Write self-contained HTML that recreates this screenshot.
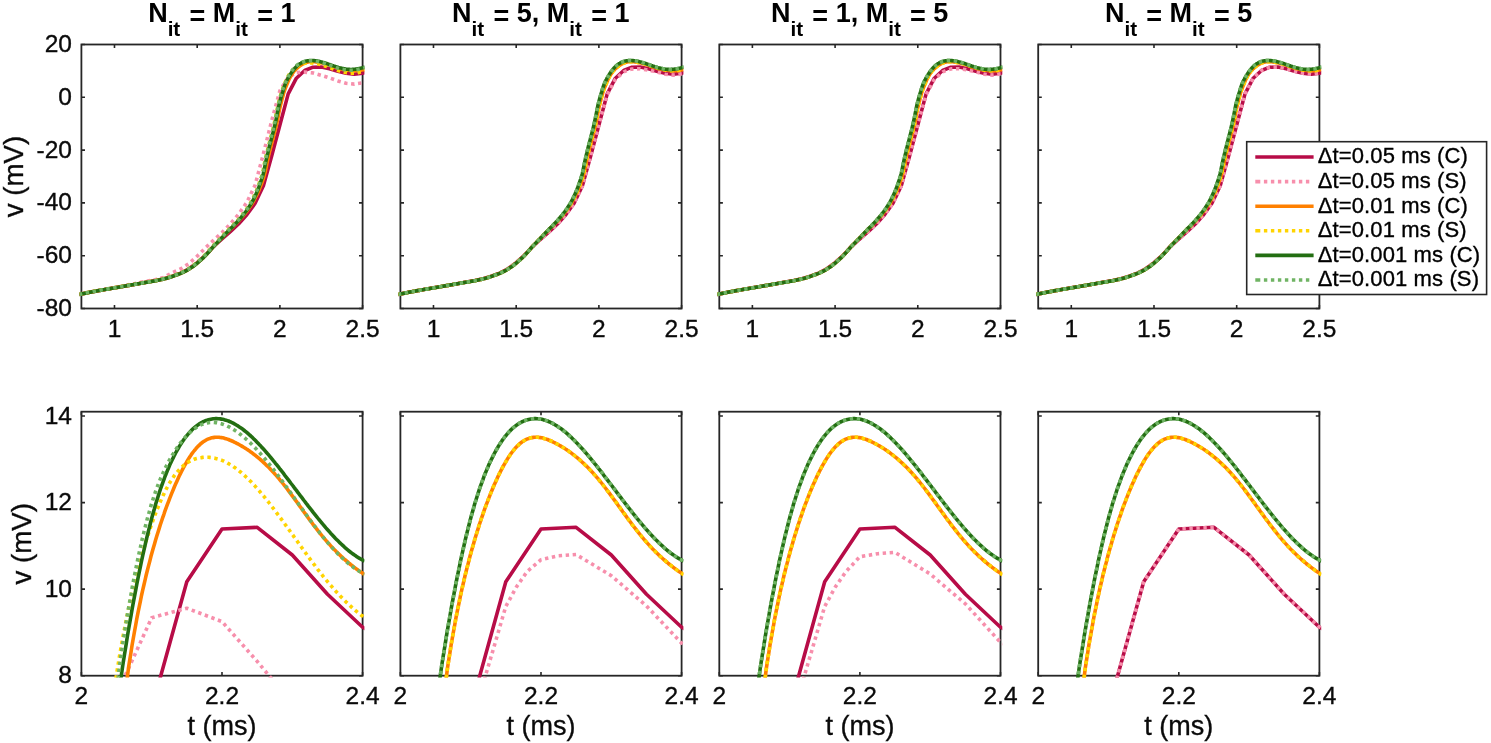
<!DOCTYPE html><html><head><meta charset="utf-8"><style>
html,body{margin:0;padding:0;background:#fff;width:1491px;height:743px;overflow:hidden}
svg{display:block;font-family:"Liberation Sans",sans-serif;will-change:transform}
.tk{font-size:24.5px;fill:#0a0a0a;stroke:#0a0a0a;stroke-width:0.35px}
.lb{font-size:27px;fill:#0a0a0a;stroke:#0a0a0a;stroke-width:0.35px}
.tt{font-size:27px;font-weight:bold;fill:#000}
.lg{font-size:22px;fill:#000;stroke:#000;stroke-width:0.35px;letter-spacing:0.12px}
</style></head><body>
<svg width="1491" height="743" viewBox="0 0 1491 743">
<defs>
<clipPath id="c00"><rect x="79.60" y="42.70" width="284.80" height="267.60"/></clipPath>
<clipPath id="c01"><rect x="398.60" y="42.70" width="284.80" height="267.60"/></clipPath>
<clipPath id="c02"><rect x="717.50" y="42.70" width="284.80" height="267.60"/></clipPath>
<clipPath id="c03"><rect x="1036.40" y="42.70" width="284.80" height="267.60"/></clipPath>
<clipPath id="c10"><rect x="79.60" y="409.90" width="284.80" height="267.60"/></clipPath>
<clipPath id="c11"><rect x="398.60" y="409.90" width="284.80" height="267.60"/></clipPath>
<clipPath id="c12"><rect x="717.50" y="409.90" width="284.80" height="267.60"/></clipPath>
<clipPath id="c13"><rect x="1036.40" y="409.90" width="284.80" height="267.60"/></clipPath>
</defs>
<rect x="81.40" y="44.50" width="281.20" height="264.00" fill="none" stroke="#262626" stroke-width="1.8"/>
<path d="M114.48 308.50V304.90M114.48 44.50V48.10M197.19 308.50V304.90M197.19 44.50V48.10M279.89 308.50V304.90M279.89 44.50V48.10M362.60 308.50V304.90M362.60 44.50V48.10M81.40 308.50H85.00M362.60 308.50H359.00M81.40 255.70H85.00M362.60 255.70H359.00M81.40 202.90H85.00M362.60 202.90H359.00M81.40 150.10H85.00M362.60 150.10H359.00M81.40 97.30H85.00M362.60 97.30H359.00M81.40 44.50H85.00M362.60 44.50H359.00" stroke="#262626" stroke-width="1.6" fill="none"/>
<g clip-path="url(#c00)" fill="none" stroke-width="3.60">
<path d="M78.1 294.7 81.4 294.0 89.7 292.3 97.9 290.7 106.2 289.3 114.5 287.8 122.8 286.4 131.0 285.0 139.3 283.5 147.6 282.1 155.8 280.6 164.1 278.8 172.4 276.2 180.6 273.1 188.9 268.8 197.2 262.6 205.5 255.2 213.7 246.3 222.0 238.9 230.3 231.6 238.5 224.0 246.8 214.8 255.1 203.3 263.4 185.8 271.6 156.3 279.9 125.0 288.2 93.9 296.4 78.2 304.7 70.5 313.0 67.2 321.2 67.1 329.5 68.8 337.8 71.2 346.1 73.2 354.3 74.3 362.6 73.1 365.9 72.7" stroke="#b70c47" stroke-linejoin="round" stroke-linecap="butt"/>
<path d="M78.1 294.4 81.4 293.7 89.7 292.0 97.9 290.5 106.2 289.0 114.5 287.6 122.8 286.0 131.0 284.3 139.3 282.7 147.6 281.0 155.8 279.4 164.1 277.3 172.4 272.6 180.6 268.9 188.9 263.6 197.2 256.2 205.5 247.8 213.7 240.1 222.0 232.5 230.3 224.0 238.5 214.3 246.8 202.4 255.1 185.2 263.4 153.8 271.6 121.1 279.9 90.7 288.2 77.3 296.4 72.6 304.7 72.1 313.0 72.9 321.2 75.3 329.5 77.9 337.8 80.9 346.1 83.3 354.3 84.1 362.6 82.8 365.9 82.3" stroke="#f78fac" stroke-dasharray="3.4 3.6" stroke-linejoin="round"/>
<path d="M78.9 294.5 79.7 294.3 80.5 294.2 81.3 294.0 82.1 293.8 82.8 293.7 83.6 293.5 84.4 293.4 85.2 293.2 86.0 293.0 86.8 292.9 87.5 292.7 88.3 292.6 89.1 292.4 89.9 292.3 90.7 292.1 91.5 292.0 92.2 291.8 93.0 291.7 93.8 291.5 94.6 291.4 95.4 291.2 96.2 291.1 97.0 290.9 97.7 290.8 98.5 290.6 99.3 290.5 100.1 290.4 100.9 290.2 101.7 290.1 102.4 289.9 103.2 289.8 104.0 289.7 104.8 289.5 105.6 289.4 106.4 289.3 107.1 289.1 107.9 289.0 108.7 288.9 109.5 288.7 110.3 288.6 111.1 288.5 111.8 288.3 112.6 288.2 113.4 288.1 114.2 287.9 115.0 287.8 115.8 287.7 116.6 287.5 117.3 287.4 118.1 287.2 118.9 287.1 119.7 287.0 120.5 286.8 121.3 286.7 122.0 286.6 122.8 286.4 123.6 286.3 124.4 286.2 125.2 286.0 126.0 285.9 126.7 285.8 127.5 285.6 128.3 285.5 129.1 285.4 129.9 285.2 130.7 285.1 131.4 284.9 132.2 284.8 133.0 284.7 133.8 284.5 134.6 284.4 135.4 284.3 136.2 284.1 136.9 284.0 137.7 283.9 138.5 283.7 139.3 283.6 140.1 283.4 140.9 283.3 141.6 283.2 142.4 283.0 143.2 282.9 144.0 282.8 144.8 282.6 145.6 282.5 146.3 282.3 147.1 282.2 147.9 282.1 148.7 281.9 149.5 281.8 150.3 281.7 151.0 281.6 151.8 281.4 152.6 281.3 153.4 281.1 154.2 281.0 155.0 280.9 155.8 280.7 156.5 280.6 157.3 280.4 158.1 280.3 158.9 280.1 159.7 279.9 160.5 279.8 161.2 279.6 162.0 279.4 162.8 279.2 163.6 279.0 164.4 278.8 165.2 278.6 165.9 278.4 166.7 278.2 167.5 277.9 168.3 277.7 169.1 277.5 169.9 277.2 170.6 277.0 171.4 276.7 172.2 276.4 173.0 276.2 173.8 275.9 174.6 275.6 175.4 275.3 176.1 275.0 176.9 274.8 177.7 274.5 178.5 274.2 179.3 273.9 180.1 273.6 180.8 273.3 181.6 272.9 182.4 272.6 183.2 272.2 184.0 271.9 184.8 271.5 185.5 271.1 186.3 270.7 187.1 270.2 187.9 269.8 188.7 269.3 189.5 268.8 190.2 268.3 191.0 267.8 191.8 267.3 192.6 266.7 193.4 266.2 194.2 265.6 195.0 265.0 195.7 264.3 196.5 263.7 197.3 263.1 198.1 262.4 198.9 261.7 199.7 261.0 200.4 260.3 201.2 259.6 202.0 258.9 202.8 258.2 203.6 257.4 204.4 256.6 205.1 255.9 205.9 255.0 206.7 254.2 207.5 253.3 208.3 252.5 209.1 251.6 209.8 250.7 210.6 249.8 211.4 248.9 212.2 248.0 213.0 247.1 213.8 246.3 214.6 245.4 215.3 244.6 216.1 243.8 216.9 242.9 217.7 242.1 218.5 241.3 219.3 240.5 220.0 239.7 220.8 238.9 221.6 238.1 222.4 237.3 223.2 236.5 224.0 235.6 224.7 234.8 225.5 234.0 226.3 233.2 227.1 232.4 227.9 231.6 228.7 230.8 229.4 230.0 230.2 229.2 231.0 228.5 231.8 227.7 232.6 227.0 233.4 226.2 234.2 225.4 234.9 224.6 235.7 223.8 236.5 223.0 237.3 222.2 238.1 221.4 238.9 220.6 239.6 219.7 240.4 218.8 241.2 217.9 242.0 217.0 242.8 216.1 243.6 215.2 244.3 214.3 245.1 213.3 245.9 212.3 246.7 211.3 247.5 210.3 248.3 209.2 249.0 208.1 249.8 207.0 250.6 205.9 251.4 204.6 252.2 203.4 253.0 202.1 253.8 200.7 254.5 199.2 255.3 197.8 256.1 196.2 256.9 194.6 257.7 193.0 258.5 191.3 259.2 189.5 260.0 187.7 260.8 185.7 261.6 183.7 262.4 181.5 263.2 179.2 263.9 176.7 264.7 173.9 265.5 170.7 266.3 166.8 267.1 162.7 267.9 159.0 268.6 155.6 269.4 152.4 270.2 149.3 271.0 146.2 271.8 143.1 272.6 140.0 273.4 137.0 274.1 134.0 274.9 131.0 275.7 127.9 276.5 124.7 277.3 121.1 278.1 117.1 278.8 113.1 279.6 109.2 280.4 105.7 281.2 102.5 282.0 99.3 282.8 96.4 283.5 93.7 284.3 91.2 285.1 88.9 285.9 86.8 286.7 84.8 287.5 83.0 288.2 81.2 289.0 79.5 289.8 78.0 290.6 76.5 291.4 75.0 292.2 73.8 293.0 72.7 293.7 71.7 294.5 70.7 295.3 69.9 296.1 69.1 296.9 68.3 297.7 67.6 298.4 67.0 299.2 66.4 300.0 65.8 300.8 65.3 301.6 64.8 302.4 64.3 303.1 63.9 303.9 63.5 304.7 63.1 305.5 62.8 306.3 62.5 307.1 62.3 307.8 62.1 308.6 61.9 309.4 61.8 310.2 61.7 311.0 61.7 311.8 61.6 312.6 61.6 313.3 61.7 314.1 61.7 314.9 61.8 315.7 61.9 316.5 62.0 317.3 62.1 318.0 62.2 318.8 62.4 319.6 62.5 320.4 62.7 321.2 62.8 322.0 63.0 322.7 63.2 323.5 63.4 324.3 63.6 325.1 63.8 325.9 64.0 326.7 64.3 327.4 64.5 328.2 64.8 329.0 65.0 329.8 65.3 330.6 65.6 331.4 65.9 332.2 66.2 332.9 66.4 333.7 66.7 334.5 67.0 335.3 67.2 336.1 67.5 336.9 67.8 337.6 68.0 338.4 68.2 339.2 68.4 340.0 68.6 340.8 68.8 341.6 69.0 342.3 69.2 343.1 69.4 343.9 69.5 344.7 69.7 345.5 69.8 346.3 70.0 347.0 70.1 347.8 70.2 348.6 70.3 349.4 70.4 350.2 70.5 351.0 70.6 351.8 70.6 352.5 70.7 353.3 70.7 354.1 70.7 354.9 70.7 355.7 70.7 356.5 70.7 357.2 70.6 358.0 70.6 358.8 70.5 359.6 70.4 360.4 70.3 361.2 70.1 361.9 70.0 362.7 69.8 363.5 69.7 364.3 69.5 365.1 69.3" stroke="#ff8000" stroke-linejoin="round" stroke-linecap="butt"/>
<path d="M78.9 294.3 79.7 294.1 80.5 294.0 81.3 293.8 82.1 293.6 82.8 293.5 83.6 293.3 84.4 293.2 85.2 293.0 86.0 292.8 86.8 292.7 87.5 292.5 88.3 292.4 89.1 292.2 89.9 292.1 90.7 291.9 91.5 291.8 92.2 291.6 93.0 291.5 93.8 291.3 94.6 291.2 95.4 291.0 96.2 290.9 97.0 290.7 97.7 290.6 98.5 290.5 99.3 290.3 100.1 290.2 100.9 290.0 101.7 289.9 102.4 289.8 103.2 289.6 104.0 289.5 104.8 289.4 105.6 289.2 106.4 289.1 107.1 289.0 107.9 288.8 108.7 288.7 109.5 288.6 110.3 288.4 111.1 288.3 111.8 288.2 112.6 288.0 113.4 287.9 114.2 287.8 115.0 287.6 115.8 287.5 116.6 287.3 117.3 287.2 118.1 287.1 118.9 286.9 119.7 286.8 120.5 286.7 121.3 286.5 122.0 286.4 122.8 286.3 123.6 286.1 124.4 286.0 125.2 285.9 126.0 285.7 126.7 285.6 127.5 285.5 128.3 285.3 129.1 285.2 129.9 285.0 130.7 284.9 131.4 284.8 132.2 284.6 133.0 284.5 133.8 284.4 134.6 284.2 135.4 284.1 136.2 284.0 136.9 283.8 137.7 283.7 138.5 283.5 139.3 283.4 140.1 283.3 140.9 283.1 141.6 283.0 142.4 282.9 143.2 282.7 144.0 282.6 144.8 282.4 145.6 282.3 146.3 282.2 147.1 282.0 147.9 281.9 148.7 281.8 149.5 281.6 150.3 281.5 151.0 281.4 151.8 281.2 152.6 281.1 153.4 281.0 154.2 280.8 155.0 280.7 155.8 280.5 156.5 280.4 157.3 280.2 158.1 280.1 158.9 279.9 159.7 279.7 160.5 279.6 161.2 279.4 162.0 279.2 162.8 279.0 163.6 278.8 164.4 278.5 165.2 278.3 165.9 278.1 166.7 277.9 167.5 277.6 168.3 277.4 169.1 277.1 169.9 276.9 170.6 276.6 171.4 276.4 172.2 276.1 173.0 275.8 173.8 275.5 174.6 275.2 175.4 275.0 176.1 274.7 176.9 274.4 177.7 274.1 178.5 273.8 179.3 273.5 180.1 273.2 180.8 272.9 181.6 272.5 182.4 272.1 183.2 271.8 184.0 271.4 184.8 271.0 185.5 270.5 186.3 270.1 187.1 269.7 187.9 269.2 188.7 268.7 189.5 268.2 190.2 267.7 191.0 267.2 191.8 266.6 192.6 266.0 193.4 265.4 194.2 264.8 195.0 264.2 195.7 263.5 196.5 262.9 197.3 262.2 198.1 261.5 198.9 260.8 199.7 260.1 200.4 259.4 201.2 258.7 202.0 258.0 202.8 257.2 203.6 256.4 204.4 255.6 205.1 254.8 205.9 254.0 206.7 253.1 207.5 252.2 208.3 251.3 209.1 250.5 209.8 249.6 210.6 248.7 211.4 247.8 212.2 246.9 213.0 246.1 213.8 245.2 214.6 244.4 215.3 243.6 216.1 242.7 216.9 241.9 217.7 241.1 218.5 240.3 219.3 239.5 220.0 238.7 220.8 237.9 221.6 237.1 222.4 236.2 223.2 235.4 224.0 234.6 224.7 233.7 225.5 232.9 226.3 232.1 227.1 231.3 227.9 230.4 228.7 229.6 229.4 228.9 230.2 228.1 231.0 227.3 231.8 226.5 232.6 225.7 233.4 224.9 234.2 224.1 234.9 223.3 235.7 222.5 236.5 221.6 237.3 220.8 238.1 219.9 238.9 219.0 239.6 218.1 240.4 217.1 241.2 216.2 242.0 215.2 242.8 214.3 243.6 213.3 244.3 212.3 245.1 211.2 245.9 210.1 246.7 209.0 247.5 207.9 248.3 206.7 249.0 205.5 249.8 204.2 250.6 202.8 251.4 201.4 252.2 199.9 253.0 198.4 253.8 196.8 254.5 195.1 255.3 193.4 256.1 191.6 256.9 189.7 257.7 187.7 258.5 185.6 259.2 183.4 260.0 181.1 260.8 178.8 261.6 176.2 262.4 173.4 263.2 170.1 263.9 166.1 264.7 162.0 265.5 158.4 266.3 155.1 267.1 151.9 267.9 148.8 268.6 145.7 269.4 142.6 270.2 139.5 271.0 136.5 271.8 133.5 272.6 130.5 273.4 127.4 274.1 124.1 274.9 120.4 275.7 116.5 276.5 112.5 277.3 108.6 278.1 105.1 278.8 101.9 279.6 98.9 280.4 95.9 281.2 93.2 282.0 90.8 282.8 88.6 283.5 86.4 284.3 84.4 285.1 82.5 285.9 80.7 286.7 79.0 287.5 77.4 288.2 75.9 289.0 74.7 289.8 73.6 290.6 72.6 291.4 71.6 292.2 70.8 293.0 69.9 293.7 69.2 294.5 68.5 295.3 67.8 296.1 67.2 296.9 66.6 297.7 66.1 298.4 65.6 299.2 65.1 300.0 64.7 300.8 64.4 301.6 64.0 302.4 63.8 303.1 63.6 303.9 63.4 304.7 63.2 305.5 63.1 306.3 63.0 307.1 62.9 307.8 62.9 308.6 62.9 309.4 62.9 310.2 62.9 311.0 62.9 311.8 62.9 312.6 63.0 313.3 63.1 314.1 63.2 314.9 63.3 315.7 63.4 316.5 63.6 317.3 63.7 318.0 63.9 318.8 64.1 319.6 64.3 320.4 64.5 321.2 64.7 322.0 65.0 322.7 65.2 323.5 65.5 324.3 65.7 325.1 66.0 325.9 66.3 326.7 66.5 327.4 66.8 328.2 67.1 329.0 67.4 329.8 67.7 330.6 67.9 331.4 68.2 332.2 68.5 332.9 68.8 333.7 69.1 334.5 69.3 335.3 69.6 336.1 69.9 336.9 70.1 337.6 70.4 338.4 70.6 339.2 70.9 340.0 71.1 340.8 71.3 341.6 71.5 342.3 71.7 343.1 71.9 343.9 72.1 344.7 72.3 345.5 72.4 346.3 72.6 347.0 72.7 347.8 72.9 348.6 73.0 349.4 73.1 350.2 73.2 351.0 73.2 351.8 73.3 352.5 73.3 353.3 73.3 354.1 73.3 354.9 73.2 355.7 73.1 356.5 73.0 357.2 72.9 358.0 72.7 358.8 72.5 359.6 72.3 360.4 72.1 361.2 71.9 361.9 71.7 362.7 71.5 363.5 71.3 364.3 71.2 365.1 71.0" stroke="#ffd400" stroke-dasharray="3.4 3.6" stroke-linejoin="round"/>
<path d="M78.9 294.5 79.7 294.3 80.5 294.2 81.3 294.0 82.1 293.8 82.8 293.7 83.6 293.5 84.4 293.4 85.2 293.2 86.0 293.0 86.8 292.9 87.5 292.7 88.3 292.6 89.1 292.4 89.9 292.3 90.7 292.1 91.5 292.0 92.2 291.8 93.0 291.7 93.8 291.5 94.6 291.4 95.4 291.2 96.2 291.1 97.0 290.9 97.7 290.8 98.5 290.6 99.3 290.5 100.1 290.4 100.9 290.2 101.7 290.1 102.4 289.9 103.2 289.8 104.0 289.7 104.8 289.5 105.6 289.4 106.4 289.3 107.1 289.1 107.9 289.0 108.7 288.9 109.5 288.7 110.3 288.6 111.1 288.5 111.8 288.3 112.6 288.2 113.4 288.1 114.2 287.9 115.0 287.8 115.8 287.7 116.6 287.5 117.3 287.4 118.1 287.2 118.9 287.1 119.7 287.0 120.5 286.8 121.3 286.7 122.0 286.6 122.8 286.4 123.6 286.3 124.4 286.2 125.2 286.0 126.0 285.9 126.7 285.8 127.5 285.6 128.3 285.5 129.1 285.4 129.9 285.2 130.7 285.1 131.4 284.9 132.2 284.8 133.0 284.7 133.8 284.5 134.6 284.4 135.4 284.3 136.2 284.1 136.9 284.0 137.7 283.9 138.5 283.7 139.3 283.6 140.1 283.4 140.9 283.3 141.6 283.2 142.4 283.0 143.2 282.9 144.0 282.8 144.8 282.6 145.6 282.5 146.3 282.3 147.1 282.2 147.9 282.1 148.7 281.9 149.5 281.8 150.3 281.7 151.0 281.6 151.8 281.4 152.6 281.3 153.4 281.1 154.2 281.0 155.0 280.9 155.8 280.7 156.5 280.6 157.3 280.4 158.1 280.3 158.9 280.1 159.7 279.9 160.5 279.8 161.2 279.6 162.0 279.4 162.8 279.2 163.6 279.0 164.4 278.8 165.2 278.6 165.9 278.4 166.7 278.2 167.5 277.9 168.3 277.7 169.1 277.5 169.9 277.2 170.6 277.0 171.4 276.7 172.2 276.4 173.0 276.2 173.8 275.9 174.6 275.6 175.4 275.3 176.1 275.0 176.9 274.8 177.7 274.5 178.5 274.2 179.3 273.9 180.1 273.6 180.8 273.3 181.6 272.9 182.4 272.6 183.2 272.2 184.0 271.9 184.8 271.5 185.5 271.1 186.3 270.7 187.1 270.2 187.9 269.8 188.7 269.3 189.5 268.8 190.2 268.3 191.0 267.8 191.8 267.3 192.6 266.7 193.4 266.2 194.2 265.6 195.0 265.0 195.7 264.3 196.5 263.7 197.3 263.1 198.1 262.4 198.9 261.7 199.7 261.0 200.4 260.3 201.2 259.6 202.0 258.9 202.8 258.2 203.6 257.4 204.4 256.6 205.1 255.9 205.9 255.0 206.7 254.2 207.5 253.3 208.3 252.5 209.1 251.6 209.8 250.7 210.6 249.8 211.4 248.9 212.2 248.0 213.0 247.1 213.8 246.3 214.6 245.4 215.3 244.6 216.1 243.8 216.9 243.0 217.7 242.1 218.5 241.3 219.3 240.5 220.0 239.7 220.8 238.9 221.6 238.1 222.4 237.3 223.2 236.5 224.0 235.6 224.7 234.8 225.5 234.0 226.3 233.1 227.1 232.3 227.9 231.5 228.7 230.7 229.4 229.9 230.2 229.1 231.0 228.3 231.8 227.5 232.6 226.7 233.4 225.9 234.2 225.1 234.9 224.3 235.7 223.5 236.5 222.7 237.3 221.8 238.1 221.0 238.9 220.1 239.6 219.2 240.4 218.3 241.2 217.4 242.0 216.4 242.8 215.5 243.6 214.5 244.3 213.5 245.1 212.5 245.9 211.5 246.7 210.4 247.5 209.3 248.3 208.2 249.0 207.0 249.8 205.8 250.6 204.5 251.4 203.2 252.2 201.8 253.0 200.3 253.8 198.8 254.5 197.2 255.3 195.6 256.1 193.9 256.9 192.1 257.7 190.2 258.5 188.3 259.2 186.2 260.0 184.0 260.8 181.7 261.6 179.4 262.4 176.9 263.2 174.2 263.9 171.1 264.7 167.2 265.5 163.1 266.3 159.3 267.1 155.9 267.9 152.7 268.6 149.6 269.4 146.5 270.2 143.4 271.0 140.4 271.8 137.3 272.6 134.3 273.4 131.3 274.1 128.3 274.9 125.0 275.7 121.4 276.5 117.5 277.3 113.5 278.1 109.6 278.8 106.0 279.6 102.8 280.4 99.7 281.2 96.8 282.0 94.1 282.8 91.5 283.5 89.0 284.3 86.6 285.1 84.4 285.9 82.4 286.7 80.7 287.5 79.3 288.2 77.9 289.0 76.7 289.8 75.2 290.6 74.0 291.4 72.8 292.2 71.6 293.0 70.6 293.7 69.6 294.5 68.6 295.3 67.7 296.1 66.9 296.9 66.2 297.7 65.5 298.4 64.8 299.2 64.3 300.0 63.7 300.8 63.3 301.6 62.8 302.4 62.5 303.1 62.1 303.9 61.8 304.7 61.5 305.5 61.3 306.3 61.1 307.1 60.9 307.8 60.8 308.6 60.7 309.4 60.6 310.2 60.5 311.0 60.5 311.8 60.5 312.6 60.5 313.3 60.6 314.1 60.6 314.9 60.7 315.7 60.8 316.5 60.9 317.3 61.0 318.0 61.2 318.8 61.3 319.6 61.5 320.4 61.7 321.2 61.9 322.0 62.1 322.7 62.4 323.5 62.6 324.3 62.8 325.1 63.1 325.9 63.3 326.7 63.6 327.4 63.8 328.2 64.1 329.0 64.4 329.8 64.6 330.6 64.9 331.4 65.2 332.2 65.5 332.9 65.7 333.7 66.0 334.5 66.2 335.3 66.5 336.1 66.7 336.9 67.0 337.6 67.2 338.4 67.5 339.2 67.7 340.0 67.9 340.8 68.1 341.6 68.3 342.3 68.5 343.1 68.6 343.9 68.8 344.7 68.9 345.5 69.0 346.3 69.2 347.0 69.2 347.8 69.3 348.6 69.4 349.4 69.4 350.2 69.5 351.0 69.5 351.8 69.5 352.5 69.4 353.3 69.4 354.1 69.3 354.9 69.2 355.7 69.1 356.5 69.0 357.2 68.9 358.0 68.7 358.8 68.6 359.6 68.4 360.4 68.2 361.2 68.1 361.9 67.9 362.7 67.7 363.5 67.5 364.3 67.3 365.1 67.1" stroke="#236e12" stroke-linejoin="round" stroke-linecap="butt"/>
<path d="M78.9 294.4 79.7 294.2 80.5 294.0 81.3 293.9 82.1 293.7 82.8 293.5 83.6 293.4 84.4 293.2 85.2 293.1 86.0 292.9 86.8 292.8 87.5 292.6 88.3 292.4 89.1 292.3 89.9 292.1 90.7 292.0 91.5 291.8 92.2 291.7 93.0 291.5 93.8 291.4 94.6 291.2 95.4 291.1 96.2 290.9 97.0 290.8 97.7 290.7 98.5 290.5 99.3 290.4 100.1 290.2 100.9 290.1 101.7 290.0 102.4 289.8 103.2 289.7 104.0 289.6 104.8 289.4 105.6 289.3 106.4 289.2 107.1 289.0 107.9 288.9 108.7 288.8 109.5 288.6 110.3 288.5 111.1 288.4 111.8 288.2 112.6 288.1 113.4 287.9 114.2 287.8 115.0 287.7 115.8 287.5 116.6 287.4 117.3 287.3 118.1 287.1 118.9 287.0 119.7 286.9 120.5 286.7 121.3 286.6 122.0 286.5 122.8 286.3 123.6 286.2 124.4 286.1 125.2 285.9 126.0 285.8 126.7 285.6 127.5 285.5 128.3 285.4 129.1 285.2 129.9 285.1 130.7 285.0 131.4 284.8 132.2 284.7 133.0 284.6 133.8 284.4 134.6 284.3 135.4 284.2 136.2 284.0 136.9 283.9 137.7 283.7 138.5 283.6 139.3 283.5 140.1 283.3 140.9 283.2 141.6 283.1 142.4 282.9 143.2 282.8 144.0 282.6 144.8 282.5 145.6 282.4 146.3 282.2 147.1 282.1 147.9 282.0 148.7 281.8 149.5 281.7 150.3 281.6 151.0 281.4 151.8 281.3 152.6 281.2 153.4 281.0 154.2 280.9 155.0 280.7 155.8 280.6 156.5 280.5 157.3 280.3 158.1 280.1 158.9 280.0 159.7 279.8 160.5 279.6 161.2 279.4 162.0 279.3 162.8 279.1 163.6 278.8 164.4 278.6 165.2 278.4 165.9 278.2 166.7 278.0 167.5 277.7 168.3 277.5 169.1 277.3 169.9 277.0 170.6 276.7 171.4 276.5 172.2 276.2 173.0 275.9 173.8 275.6 174.6 275.4 175.4 275.1 176.1 274.8 176.9 274.5 177.7 274.2 178.5 273.9 179.3 273.6 180.1 273.3 180.8 273.0 181.6 272.7 182.4 272.3 183.2 271.9 184.0 271.5 184.8 271.1 185.5 270.7 186.3 270.3 187.1 269.8 187.9 269.4 188.7 268.9 189.5 268.4 190.2 267.9 191.0 267.4 191.8 266.8 192.6 266.3 193.4 265.7 194.2 265.1 195.0 264.4 195.7 263.8 196.5 263.2 197.3 262.5 198.1 261.8 198.9 261.1 199.7 260.4 200.4 259.7 201.2 259.0 202.0 258.3 202.8 257.5 203.6 256.8 204.4 256.0 205.1 255.2 205.9 254.3 206.7 253.5 207.5 252.6 208.3 251.7 209.1 250.8 209.8 249.9 210.6 249.0 211.4 248.2 212.2 247.3 213.0 246.4 213.8 245.6 214.6 244.7 215.3 243.9 216.1 243.1 216.9 242.3 217.7 241.5 218.5 240.6 219.3 239.8 220.0 239.0 220.8 238.2 221.6 237.4 222.4 236.6 223.2 235.8 224.0 234.9 224.7 234.1 225.5 233.3 226.3 232.4 227.1 231.6 227.9 230.8 228.7 230.0 229.4 229.2 230.2 228.4 231.0 227.7 231.8 226.9 232.6 226.1 233.4 225.3 234.2 224.5 234.9 223.6 235.7 222.8 236.5 222.0 237.3 221.1 238.1 220.3 238.9 219.4 239.6 218.5 240.4 217.5 241.2 216.6 242.0 215.6 242.8 214.7 243.6 213.7 244.3 212.7 245.1 211.7 245.9 210.6 246.7 209.5 247.5 208.4 248.3 207.2 249.0 206.0 249.8 204.7 250.6 203.4 251.4 202.0 252.2 200.6 253.0 199.1 253.8 197.5 254.5 195.9 255.3 194.2 256.1 192.4 256.9 190.5 257.7 188.6 258.5 186.5 259.2 184.4 260.0 182.1 260.8 179.8 261.6 177.3 262.4 174.6 263.2 171.6 263.9 167.9 264.7 163.7 265.5 159.9 266.3 156.4 267.1 153.2 267.9 150.1 268.6 147.0 269.4 143.9 270.2 140.8 271.0 137.8 271.8 134.8 272.6 131.8 273.4 128.7 274.1 125.5 274.9 122.0 275.7 118.2 276.5 114.2 277.3 110.2 278.1 106.6 278.8 103.3 279.6 100.1 280.4 97.1 281.2 94.3 282.0 91.8 282.8 89.5 283.5 87.4 284.3 85.4 285.1 83.5 285.9 81.7 286.7 80.0 287.5 78.4 288.2 76.8 289.0 75.3 289.8 73.9 290.6 72.7 291.4 71.5 292.2 70.4 293.0 69.3 293.7 68.4 294.5 67.5 295.3 66.7 296.1 66.0 296.9 65.3 297.7 64.7 298.4 64.2 299.2 63.7 300.0 63.3 300.8 62.9 301.6 62.6 302.4 62.3 303.1 62.0 303.9 61.7 304.7 61.5 305.5 61.3 306.3 61.2 307.1 61.0 307.8 60.9 308.6 60.8 309.4 60.8 310.2 60.7 311.0 60.7 311.8 60.8 312.6 60.8 313.3 60.9 314.1 60.9 314.9 61.0 315.7 61.2 316.5 61.3 317.3 61.4 318.0 61.6 318.8 61.8 319.6 62.0 320.4 62.2 321.2 62.4 322.0 62.6 322.7 62.8 323.5 63.1 324.3 63.3 325.1 63.6 325.9 63.9 326.7 64.1 327.4 64.4 328.2 64.7 329.0 65.0 329.8 65.3 330.6 65.6 331.4 65.8 332.2 66.1 332.9 66.4 333.7 66.7 334.5 67.0 335.3 67.2 336.1 67.5 336.9 67.8 337.6 68.0 338.4 68.2 339.2 68.5 340.0 68.7 340.8 68.9 341.6 69.1 342.3 69.3 343.1 69.4 343.9 69.6 344.7 69.7 345.5 69.8 346.3 69.9 347.0 70.0 347.8 70.1 348.6 70.2 349.4 70.2 350.2 70.3 351.0 70.3 351.8 70.3 352.5 70.2 353.3 70.2 354.1 70.1 354.9 70.0 355.7 69.9 356.5 69.8 357.2 69.6 358.0 69.5 358.8 69.3 359.6 69.1 360.4 68.9 361.2 68.7 361.9 68.6 362.7 68.4 363.5 68.2 364.3 68.0 365.1 67.9" stroke="#70b464" stroke-dasharray="3.4 3.6" stroke-linejoin="round"/>
</g>
<text class="tk" x="114.48" y="336.90" text-anchor="middle">1</text>
<text class="tk" x="197.19" y="336.90" text-anchor="middle">1.5</text>
<text class="tk" x="279.89" y="336.90" text-anchor="middle">2</text>
<text class="tk" x="362.60" y="336.90" text-anchor="middle">2.5</text>
<text class="tk" x="72.00" y="316.00" text-anchor="end">-80</text>
<text class="tk" x="72.00" y="263.20" text-anchor="end">-60</text>
<text class="tk" x="72.00" y="210.40" text-anchor="end">-40</text>
<text class="tk" x="72.00" y="157.60" text-anchor="end">-20</text>
<text class="tk" x="72.00" y="104.80" text-anchor="end">0</text>
<text class="tk" x="72.00" y="52.00" text-anchor="end">20</text>
<text class="lb" style="font-size:27.7px" transform="translate(23.00 176.50) rotate(-90)" text-anchor="middle">v (mV)</text>
<text class="tt" x="221.80" y="22.3" text-anchor="middle">N<tspan font-size="20.7px" dy="13.2">it</tspan><tspan dy="-13.2" dx="1.7"> <tspan dy="3.0">=</tspan><tspan dy="-3.0"> </tspan></tspan>M<tspan font-size="20.7px" dy="13.2">it</tspan><tspan dy="-13.2" dx="1.7"> <tspan dy="3.0">=</tspan><tspan dy="-3.0"> </tspan>1</tspan></text>
<rect x="400.40" y="44.50" width="281.20" height="264.00" fill="none" stroke="#262626" stroke-width="1.8"/>
<path d="M433.48 308.50V304.90M433.48 44.50V48.10M516.19 308.50V304.90M516.19 44.50V48.10M598.89 308.50V304.90M598.89 44.50V48.10M681.60 308.50V304.90M681.60 44.50V48.10M400.40 308.50H404.00M681.60 308.50H678.00M400.40 255.70H404.00M681.60 255.70H678.00M400.40 202.90H404.00M681.60 202.90H678.00M400.40 150.10H404.00M681.60 150.10H678.00M400.40 97.30H404.00M681.60 97.30H678.00M400.40 44.50H404.00M681.60 44.50H678.00" stroke="#262626" stroke-width="1.6" fill="none"/>
<g clip-path="url(#c01)" fill="none" stroke-width="3.60">
<path d="M397.1 294.7 400.4 294.0 408.7 292.3 416.9 290.7 425.2 289.3 433.5 287.8 441.8 286.4 450.0 285.0 458.3 283.5 466.6 282.1 474.8 280.6 483.1 278.8 491.4 276.2 499.6 273.1 507.9 268.8 516.2 262.6 524.5 255.2 532.7 246.3 541.0 238.9 549.3 231.6 557.5 224.0 565.8 214.8 574.1 203.3 582.4 185.8 590.6 156.3 598.9 125.0 607.2 93.9 615.4 78.2 623.7 70.5 632.0 67.2 640.2 67.1 648.5 68.8 656.8 71.2 665.1 73.2 673.3 74.3 681.6 73.1 684.9 72.7" stroke="#b70c47" stroke-linejoin="round" stroke-linecap="butt"/>
<path d="M397.1 294.7 400.4 294.0 408.7 292.3 416.9 290.7 425.2 289.3 433.5 287.8 441.8 286.4 450.0 285.0 458.3 283.5 466.6 282.1 474.8 280.6 483.1 278.8 491.4 276.2 499.6 273.1 507.9 268.8 516.2 262.6 524.5 255.2 532.7 246.3 541.0 238.9 549.3 231.6 557.5 224.0 565.8 214.8 574.1 203.3 582.4 185.8 590.6 156.3 598.9 125.0 607.2 94.7 615.4 79.3 623.7 72.0 626.2 70.8 628.7 69.8 632.0 69.1 636.1 68.9 640.2 68.8 648.5 70.1 656.8 71.9 665.1 74.2 673.3 75.1 681.6 73.9 684.9 73.5" stroke="#f78fac" stroke-dasharray="3.4 3.6" stroke-linejoin="round"/>
<path d="M397.9 294.5 398.7 294.3 399.5 294.2 400.3 294.0 401.1 293.8 401.8 293.7 402.6 293.5 403.4 293.4 404.2 293.2 405.0 293.0 405.8 292.9 406.5 292.7 407.3 292.6 408.1 292.4 408.9 292.3 409.7 292.1 410.5 292.0 411.2 291.8 412.0 291.7 412.8 291.5 413.6 291.4 414.4 291.2 415.2 291.1 416.0 290.9 416.7 290.8 417.5 290.6 418.3 290.5 419.1 290.4 419.9 290.2 420.7 290.1 421.4 289.9 422.2 289.8 423.0 289.7 423.8 289.5 424.6 289.4 425.4 289.3 426.1 289.1 426.9 289.0 427.7 288.9 428.5 288.7 429.3 288.6 430.1 288.5 430.8 288.3 431.6 288.2 432.4 288.1 433.2 287.9 434.0 287.8 434.8 287.7 435.6 287.5 436.3 287.4 437.1 287.2 437.9 287.1 438.7 287.0 439.5 286.8 440.3 286.7 441.0 286.6 441.8 286.4 442.6 286.3 443.4 286.2 444.2 286.0 445.0 285.9 445.7 285.8 446.5 285.6 447.3 285.5 448.1 285.4 448.9 285.2 449.7 285.1 450.4 284.9 451.2 284.8 452.0 284.7 452.8 284.5 453.6 284.4 454.4 284.3 455.2 284.1 455.9 284.0 456.7 283.9 457.5 283.7 458.3 283.6 459.1 283.4 459.9 283.3 460.6 283.2 461.4 283.0 462.2 282.9 463.0 282.8 463.8 282.6 464.6 282.5 465.3 282.3 466.1 282.2 466.9 282.1 467.7 281.9 468.5 281.8 469.3 281.7 470.0 281.6 470.8 281.4 471.6 281.3 472.4 281.1 473.2 281.0 474.0 280.9 474.8 280.7 475.5 280.6 476.3 280.4 477.1 280.3 477.9 280.1 478.7 279.9 479.5 279.8 480.2 279.6 481.0 279.4 481.8 279.2 482.6 279.0 483.4 278.8 484.2 278.6 484.9 278.4 485.7 278.2 486.5 277.9 487.3 277.7 488.1 277.5 488.9 277.2 489.6 277.0 490.4 276.7 491.2 276.4 492.0 276.2 492.8 275.9 493.6 275.6 494.4 275.3 495.1 275.0 495.9 274.8 496.7 274.5 497.5 274.2 498.3 273.9 499.1 273.6 499.8 273.3 500.6 272.9 501.4 272.6 502.2 272.2 503.0 271.9 503.8 271.5 504.5 271.1 505.3 270.7 506.1 270.2 506.9 269.8 507.7 269.3 508.5 268.8 509.2 268.3 510.0 267.8 510.8 267.3 511.6 266.7 512.4 266.2 513.2 265.6 514.0 265.0 514.7 264.3 515.5 263.7 516.3 263.1 517.1 262.4 517.9 261.7 518.7 261.0 519.4 260.3 520.2 259.6 521.0 258.9 521.8 258.2 522.6 257.4 523.4 256.6 524.1 255.9 524.9 255.0 525.7 254.2 526.5 253.3 527.3 252.5 528.1 251.6 528.8 250.7 529.6 249.8 530.4 248.9 531.2 248.0 532.0 247.1 532.8 246.3 533.6 245.4 534.3 244.6 535.1 243.8 535.9 242.9 536.7 242.1 537.5 241.3 538.3 240.5 539.0 239.7 539.8 238.9 540.6 238.1 541.4 237.3 542.2 236.5 543.0 235.6 543.7 234.8 544.5 234.0 545.3 233.2 546.1 232.4 546.9 231.6 547.7 230.8 548.4 230.0 549.2 229.2 550.0 228.5 550.8 227.7 551.6 227.0 552.4 226.2 553.2 225.4 553.9 224.6 554.7 223.8 555.5 223.0 556.3 222.2 557.1 221.4 557.9 220.6 558.6 219.7 559.4 218.8 560.2 217.9 561.0 217.0 561.8 216.1 562.6 215.2 563.3 214.3 564.1 213.3 564.9 212.3 565.7 211.3 566.5 210.3 567.3 209.2 568.0 208.1 568.8 207.0 569.6 205.9 570.4 204.6 571.2 203.4 572.0 202.1 572.8 200.7 573.5 199.2 574.3 197.8 575.1 196.2 575.9 194.6 576.7 193.0 577.5 191.3 578.2 189.5 579.0 187.7 579.8 185.7 580.6 183.7 581.4 181.5 582.2 179.2 582.9 176.7 583.7 173.9 584.5 170.7 585.3 166.8 586.1 162.7 586.9 159.0 587.6 155.6 588.4 152.4 589.2 149.3 590.0 146.2 590.8 143.1 591.6 140.0 592.4 137.0 593.1 134.0 593.9 131.0 594.7 127.9 595.5 124.7 596.3 121.1 597.1 117.1 597.8 113.1 598.6 109.2 599.4 105.7 600.2 102.5 601.0 99.3 601.8 96.4 602.5 93.7 603.3 91.2 604.1 88.9 604.9 86.8 605.7 84.8 606.5 83.0 607.2 81.2 608.0 79.5 608.8 78.0 609.6 76.5 610.4 75.0 611.2 73.8 612.0 72.7 612.7 71.7 613.5 70.7 614.3 69.9 615.1 69.1 615.9 68.3 616.7 67.6 617.4 67.0 618.2 66.4 619.0 65.8 619.8 65.3 620.6 64.8 621.4 64.3 622.1 63.9 622.9 63.5 623.7 63.1 624.5 62.8 625.3 62.5 626.1 62.3 626.8 62.1 627.6 61.9 628.4 61.8 629.2 61.7 630.0 61.7 630.8 61.6 631.6 61.6 632.3 61.7 633.1 61.7 633.9 61.8 634.7 61.9 635.5 62.0 636.3 62.1 637.0 62.2 637.8 62.4 638.6 62.5 639.4 62.7 640.2 62.8 641.0 63.0 641.7 63.2 642.5 63.4 643.3 63.6 644.1 63.8 644.9 64.0 645.7 64.3 646.4 64.5 647.2 64.8 648.0 65.0 648.8 65.3 649.6 65.6 650.4 65.9 651.2 66.2 651.9 66.4 652.7 66.7 653.5 67.0 654.3 67.2 655.1 67.5 655.9 67.8 656.6 68.0 657.4 68.2 658.2 68.4 659.0 68.6 659.8 68.8 660.6 69.0 661.3 69.2 662.1 69.4 662.9 69.5 663.7 69.7 664.5 69.8 665.3 70.0 666.0 70.1 666.8 70.2 667.6 70.3 668.4 70.4 669.2 70.5 670.0 70.6 670.8 70.6 671.5 70.7 672.3 70.7 673.1 70.7 673.9 70.7 674.7 70.7 675.5 70.7 676.2 70.6 677.0 70.6 677.8 70.5 678.6 70.4 679.4 70.3 680.2 70.1 680.9 70.0 681.7 69.8 682.5 69.7 683.3 69.5 684.1 69.3" stroke="#ff8000" stroke-linejoin="round" stroke-linecap="butt"/>
<path d="M397.9 294.5 398.7 294.3 399.5 294.2 400.3 294.0 401.1 293.8 401.8 293.7 402.6 293.5 403.4 293.4 404.2 293.2 405.0 293.0 405.8 292.9 406.5 292.7 407.3 292.6 408.1 292.4 408.9 292.3 409.7 292.1 410.5 292.0 411.2 291.8 412.0 291.7 412.8 291.5 413.6 291.4 414.4 291.2 415.2 291.1 416.0 290.9 416.7 290.8 417.5 290.6 418.3 290.5 419.1 290.4 419.9 290.2 420.7 290.1 421.4 289.9 422.2 289.8 423.0 289.7 423.8 289.5 424.6 289.4 425.4 289.3 426.1 289.1 426.9 289.0 427.7 288.9 428.5 288.7 429.3 288.6 430.1 288.5 430.8 288.3 431.6 288.2 432.4 288.1 433.2 287.9 434.0 287.8 434.8 287.7 435.6 287.5 436.3 287.4 437.1 287.2 437.9 287.1 438.7 287.0 439.5 286.8 440.3 286.7 441.0 286.6 441.8 286.4 442.6 286.3 443.4 286.2 444.2 286.0 445.0 285.9 445.7 285.8 446.5 285.6 447.3 285.5 448.1 285.4 448.9 285.2 449.7 285.1 450.4 284.9 451.2 284.8 452.0 284.7 452.8 284.5 453.6 284.4 454.4 284.3 455.2 284.1 455.9 284.0 456.7 283.9 457.5 283.7 458.3 283.6 459.1 283.4 459.9 283.3 460.6 283.2 461.4 283.0 462.2 282.9 463.0 282.8 463.8 282.6 464.6 282.5 465.3 282.3 466.1 282.2 466.9 282.1 467.7 281.9 468.5 281.8 469.3 281.7 470.0 281.6 470.8 281.4 471.6 281.3 472.4 281.1 473.2 281.0 474.0 280.9 474.8 280.7 475.5 280.6 476.3 280.4 477.1 280.3 477.9 280.1 478.7 279.9 479.5 279.8 480.2 279.6 481.0 279.4 481.8 279.2 482.6 279.0 483.4 278.8 484.2 278.6 484.9 278.4 485.7 278.2 486.5 277.9 487.3 277.7 488.1 277.5 488.9 277.2 489.6 277.0 490.4 276.7 491.2 276.4 492.0 276.2 492.8 275.9 493.6 275.6 494.4 275.3 495.1 275.0 495.9 274.8 496.7 274.5 497.5 274.2 498.3 273.9 499.1 273.6 499.8 273.3 500.6 272.9 501.4 272.6 502.2 272.2 503.0 271.9 503.8 271.5 504.5 271.1 505.3 270.7 506.1 270.2 506.9 269.8 507.7 269.3 508.5 268.8 509.2 268.3 510.0 267.8 510.8 267.3 511.6 266.7 512.4 266.2 513.2 265.6 514.0 265.0 514.7 264.3 515.5 263.7 516.3 263.1 517.1 262.4 517.9 261.7 518.7 261.0 519.4 260.3 520.2 259.6 521.0 258.9 521.8 258.2 522.6 257.4 523.4 256.6 524.1 255.9 524.9 255.0 525.7 254.2 526.5 253.3 527.3 252.5 528.1 251.6 528.8 250.7 529.6 249.8 530.4 248.9 531.2 248.0 532.0 247.1 532.8 246.3 533.6 245.4 534.3 244.6 535.1 243.8 535.9 242.9 536.7 242.1 537.5 241.3 538.3 240.5 539.0 239.7 539.8 238.9 540.6 238.1 541.4 237.3 542.2 236.5 543.0 235.6 543.7 234.8 544.5 234.0 545.3 233.2 546.1 232.4 546.9 231.6 547.7 230.8 548.4 230.0 549.2 229.2 550.0 228.5 550.8 227.7 551.6 227.0 552.4 226.2 553.2 225.4 553.9 224.6 554.7 223.8 555.5 223.0 556.3 222.2 557.1 221.4 557.9 220.6 558.6 219.7 559.4 218.8 560.2 217.9 561.0 217.0 561.8 216.1 562.6 215.2 563.3 214.3 564.1 213.3 564.9 212.3 565.7 211.3 566.5 210.3 567.3 209.2 568.0 208.1 568.8 207.0 569.6 205.9 570.4 204.6 571.2 203.4 572.0 202.1 572.8 200.7 573.5 199.2 574.3 197.8 575.1 196.2 575.9 194.6 576.7 193.0 577.5 191.3 578.2 189.5 579.0 187.7 579.8 185.7 580.6 183.7 581.4 181.5 582.2 179.2 582.9 176.7 583.7 173.9 584.5 170.7 585.3 166.8 586.1 162.7 586.9 159.0 587.6 155.6 588.4 152.4 589.2 149.3 590.0 146.2 590.8 143.1 591.6 140.0 592.4 137.0 593.1 134.0 593.9 131.0 594.7 127.9 595.5 124.7 596.3 121.1 597.1 117.1 597.8 113.1 598.6 109.2 599.4 105.7 600.2 102.5 601.0 99.3 601.8 96.4 602.5 93.7 603.3 91.2 604.1 88.9 604.9 86.8 605.7 84.8 606.5 83.0 607.2 81.2 608.0 79.5 608.8 78.0 609.6 76.5 610.4 75.0 611.2 73.8 612.0 72.7 612.7 71.7 613.5 70.7 614.3 69.9 615.1 69.1 615.9 68.3 616.7 67.6 617.4 67.0 618.2 66.4 619.0 65.8 619.8 65.3 620.6 64.8 621.4 64.3 622.1 63.9 622.9 63.5 623.7 63.1 624.5 62.8 625.3 62.5 626.1 62.3 626.8 62.1 627.6 61.9 628.4 61.8 629.2 61.7 630.0 61.7 630.8 61.6 631.6 61.6 632.3 61.7 633.1 61.7 633.9 61.8 634.7 61.9 635.5 62.0 636.3 62.1 637.0 62.2 637.8 62.4 638.6 62.5 639.4 62.7 640.2 62.8 641.0 63.0 641.7 63.2 642.5 63.4 643.3 63.6 644.1 63.8 644.9 64.0 645.7 64.3 646.4 64.5 647.2 64.8 648.0 65.0 648.8 65.3 649.6 65.6 650.4 65.9 651.2 66.2 651.9 66.4 652.7 66.7 653.5 67.0 654.3 67.2 655.1 67.5 655.9 67.8 656.6 68.0 657.4 68.2 658.2 68.4 659.0 68.6 659.8 68.8 660.6 69.0 661.3 69.2 662.1 69.4 662.9 69.5 663.7 69.7 664.5 69.8 665.3 70.0 666.0 70.1 666.8 70.2 667.6 70.3 668.4 70.4 669.2 70.5 670.0 70.6 670.8 70.6 671.5 70.7 672.3 70.7 673.1 70.7 673.9 70.7 674.7 70.7 675.5 70.7 676.2 70.6 677.0 70.6 677.8 70.5 678.6 70.4 679.4 70.3 680.2 70.1 680.9 70.0 681.7 69.8 682.5 69.7 683.3 69.5 684.1 69.3" stroke="#ffd400" stroke-dasharray="3.4 3.6" stroke-linejoin="round"/>
<path d="M397.9 294.5 398.7 294.3 399.5 294.2 400.3 294.0 401.1 293.8 401.8 293.7 402.6 293.5 403.4 293.4 404.2 293.2 405.0 293.0 405.8 292.9 406.5 292.7 407.3 292.6 408.1 292.4 408.9 292.3 409.7 292.1 410.5 292.0 411.2 291.8 412.0 291.7 412.8 291.5 413.6 291.4 414.4 291.2 415.2 291.1 416.0 290.9 416.7 290.8 417.5 290.6 418.3 290.5 419.1 290.4 419.9 290.2 420.7 290.1 421.4 289.9 422.2 289.8 423.0 289.7 423.8 289.5 424.6 289.4 425.4 289.3 426.1 289.1 426.9 289.0 427.7 288.9 428.5 288.7 429.3 288.6 430.1 288.5 430.8 288.3 431.6 288.2 432.4 288.1 433.2 287.9 434.0 287.8 434.8 287.7 435.6 287.5 436.3 287.4 437.1 287.2 437.9 287.1 438.7 287.0 439.5 286.8 440.3 286.7 441.0 286.6 441.8 286.4 442.6 286.3 443.4 286.2 444.2 286.0 445.0 285.9 445.7 285.8 446.5 285.6 447.3 285.5 448.1 285.4 448.9 285.2 449.7 285.1 450.4 284.9 451.2 284.8 452.0 284.7 452.8 284.5 453.6 284.4 454.4 284.3 455.2 284.1 455.9 284.0 456.7 283.9 457.5 283.7 458.3 283.6 459.1 283.4 459.9 283.3 460.6 283.2 461.4 283.0 462.2 282.9 463.0 282.8 463.8 282.6 464.6 282.5 465.3 282.3 466.1 282.2 466.9 282.1 467.7 281.9 468.5 281.8 469.3 281.7 470.0 281.6 470.8 281.4 471.6 281.3 472.4 281.1 473.2 281.0 474.0 280.9 474.8 280.7 475.5 280.6 476.3 280.4 477.1 280.3 477.9 280.1 478.7 279.9 479.5 279.8 480.2 279.6 481.0 279.4 481.8 279.2 482.6 279.0 483.4 278.8 484.2 278.6 484.9 278.4 485.7 278.2 486.5 277.9 487.3 277.7 488.1 277.5 488.9 277.2 489.6 277.0 490.4 276.7 491.2 276.4 492.0 276.2 492.8 275.9 493.6 275.6 494.4 275.3 495.1 275.0 495.9 274.8 496.7 274.5 497.5 274.2 498.3 273.9 499.1 273.6 499.8 273.3 500.6 272.9 501.4 272.6 502.2 272.2 503.0 271.9 503.8 271.5 504.5 271.1 505.3 270.7 506.1 270.2 506.9 269.8 507.7 269.3 508.5 268.8 509.2 268.3 510.0 267.8 510.8 267.3 511.6 266.7 512.4 266.2 513.2 265.6 514.0 265.0 514.7 264.3 515.5 263.7 516.3 263.1 517.1 262.4 517.9 261.7 518.7 261.0 519.4 260.3 520.2 259.6 521.0 258.9 521.8 258.2 522.6 257.4 523.4 256.6 524.1 255.9 524.9 255.0 525.7 254.2 526.5 253.3 527.3 252.5 528.1 251.6 528.8 250.7 529.6 249.8 530.4 248.9 531.2 248.0 532.0 247.1 532.8 246.3 533.6 245.4 534.3 244.6 535.1 243.8 535.9 243.0 536.7 242.1 537.5 241.3 538.3 240.5 539.0 239.7 539.8 238.9 540.6 238.1 541.4 237.3 542.2 236.5 543.0 235.6 543.7 234.8 544.5 234.0 545.3 233.1 546.1 232.3 546.9 231.5 547.7 230.7 548.4 229.9 549.2 229.1 550.0 228.3 550.8 227.5 551.6 226.7 552.4 225.9 553.2 225.1 553.9 224.3 554.7 223.5 555.5 222.7 556.3 221.8 557.1 221.0 557.9 220.1 558.6 219.2 559.4 218.3 560.2 217.4 561.0 216.4 561.8 215.5 562.6 214.5 563.3 213.5 564.1 212.5 564.9 211.5 565.7 210.4 566.5 209.3 567.3 208.2 568.0 207.0 568.8 205.8 569.6 204.5 570.4 203.2 571.2 201.8 572.0 200.3 572.8 198.8 573.5 197.2 574.3 195.6 575.1 193.9 575.9 192.1 576.7 190.2 577.5 188.3 578.2 186.2 579.0 184.0 579.8 181.7 580.6 179.4 581.4 176.9 582.2 174.2 582.9 171.1 583.7 167.2 584.5 163.1 585.3 159.3 586.1 155.9 586.9 152.7 587.6 149.6 588.4 146.5 589.2 143.4 590.0 140.4 590.8 137.3 591.6 134.3 592.4 131.3 593.1 128.3 593.9 125.0 594.7 121.4 595.5 117.5 596.3 113.5 597.1 109.6 597.8 106.0 598.6 102.8 599.4 99.7 600.2 96.8 601.0 94.1 601.8 91.5 602.5 89.0 603.3 86.6 604.1 84.4 604.9 82.4 605.7 80.7 606.5 79.3 607.2 77.9 608.0 76.7 608.8 75.2 609.6 74.0 610.4 72.8 611.2 71.6 612.0 70.6 612.7 69.6 613.5 68.6 614.3 67.7 615.1 66.9 615.9 66.2 616.7 65.5 617.4 64.8 618.2 64.3 619.0 63.7 619.8 63.3 620.6 62.8 621.4 62.5 622.1 62.1 622.9 61.8 623.7 61.5 624.5 61.3 625.3 61.1 626.1 60.9 626.8 60.8 627.6 60.7 628.4 60.6 629.2 60.5 630.0 60.5 630.8 60.5 631.6 60.5 632.3 60.6 633.1 60.6 633.9 60.7 634.7 60.8 635.5 60.9 636.3 61.0 637.0 61.2 637.8 61.3 638.6 61.5 639.4 61.7 640.2 61.9 641.0 62.1 641.7 62.4 642.5 62.6 643.3 62.8 644.1 63.1 644.9 63.3 645.7 63.6 646.4 63.8 647.2 64.1 648.0 64.4 648.8 64.6 649.6 64.9 650.4 65.2 651.2 65.5 651.9 65.7 652.7 66.0 653.5 66.2 654.3 66.5 655.1 66.7 655.9 67.0 656.6 67.2 657.4 67.5 658.2 67.7 659.0 67.9 659.8 68.1 660.6 68.3 661.3 68.5 662.1 68.6 662.9 68.8 663.7 68.9 664.5 69.0 665.3 69.2 666.0 69.2 666.8 69.3 667.6 69.4 668.4 69.4 669.2 69.5 670.0 69.5 670.8 69.5 671.5 69.4 672.3 69.4 673.1 69.3 673.9 69.2 674.7 69.1 675.5 69.0 676.2 68.9 677.0 68.7 677.8 68.6 678.6 68.4 679.4 68.2 680.2 68.1 680.9 67.9 681.7 67.7 682.5 67.5 683.3 67.3 684.1 67.1" stroke="#236e12" stroke-linejoin="round" stroke-linecap="butt"/>
<path d="M397.9 294.5 398.7 294.3 399.5 294.2 400.3 294.0 401.1 293.8 401.8 293.7 402.6 293.5 403.4 293.4 404.2 293.2 405.0 293.0 405.8 292.9 406.5 292.7 407.3 292.6 408.1 292.4 408.9 292.3 409.7 292.1 410.5 292.0 411.2 291.8 412.0 291.7 412.8 291.5 413.6 291.4 414.4 291.2 415.2 291.1 416.0 290.9 416.7 290.8 417.5 290.6 418.3 290.5 419.1 290.4 419.9 290.2 420.7 290.1 421.4 289.9 422.2 289.8 423.0 289.7 423.8 289.5 424.6 289.4 425.4 289.3 426.1 289.1 426.9 289.0 427.7 288.9 428.5 288.7 429.3 288.6 430.1 288.5 430.8 288.3 431.6 288.2 432.4 288.1 433.2 287.9 434.0 287.8 434.8 287.7 435.6 287.5 436.3 287.4 437.1 287.2 437.9 287.1 438.7 287.0 439.5 286.8 440.3 286.7 441.0 286.6 441.8 286.4 442.6 286.3 443.4 286.2 444.2 286.0 445.0 285.9 445.7 285.8 446.5 285.6 447.3 285.5 448.1 285.4 448.9 285.2 449.7 285.1 450.4 284.9 451.2 284.8 452.0 284.7 452.8 284.5 453.6 284.4 454.4 284.3 455.2 284.1 455.9 284.0 456.7 283.9 457.5 283.7 458.3 283.6 459.1 283.4 459.9 283.3 460.6 283.2 461.4 283.0 462.2 282.9 463.0 282.8 463.8 282.6 464.6 282.5 465.3 282.3 466.1 282.2 466.9 282.1 467.7 281.9 468.5 281.8 469.3 281.7 470.0 281.6 470.8 281.4 471.6 281.3 472.4 281.1 473.2 281.0 474.0 280.9 474.8 280.7 475.5 280.6 476.3 280.4 477.1 280.3 477.9 280.1 478.7 279.9 479.5 279.8 480.2 279.6 481.0 279.4 481.8 279.2 482.6 279.0 483.4 278.8 484.2 278.6 484.9 278.4 485.7 278.2 486.5 277.9 487.3 277.7 488.1 277.5 488.9 277.2 489.6 277.0 490.4 276.7 491.2 276.4 492.0 276.2 492.8 275.9 493.6 275.6 494.4 275.3 495.1 275.0 495.9 274.8 496.7 274.5 497.5 274.2 498.3 273.9 499.1 273.6 499.8 273.3 500.6 272.9 501.4 272.6 502.2 272.2 503.0 271.9 503.8 271.5 504.5 271.1 505.3 270.7 506.1 270.2 506.9 269.8 507.7 269.3 508.5 268.8 509.2 268.3 510.0 267.8 510.8 267.3 511.6 266.7 512.4 266.2 513.2 265.6 514.0 265.0 514.7 264.3 515.5 263.7 516.3 263.1 517.1 262.4 517.9 261.7 518.7 261.0 519.4 260.3 520.2 259.6 521.0 258.9 521.8 258.2 522.6 257.4 523.4 256.6 524.1 255.9 524.9 255.0 525.7 254.2 526.5 253.3 527.3 252.5 528.1 251.6 528.8 250.7 529.6 249.8 530.4 248.9 531.2 248.0 532.0 247.1 532.8 246.3 533.6 245.4 534.3 244.6 535.1 243.8 535.9 243.0 536.7 242.1 537.5 241.3 538.3 240.5 539.0 239.7 539.8 238.9 540.6 238.1 541.4 237.3 542.2 236.5 543.0 235.6 543.7 234.8 544.5 234.0 545.3 233.1 546.1 232.3 546.9 231.5 547.7 230.7 548.4 229.9 549.2 229.1 550.0 228.3 550.8 227.5 551.6 226.7 552.4 225.9 553.2 225.1 553.9 224.3 554.7 223.5 555.5 222.7 556.3 221.8 557.1 221.0 557.9 220.1 558.6 219.2 559.4 218.3 560.2 217.4 561.0 216.4 561.8 215.5 562.6 214.5 563.3 213.5 564.1 212.5 564.9 211.5 565.7 210.4 566.5 209.3 567.3 208.2 568.0 207.0 568.8 205.8 569.6 204.5 570.4 203.2 571.2 201.8 572.0 200.3 572.8 198.8 573.5 197.2 574.3 195.6 575.1 193.9 575.9 192.1 576.7 190.2 577.5 188.3 578.2 186.2 579.0 184.0 579.8 181.7 580.6 179.4 581.4 176.9 582.2 174.2 582.9 171.1 583.7 167.2 584.5 163.1 585.3 159.3 586.1 155.9 586.9 152.7 587.6 149.6 588.4 146.5 589.2 143.4 590.0 140.4 590.8 137.3 591.6 134.3 592.4 131.3 593.1 128.3 593.9 125.0 594.7 121.4 595.5 117.5 596.3 113.5 597.1 109.6 597.8 106.0 598.6 102.8 599.4 99.7 600.2 96.8 601.0 94.1 601.8 91.5 602.5 89.0 603.3 86.6 604.1 84.4 604.9 82.4 605.7 80.7 606.5 79.3 607.2 77.9 608.0 76.7 608.8 75.2 609.6 74.0 610.4 72.8 611.2 71.6 612.0 70.6 612.7 69.6 613.5 68.6 614.3 67.7 615.1 66.9 615.9 66.2 616.7 65.5 617.4 64.8 618.2 64.3 619.0 63.7 619.8 63.3 620.6 62.8 621.4 62.5 622.1 62.1 622.9 61.8 623.7 61.5 624.5 61.3 625.3 61.1 626.1 60.9 626.8 60.8 627.6 60.7 628.4 60.6 629.2 60.5 630.0 60.5 630.8 60.5 631.6 60.5 632.3 60.6 633.1 60.6 633.9 60.7 634.7 60.8 635.5 60.9 636.3 61.0 637.0 61.2 637.8 61.3 638.6 61.5 639.4 61.7 640.2 61.9 641.0 62.1 641.7 62.4 642.5 62.6 643.3 62.8 644.1 63.1 644.9 63.3 645.7 63.6 646.4 63.8 647.2 64.1 648.0 64.4 648.8 64.6 649.6 64.9 650.4 65.2 651.2 65.5 651.9 65.7 652.7 66.0 653.5 66.2 654.3 66.5 655.1 66.7 655.9 67.0 656.6 67.2 657.4 67.5 658.2 67.7 659.0 67.9 659.8 68.1 660.6 68.3 661.3 68.5 662.1 68.6 662.9 68.8 663.7 68.9 664.5 69.0 665.3 69.2 666.0 69.2 666.8 69.3 667.6 69.4 668.4 69.4 669.2 69.5 670.0 69.5 670.8 69.5 671.5 69.4 672.3 69.4 673.1 69.3 673.9 69.2 674.7 69.1 675.5 69.0 676.2 68.9 677.0 68.7 677.8 68.6 678.6 68.4 679.4 68.2 680.2 68.1 680.9 67.9 681.7 67.7 682.5 67.5 683.3 67.3 684.1 67.1" stroke="#70b464" stroke-dasharray="3.4 3.6" stroke-linejoin="round"/>
</g>
<text class="tk" x="433.48" y="336.90" text-anchor="middle">1</text>
<text class="tk" x="516.19" y="336.90" text-anchor="middle">1.5</text>
<text class="tk" x="598.89" y="336.90" text-anchor="middle">2</text>
<text class="tk" x="681.60" y="336.90" text-anchor="middle">2.5</text>
<text class="tt" x="540.80" y="22.3" text-anchor="middle">N<tspan font-size="20.7px" dy="13.2">it</tspan><tspan dy="-13.2" dx="1.7"> <tspan dy="3.0">=</tspan><tspan dy="-3.0"> </tspan>5, </tspan>M<tspan font-size="20.7px" dy="13.2">it</tspan><tspan dy="-13.2" dx="1.7"> <tspan dy="3.0">=</tspan><tspan dy="-3.0"> </tspan>1</tspan></text>
<rect x="719.30" y="44.50" width="281.20" height="264.00" fill="none" stroke="#262626" stroke-width="1.8"/>
<path d="M752.38 308.50V304.90M752.38 44.50V48.10M835.09 308.50V304.90M835.09 44.50V48.10M917.79 308.50V304.90M917.79 44.50V48.10M1000.50 308.50V304.90M1000.50 44.50V48.10M719.30 308.50H722.90M1000.50 308.50H996.90M719.30 255.70H722.90M1000.50 255.70H996.90M719.30 202.90H722.90M1000.50 202.90H996.90M719.30 150.10H722.90M1000.50 150.10H996.90M719.30 97.30H722.90M1000.50 97.30H996.90M719.30 44.50H722.90M1000.50 44.50H996.90" stroke="#262626" stroke-width="1.6" fill="none"/>
<g clip-path="url(#c02)" fill="none" stroke-width="3.60">
<path d="M716.0 294.7 719.3 294.0 727.6 292.3 735.8 290.7 744.1 289.3 752.4 287.8 760.7 286.4 768.9 285.0 777.2 283.5 785.5 282.1 793.7 280.6 802.0 278.8 810.3 276.2 818.5 273.1 826.8 268.8 835.1 262.6 843.4 255.2 851.6 246.3 859.9 238.9 868.2 231.6 876.4 224.0 884.7 214.8 893.0 203.3 901.3 185.8 909.5 156.3 917.8 125.0 926.1 93.9 934.3 78.2 942.6 70.5 950.9 67.2 959.1 67.1 967.4 68.8 975.7 71.2 984.0 73.2 992.2 74.3 1000.5 73.1 1003.8 72.7" stroke="#b70c47" stroke-linejoin="round" stroke-linecap="butt"/>
<path d="M716.0 294.7 719.3 294.0 727.6 292.3 735.8 290.7 744.1 289.3 752.4 287.8 760.7 286.4 768.9 285.0 777.2 283.5 785.5 282.1 793.7 280.6 802.0 278.8 810.3 276.2 818.5 273.1 826.8 268.8 835.1 262.6 843.4 255.2 851.6 246.3 859.9 238.9 868.2 231.6 876.4 224.0 884.7 214.8 893.0 203.3 901.3 185.8 909.5 156.3 917.8 125.0 926.1 94.7 934.3 79.3 942.6 72.0 945.1 70.8 947.6 69.8 950.9 68.9 955.0 68.7 959.1 68.7 967.4 70.0 975.7 71.8 984.0 74.1 992.2 75.1 1000.5 73.9 1003.8 73.5" stroke="#f78fac" stroke-dasharray="3.4 3.6" stroke-linejoin="round"/>
<path d="M716.8 294.5 717.6 294.3 718.4 294.2 719.2 294.0 720.0 293.8 720.7 293.7 721.5 293.5 722.3 293.4 723.1 293.2 723.9 293.0 724.7 292.9 725.4 292.7 726.2 292.6 727.0 292.4 727.8 292.3 728.6 292.1 729.4 292.0 730.1 291.8 730.9 291.7 731.7 291.5 732.5 291.4 733.3 291.2 734.1 291.1 734.9 290.9 735.6 290.8 736.4 290.6 737.2 290.5 738.0 290.4 738.8 290.2 739.6 290.1 740.3 289.9 741.1 289.8 741.9 289.7 742.7 289.5 743.5 289.4 744.3 289.3 745.0 289.1 745.8 289.0 746.6 288.9 747.4 288.7 748.2 288.6 749.0 288.5 749.7 288.3 750.5 288.2 751.3 288.1 752.1 287.9 752.9 287.8 753.7 287.7 754.5 287.5 755.2 287.4 756.0 287.2 756.8 287.1 757.6 287.0 758.4 286.8 759.2 286.7 759.9 286.6 760.7 286.4 761.5 286.3 762.3 286.2 763.1 286.0 763.9 285.9 764.6 285.8 765.4 285.6 766.2 285.5 767.0 285.4 767.8 285.2 768.6 285.1 769.3 284.9 770.1 284.8 770.9 284.7 771.7 284.5 772.5 284.4 773.3 284.3 774.1 284.1 774.8 284.0 775.6 283.9 776.4 283.7 777.2 283.6 778.0 283.4 778.8 283.3 779.5 283.2 780.3 283.0 781.1 282.9 781.9 282.8 782.7 282.6 783.5 282.5 784.2 282.3 785.0 282.2 785.8 282.1 786.6 281.9 787.4 281.8 788.2 281.7 788.9 281.6 789.7 281.4 790.5 281.3 791.3 281.1 792.1 281.0 792.9 280.9 793.7 280.7 794.4 280.6 795.2 280.4 796.0 280.3 796.8 280.1 797.6 279.9 798.4 279.8 799.1 279.6 799.9 279.4 800.7 279.2 801.5 279.0 802.3 278.8 803.1 278.6 803.8 278.4 804.6 278.2 805.4 277.9 806.2 277.7 807.0 277.5 807.8 277.2 808.5 277.0 809.3 276.7 810.1 276.4 810.9 276.2 811.7 275.9 812.5 275.6 813.3 275.3 814.0 275.0 814.8 274.8 815.6 274.5 816.4 274.2 817.2 273.9 818.0 273.6 818.7 273.3 819.5 272.9 820.3 272.6 821.1 272.2 821.9 271.9 822.7 271.5 823.4 271.1 824.2 270.7 825.0 270.2 825.8 269.8 826.6 269.3 827.4 268.8 828.1 268.3 828.9 267.8 829.7 267.3 830.5 266.7 831.3 266.2 832.1 265.6 832.9 265.0 833.6 264.3 834.4 263.7 835.2 263.1 836.0 262.4 836.8 261.7 837.6 261.0 838.3 260.3 839.1 259.6 839.9 258.9 840.7 258.2 841.5 257.4 842.3 256.6 843.0 255.9 843.8 255.0 844.6 254.2 845.4 253.3 846.2 252.5 847.0 251.6 847.7 250.7 848.5 249.8 849.3 248.9 850.1 248.0 850.9 247.1 851.7 246.3 852.5 245.4 853.2 244.6 854.0 243.8 854.8 242.9 855.6 242.1 856.4 241.3 857.2 240.5 857.9 239.7 858.7 238.9 859.5 238.1 860.3 237.3 861.1 236.5 861.9 235.6 862.6 234.8 863.4 234.0 864.2 233.2 865.0 232.4 865.8 231.6 866.6 230.8 867.3 230.0 868.1 229.2 868.9 228.5 869.7 227.7 870.5 227.0 871.3 226.2 872.1 225.4 872.8 224.6 873.6 223.8 874.4 223.0 875.2 222.2 876.0 221.4 876.8 220.6 877.5 219.7 878.3 218.8 879.1 217.9 879.9 217.0 880.7 216.1 881.5 215.2 882.2 214.3 883.0 213.3 883.8 212.3 884.6 211.3 885.4 210.3 886.2 209.2 886.9 208.1 887.7 207.0 888.5 205.9 889.3 204.6 890.1 203.4 890.9 202.1 891.7 200.7 892.4 199.2 893.2 197.8 894.0 196.2 894.8 194.6 895.6 193.0 896.4 191.3 897.1 189.5 897.9 187.7 898.7 185.7 899.5 183.7 900.3 181.5 901.1 179.2 901.8 176.7 902.6 173.9 903.4 170.7 904.2 166.8 905.0 162.7 905.8 159.0 906.5 155.6 907.3 152.4 908.1 149.3 908.9 146.2 909.7 143.1 910.5 140.0 911.3 137.0 912.0 134.0 912.8 131.0 913.6 127.9 914.4 124.7 915.2 121.1 916.0 117.1 916.7 113.1 917.5 109.2 918.3 105.7 919.1 102.5 919.9 99.3 920.7 96.4 921.4 93.7 922.2 91.2 923.0 88.9 923.8 86.8 924.6 84.8 925.4 83.0 926.1 81.2 926.9 79.5 927.7 78.0 928.5 76.5 929.3 75.0 930.1 73.8 930.9 72.7 931.6 71.7 932.4 70.7 933.2 69.9 934.0 69.1 934.8 68.3 935.6 67.6 936.3 67.0 937.1 66.4 937.9 65.8 938.7 65.3 939.5 64.8 940.3 64.3 941.0 63.9 941.8 63.5 942.6 63.1 943.4 62.8 944.2 62.5 945.0 62.3 945.7 62.1 946.5 61.9 947.3 61.8 948.1 61.7 948.9 61.7 949.7 61.6 950.5 61.6 951.2 61.7 952.0 61.7 952.8 61.8 953.6 61.9 954.4 62.0 955.2 62.1 955.9 62.2 956.7 62.4 957.5 62.5 958.3 62.7 959.1 62.8 959.9 63.0 960.6 63.2 961.4 63.4 962.2 63.6 963.0 63.8 963.8 64.0 964.6 64.3 965.3 64.5 966.1 64.8 966.9 65.0 967.7 65.3 968.5 65.6 969.3 65.9 970.1 66.2 970.8 66.4 971.6 66.7 972.4 67.0 973.2 67.2 974.0 67.5 974.8 67.8 975.5 68.0 976.3 68.2 977.1 68.4 977.9 68.6 978.7 68.8 979.5 69.0 980.2 69.2 981.0 69.4 981.8 69.5 982.6 69.7 983.4 69.8 984.2 70.0 984.9 70.1 985.7 70.2 986.5 70.3 987.3 70.4 988.1 70.5 988.9 70.6 989.7 70.6 990.4 70.7 991.2 70.7 992.0 70.7 992.8 70.7 993.6 70.7 994.4 70.7 995.1 70.6 995.9 70.6 996.7 70.5 997.5 70.4 998.3 70.3 999.1 70.1 999.8 70.0 1000.6 69.8 1001.4 69.7 1002.2 69.5 1003.0 69.3" stroke="#ff8000" stroke-linejoin="round" stroke-linecap="butt"/>
<path d="M716.8 294.5 717.6 294.3 718.4 294.2 719.2 294.0 720.0 293.8 720.7 293.7 721.5 293.5 722.3 293.4 723.1 293.2 723.9 293.0 724.7 292.9 725.4 292.7 726.2 292.6 727.0 292.4 727.8 292.3 728.6 292.1 729.4 292.0 730.1 291.8 730.9 291.7 731.7 291.5 732.5 291.4 733.3 291.2 734.1 291.1 734.9 290.9 735.6 290.8 736.4 290.6 737.2 290.5 738.0 290.4 738.8 290.2 739.6 290.1 740.3 289.9 741.1 289.8 741.9 289.7 742.7 289.5 743.5 289.4 744.3 289.3 745.0 289.1 745.8 289.0 746.6 288.9 747.4 288.7 748.2 288.6 749.0 288.5 749.7 288.3 750.5 288.2 751.3 288.1 752.1 287.9 752.9 287.8 753.7 287.7 754.5 287.5 755.2 287.4 756.0 287.2 756.8 287.1 757.6 287.0 758.4 286.8 759.2 286.7 759.9 286.6 760.7 286.4 761.5 286.3 762.3 286.2 763.1 286.0 763.9 285.9 764.6 285.8 765.4 285.6 766.2 285.5 767.0 285.4 767.8 285.2 768.6 285.1 769.3 284.9 770.1 284.8 770.9 284.7 771.7 284.5 772.5 284.4 773.3 284.3 774.1 284.1 774.8 284.0 775.6 283.9 776.4 283.7 777.2 283.6 778.0 283.4 778.8 283.3 779.5 283.2 780.3 283.0 781.1 282.9 781.9 282.8 782.7 282.6 783.5 282.5 784.2 282.3 785.0 282.2 785.8 282.1 786.6 281.9 787.4 281.8 788.2 281.7 788.9 281.6 789.7 281.4 790.5 281.3 791.3 281.1 792.1 281.0 792.9 280.9 793.7 280.7 794.4 280.6 795.2 280.4 796.0 280.3 796.8 280.1 797.6 279.9 798.4 279.8 799.1 279.6 799.9 279.4 800.7 279.2 801.5 279.0 802.3 278.8 803.1 278.6 803.8 278.4 804.6 278.2 805.4 277.9 806.2 277.7 807.0 277.5 807.8 277.2 808.5 277.0 809.3 276.7 810.1 276.4 810.9 276.2 811.7 275.9 812.5 275.6 813.3 275.3 814.0 275.0 814.8 274.8 815.6 274.5 816.4 274.2 817.2 273.9 818.0 273.6 818.7 273.3 819.5 272.9 820.3 272.6 821.1 272.2 821.9 271.9 822.7 271.5 823.4 271.1 824.2 270.7 825.0 270.2 825.8 269.8 826.6 269.3 827.4 268.8 828.1 268.3 828.9 267.8 829.7 267.3 830.5 266.7 831.3 266.2 832.1 265.6 832.9 265.0 833.6 264.3 834.4 263.7 835.2 263.1 836.0 262.4 836.8 261.7 837.6 261.0 838.3 260.3 839.1 259.6 839.9 258.9 840.7 258.2 841.5 257.4 842.3 256.6 843.0 255.9 843.8 255.0 844.6 254.2 845.4 253.3 846.2 252.5 847.0 251.6 847.7 250.7 848.5 249.8 849.3 248.9 850.1 248.0 850.9 247.1 851.7 246.3 852.5 245.4 853.2 244.6 854.0 243.8 854.8 242.9 855.6 242.1 856.4 241.3 857.2 240.5 857.9 239.7 858.7 238.9 859.5 238.1 860.3 237.3 861.1 236.5 861.9 235.6 862.6 234.8 863.4 234.0 864.2 233.2 865.0 232.4 865.8 231.6 866.6 230.8 867.3 230.0 868.1 229.2 868.9 228.5 869.7 227.7 870.5 227.0 871.3 226.2 872.1 225.4 872.8 224.6 873.6 223.8 874.4 223.0 875.2 222.2 876.0 221.4 876.8 220.6 877.5 219.7 878.3 218.8 879.1 217.9 879.9 217.0 880.7 216.1 881.5 215.2 882.2 214.3 883.0 213.3 883.8 212.3 884.6 211.3 885.4 210.3 886.2 209.2 886.9 208.1 887.7 207.0 888.5 205.9 889.3 204.6 890.1 203.4 890.9 202.1 891.7 200.7 892.4 199.2 893.2 197.8 894.0 196.2 894.8 194.6 895.6 193.0 896.4 191.3 897.1 189.5 897.9 187.7 898.7 185.7 899.5 183.7 900.3 181.5 901.1 179.2 901.8 176.7 902.6 173.9 903.4 170.7 904.2 166.8 905.0 162.7 905.8 159.0 906.5 155.6 907.3 152.4 908.1 149.3 908.9 146.2 909.7 143.1 910.5 140.0 911.3 137.0 912.0 134.0 912.8 131.0 913.6 127.9 914.4 124.7 915.2 121.1 916.0 117.1 916.7 113.1 917.5 109.2 918.3 105.7 919.1 102.5 919.9 99.3 920.7 96.4 921.4 93.7 922.2 91.2 923.0 88.9 923.8 86.8 924.6 84.8 925.4 83.0 926.1 81.2 926.9 79.5 927.7 78.0 928.5 76.5 929.3 75.0 930.1 73.8 930.9 72.7 931.6 71.7 932.4 70.7 933.2 69.9 934.0 69.1 934.8 68.3 935.6 67.6 936.3 67.0 937.1 66.4 937.9 65.8 938.7 65.3 939.5 64.8 940.3 64.3 941.0 63.9 941.8 63.5 942.6 63.1 943.4 62.8 944.2 62.5 945.0 62.3 945.7 62.1 946.5 61.9 947.3 61.8 948.1 61.7 948.9 61.7 949.7 61.6 950.5 61.6 951.2 61.7 952.0 61.7 952.8 61.8 953.6 61.9 954.4 62.0 955.2 62.1 955.9 62.2 956.7 62.4 957.5 62.5 958.3 62.7 959.1 62.8 959.9 63.0 960.6 63.2 961.4 63.4 962.2 63.6 963.0 63.8 963.8 64.0 964.6 64.3 965.3 64.5 966.1 64.8 966.9 65.0 967.7 65.3 968.5 65.6 969.3 65.9 970.1 66.2 970.8 66.4 971.6 66.7 972.4 67.0 973.2 67.2 974.0 67.5 974.8 67.8 975.5 68.0 976.3 68.2 977.1 68.4 977.9 68.6 978.7 68.8 979.5 69.0 980.2 69.2 981.0 69.4 981.8 69.5 982.6 69.7 983.4 69.8 984.2 70.0 984.9 70.1 985.7 70.2 986.5 70.3 987.3 70.4 988.1 70.5 988.9 70.6 989.7 70.6 990.4 70.7 991.2 70.7 992.0 70.7 992.8 70.7 993.6 70.7 994.4 70.7 995.1 70.6 995.9 70.6 996.7 70.5 997.5 70.4 998.3 70.3 999.1 70.1 999.8 70.0 1000.6 69.8 1001.4 69.7 1002.2 69.5 1003.0 69.3" stroke="#ffd400" stroke-dasharray="3.4 3.6" stroke-linejoin="round"/>
<path d="M716.8 294.5 717.6 294.3 718.4 294.2 719.2 294.0 720.0 293.8 720.7 293.7 721.5 293.5 722.3 293.4 723.1 293.2 723.9 293.0 724.7 292.9 725.4 292.7 726.2 292.6 727.0 292.4 727.8 292.3 728.6 292.1 729.4 292.0 730.1 291.8 730.9 291.7 731.7 291.5 732.5 291.4 733.3 291.2 734.1 291.1 734.9 290.9 735.6 290.8 736.4 290.6 737.2 290.5 738.0 290.4 738.8 290.2 739.6 290.1 740.3 289.9 741.1 289.8 741.9 289.7 742.7 289.5 743.5 289.4 744.3 289.3 745.0 289.1 745.8 289.0 746.6 288.9 747.4 288.7 748.2 288.6 749.0 288.5 749.7 288.3 750.5 288.2 751.3 288.1 752.1 287.9 752.9 287.8 753.7 287.7 754.5 287.5 755.2 287.4 756.0 287.2 756.8 287.1 757.6 287.0 758.4 286.8 759.2 286.7 759.9 286.6 760.7 286.4 761.5 286.3 762.3 286.2 763.1 286.0 763.9 285.9 764.6 285.8 765.4 285.6 766.2 285.5 767.0 285.4 767.8 285.2 768.6 285.1 769.3 284.9 770.1 284.8 770.9 284.7 771.7 284.5 772.5 284.4 773.3 284.3 774.1 284.1 774.8 284.0 775.6 283.9 776.4 283.7 777.2 283.6 778.0 283.4 778.8 283.3 779.5 283.2 780.3 283.0 781.1 282.9 781.9 282.8 782.7 282.6 783.5 282.5 784.2 282.3 785.0 282.2 785.8 282.1 786.6 281.9 787.4 281.8 788.2 281.7 788.9 281.6 789.7 281.4 790.5 281.3 791.3 281.1 792.1 281.0 792.9 280.9 793.7 280.7 794.4 280.6 795.2 280.4 796.0 280.3 796.8 280.1 797.6 279.9 798.4 279.8 799.1 279.6 799.9 279.4 800.7 279.2 801.5 279.0 802.3 278.8 803.1 278.6 803.8 278.4 804.6 278.2 805.4 277.9 806.2 277.7 807.0 277.5 807.8 277.2 808.5 277.0 809.3 276.7 810.1 276.4 810.9 276.2 811.7 275.9 812.5 275.6 813.3 275.3 814.0 275.0 814.8 274.8 815.6 274.5 816.4 274.2 817.2 273.9 818.0 273.6 818.7 273.3 819.5 272.9 820.3 272.6 821.1 272.2 821.9 271.9 822.7 271.5 823.4 271.1 824.2 270.7 825.0 270.2 825.8 269.8 826.6 269.3 827.4 268.8 828.1 268.3 828.9 267.8 829.7 267.3 830.5 266.7 831.3 266.2 832.1 265.6 832.9 265.0 833.6 264.3 834.4 263.7 835.2 263.1 836.0 262.4 836.8 261.7 837.6 261.0 838.3 260.3 839.1 259.6 839.9 258.9 840.7 258.2 841.5 257.4 842.3 256.6 843.0 255.9 843.8 255.0 844.6 254.2 845.4 253.3 846.2 252.5 847.0 251.6 847.7 250.7 848.5 249.8 849.3 248.9 850.1 248.0 850.9 247.1 851.7 246.3 852.5 245.4 853.2 244.6 854.0 243.8 854.8 243.0 855.6 242.1 856.4 241.3 857.2 240.5 857.9 239.7 858.7 238.9 859.5 238.1 860.3 237.3 861.1 236.5 861.9 235.6 862.6 234.8 863.4 234.0 864.2 233.1 865.0 232.3 865.8 231.5 866.6 230.7 867.3 229.9 868.1 229.1 868.9 228.3 869.7 227.5 870.5 226.7 871.3 225.9 872.1 225.1 872.8 224.3 873.6 223.5 874.4 222.7 875.2 221.8 876.0 221.0 876.8 220.1 877.5 219.2 878.3 218.3 879.1 217.4 879.9 216.4 880.7 215.5 881.5 214.5 882.2 213.5 883.0 212.5 883.8 211.5 884.6 210.4 885.4 209.3 886.2 208.2 886.9 207.0 887.7 205.8 888.5 204.5 889.3 203.2 890.1 201.8 890.9 200.3 891.7 198.8 892.4 197.2 893.2 195.6 894.0 193.9 894.8 192.1 895.6 190.2 896.4 188.3 897.1 186.2 897.9 184.0 898.7 181.7 899.5 179.4 900.3 176.9 901.1 174.2 901.8 171.1 902.6 167.2 903.4 163.1 904.2 159.3 905.0 155.9 905.8 152.7 906.5 149.6 907.3 146.5 908.1 143.4 908.9 140.4 909.7 137.3 910.5 134.3 911.3 131.3 912.0 128.3 912.8 125.0 913.6 121.4 914.4 117.5 915.2 113.5 916.0 109.6 916.7 106.0 917.5 102.8 918.3 99.7 919.1 96.8 919.9 94.1 920.7 91.5 921.4 89.0 922.2 86.6 923.0 84.4 923.8 82.4 924.6 80.7 925.4 79.3 926.1 77.9 926.9 76.7 927.7 75.2 928.5 74.0 929.3 72.8 930.1 71.6 930.9 70.6 931.6 69.6 932.4 68.6 933.2 67.7 934.0 66.9 934.8 66.2 935.6 65.5 936.3 64.8 937.1 64.3 937.9 63.7 938.7 63.3 939.5 62.8 940.3 62.5 941.0 62.1 941.8 61.8 942.6 61.5 943.4 61.3 944.2 61.1 945.0 60.9 945.7 60.8 946.5 60.7 947.3 60.6 948.1 60.5 948.9 60.5 949.7 60.5 950.5 60.5 951.2 60.6 952.0 60.6 952.8 60.7 953.6 60.8 954.4 60.9 955.2 61.0 955.9 61.2 956.7 61.3 957.5 61.5 958.3 61.7 959.1 61.9 959.9 62.1 960.6 62.4 961.4 62.6 962.2 62.8 963.0 63.1 963.8 63.3 964.6 63.6 965.3 63.8 966.1 64.1 966.9 64.4 967.7 64.6 968.5 64.9 969.3 65.2 970.1 65.5 970.8 65.7 971.6 66.0 972.4 66.2 973.2 66.5 974.0 66.7 974.8 67.0 975.5 67.2 976.3 67.5 977.1 67.7 977.9 67.9 978.7 68.1 979.5 68.3 980.2 68.5 981.0 68.6 981.8 68.8 982.6 68.9 983.4 69.0 984.2 69.2 984.9 69.2 985.7 69.3 986.5 69.4 987.3 69.4 988.1 69.5 988.9 69.5 989.7 69.5 990.4 69.4 991.2 69.4 992.0 69.3 992.8 69.2 993.6 69.1 994.4 69.0 995.1 68.9 995.9 68.7 996.7 68.6 997.5 68.4 998.3 68.2 999.1 68.1 999.8 67.9 1000.6 67.7 1001.4 67.5 1002.2 67.3 1003.0 67.1" stroke="#236e12" stroke-linejoin="round" stroke-linecap="butt"/>
<path d="M716.8 294.5 717.6 294.3 718.4 294.2 719.2 294.0 720.0 293.8 720.7 293.7 721.5 293.5 722.3 293.4 723.1 293.2 723.9 293.0 724.7 292.9 725.4 292.7 726.2 292.6 727.0 292.4 727.8 292.3 728.6 292.1 729.4 292.0 730.1 291.8 730.9 291.7 731.7 291.5 732.5 291.4 733.3 291.2 734.1 291.1 734.9 290.9 735.6 290.8 736.4 290.6 737.2 290.5 738.0 290.4 738.8 290.2 739.6 290.1 740.3 289.9 741.1 289.8 741.9 289.7 742.7 289.5 743.5 289.4 744.3 289.3 745.0 289.1 745.8 289.0 746.6 288.9 747.4 288.7 748.2 288.6 749.0 288.5 749.7 288.3 750.5 288.2 751.3 288.1 752.1 287.9 752.9 287.8 753.7 287.7 754.5 287.5 755.2 287.4 756.0 287.2 756.8 287.1 757.6 287.0 758.4 286.8 759.2 286.7 759.9 286.6 760.7 286.4 761.5 286.3 762.3 286.2 763.1 286.0 763.9 285.9 764.6 285.8 765.4 285.6 766.2 285.5 767.0 285.4 767.8 285.2 768.6 285.1 769.3 284.9 770.1 284.8 770.9 284.7 771.7 284.5 772.5 284.4 773.3 284.3 774.1 284.1 774.8 284.0 775.6 283.9 776.4 283.7 777.2 283.6 778.0 283.4 778.8 283.3 779.5 283.2 780.3 283.0 781.1 282.9 781.9 282.8 782.7 282.6 783.5 282.5 784.2 282.3 785.0 282.2 785.8 282.1 786.6 281.9 787.4 281.8 788.2 281.7 788.9 281.6 789.7 281.4 790.5 281.3 791.3 281.1 792.1 281.0 792.9 280.9 793.7 280.7 794.4 280.6 795.2 280.4 796.0 280.3 796.8 280.1 797.6 279.9 798.4 279.8 799.1 279.6 799.9 279.4 800.7 279.2 801.5 279.0 802.3 278.8 803.1 278.6 803.8 278.4 804.6 278.2 805.4 277.9 806.2 277.7 807.0 277.5 807.8 277.2 808.5 277.0 809.3 276.7 810.1 276.4 810.9 276.2 811.7 275.9 812.5 275.6 813.3 275.3 814.0 275.0 814.8 274.8 815.6 274.5 816.4 274.2 817.2 273.9 818.0 273.6 818.7 273.3 819.5 272.9 820.3 272.6 821.1 272.2 821.9 271.9 822.7 271.5 823.4 271.1 824.2 270.7 825.0 270.2 825.8 269.8 826.6 269.3 827.4 268.8 828.1 268.3 828.9 267.8 829.7 267.3 830.5 266.7 831.3 266.2 832.1 265.6 832.9 265.0 833.6 264.3 834.4 263.7 835.2 263.1 836.0 262.4 836.8 261.7 837.6 261.0 838.3 260.3 839.1 259.6 839.9 258.9 840.7 258.2 841.5 257.4 842.3 256.6 843.0 255.9 843.8 255.0 844.6 254.2 845.4 253.3 846.2 252.5 847.0 251.6 847.7 250.7 848.5 249.8 849.3 248.9 850.1 248.0 850.9 247.1 851.7 246.3 852.5 245.4 853.2 244.6 854.0 243.8 854.8 243.0 855.6 242.1 856.4 241.3 857.2 240.5 857.9 239.7 858.7 238.9 859.5 238.1 860.3 237.3 861.1 236.5 861.9 235.6 862.6 234.8 863.4 234.0 864.2 233.1 865.0 232.3 865.8 231.5 866.6 230.7 867.3 229.9 868.1 229.1 868.9 228.3 869.7 227.5 870.5 226.7 871.3 225.9 872.1 225.1 872.8 224.3 873.6 223.5 874.4 222.7 875.2 221.8 876.0 221.0 876.8 220.1 877.5 219.2 878.3 218.3 879.1 217.4 879.9 216.4 880.7 215.5 881.5 214.5 882.2 213.5 883.0 212.5 883.8 211.5 884.6 210.4 885.4 209.3 886.2 208.2 886.9 207.0 887.7 205.8 888.5 204.5 889.3 203.2 890.1 201.8 890.9 200.3 891.7 198.8 892.4 197.2 893.2 195.6 894.0 193.9 894.8 192.1 895.6 190.2 896.4 188.3 897.1 186.2 897.9 184.0 898.7 181.7 899.5 179.4 900.3 176.9 901.1 174.2 901.8 171.1 902.6 167.2 903.4 163.1 904.2 159.3 905.0 155.9 905.8 152.7 906.5 149.6 907.3 146.5 908.1 143.4 908.9 140.4 909.7 137.3 910.5 134.3 911.3 131.3 912.0 128.3 912.8 125.0 913.6 121.4 914.4 117.5 915.2 113.5 916.0 109.6 916.7 106.0 917.5 102.8 918.3 99.7 919.1 96.8 919.9 94.1 920.7 91.5 921.4 89.0 922.2 86.6 923.0 84.4 923.8 82.4 924.6 80.7 925.4 79.3 926.1 77.9 926.9 76.7 927.7 75.2 928.5 74.0 929.3 72.8 930.1 71.6 930.9 70.6 931.6 69.6 932.4 68.6 933.2 67.7 934.0 66.9 934.8 66.2 935.6 65.5 936.3 64.8 937.1 64.3 937.9 63.7 938.7 63.3 939.5 62.8 940.3 62.5 941.0 62.1 941.8 61.8 942.6 61.5 943.4 61.3 944.2 61.1 945.0 60.9 945.7 60.8 946.5 60.7 947.3 60.6 948.1 60.5 948.9 60.5 949.7 60.5 950.5 60.5 951.2 60.6 952.0 60.6 952.8 60.7 953.6 60.8 954.4 60.9 955.2 61.0 955.9 61.2 956.7 61.3 957.5 61.5 958.3 61.7 959.1 61.9 959.9 62.1 960.6 62.4 961.4 62.6 962.2 62.8 963.0 63.1 963.8 63.3 964.6 63.6 965.3 63.8 966.1 64.1 966.9 64.4 967.7 64.6 968.5 64.9 969.3 65.2 970.1 65.5 970.8 65.7 971.6 66.0 972.4 66.2 973.2 66.5 974.0 66.7 974.8 67.0 975.5 67.2 976.3 67.5 977.1 67.7 977.9 67.9 978.7 68.1 979.5 68.3 980.2 68.5 981.0 68.6 981.8 68.8 982.6 68.9 983.4 69.0 984.2 69.2 984.9 69.2 985.7 69.3 986.5 69.4 987.3 69.4 988.1 69.5 988.9 69.5 989.7 69.5 990.4 69.4 991.2 69.4 992.0 69.3 992.8 69.2 993.6 69.1 994.4 69.0 995.1 68.9 995.9 68.7 996.7 68.6 997.5 68.4 998.3 68.2 999.1 68.1 999.8 67.9 1000.6 67.7 1001.4 67.5 1002.2 67.3 1003.0 67.1" stroke="#70b464" stroke-dasharray="3.4 3.6" stroke-linejoin="round"/>
</g>
<text class="tk" x="752.38" y="336.90" text-anchor="middle">1</text>
<text class="tk" x="835.09" y="336.90" text-anchor="middle">1.5</text>
<text class="tk" x="917.79" y="336.90" text-anchor="middle">2</text>
<text class="tk" x="1000.50" y="336.90" text-anchor="middle">2.5</text>
<text class="tt" x="859.70" y="22.3" text-anchor="middle">N<tspan font-size="20.7px" dy="13.2">it</tspan><tspan dy="-13.2" dx="1.7"> <tspan dy="3.0">=</tspan><tspan dy="-3.0"> </tspan>1, </tspan>M<tspan font-size="20.7px" dy="13.2">it</tspan><tspan dy="-13.2" dx="1.7"> <tspan dy="3.0">=</tspan><tspan dy="-3.0"> </tspan>5</tspan></text>
<rect x="1038.20" y="44.50" width="281.20" height="264.00" fill="none" stroke="#262626" stroke-width="1.8"/>
<path d="M1071.28 308.50V304.90M1071.28 44.50V48.10M1153.99 308.50V304.90M1153.99 44.50V48.10M1236.69 308.50V304.90M1236.69 44.50V48.10M1319.40 308.50V304.90M1319.40 44.50V48.10M1038.20 308.50H1041.80M1319.40 308.50H1315.80M1038.20 255.70H1041.80M1319.40 255.70H1315.80M1038.20 202.90H1041.80M1319.40 202.90H1315.80M1038.20 150.10H1041.80M1319.40 150.10H1315.80M1038.20 97.30H1041.80M1319.40 97.30H1315.80M1038.20 44.50H1041.80M1319.40 44.50H1315.80" stroke="#262626" stroke-width="1.6" fill="none"/>
<g clip-path="url(#c03)" fill="none" stroke-width="3.60">
<path d="M1034.9 294.7 1038.2 294.0 1046.5 292.3 1054.7 290.7 1063.0 289.3 1071.3 287.8 1079.6 286.4 1087.8 285.0 1096.1 283.5 1104.4 282.1 1112.6 280.6 1120.9 278.8 1129.2 276.2 1137.4 273.1 1145.7 268.8 1154.0 262.6 1162.3 255.2 1170.5 246.3 1178.8 238.9 1187.1 231.6 1195.3 224.0 1203.6 214.8 1211.9 203.3 1220.2 185.8 1228.4 156.3 1236.7 125.0 1245.0 93.9 1253.2 78.2 1261.5 70.5 1269.8 67.2 1278.0 67.1 1286.3 68.8 1294.6 71.2 1302.9 73.2 1311.1 74.3 1319.4 73.1 1322.7 72.7" stroke="#b70c47" stroke-linejoin="round" stroke-linecap="butt"/>
<path d="M1034.9 294.7 1038.2 294.0 1046.5 292.3 1054.7 290.7 1063.0 289.3 1071.3 287.8 1079.6 286.4 1087.8 285.0 1096.1 283.5 1104.4 282.1 1112.6 280.6 1120.9 278.8 1129.2 276.2 1137.4 273.1 1145.7 268.8 1154.0 262.6 1162.3 255.2 1170.5 246.3 1178.8 238.9 1187.1 231.6 1195.3 224.0 1203.6 214.8 1211.9 203.3 1220.2 185.8 1228.4 156.3 1236.7 125.0 1245.0 93.9 1253.2 78.2 1261.5 70.5 1269.8 67.2 1278.0 67.1 1286.3 68.8 1294.6 71.2 1302.9 73.2 1311.1 74.3 1319.4 73.1 1322.7 72.7" stroke="#f78fac" stroke-dasharray="3.4 3.6" stroke-linejoin="round"/>
<path d="M1035.7 294.5 1036.5 294.3 1037.3 294.2 1038.1 294.0 1038.9 293.8 1039.6 293.7 1040.4 293.5 1041.2 293.4 1042.0 293.2 1042.8 293.0 1043.6 292.9 1044.3 292.7 1045.1 292.6 1045.9 292.4 1046.7 292.3 1047.5 292.1 1048.3 292.0 1049.0 291.8 1049.8 291.7 1050.6 291.5 1051.4 291.4 1052.2 291.2 1053.0 291.1 1053.8 290.9 1054.5 290.8 1055.3 290.6 1056.1 290.5 1056.9 290.4 1057.7 290.2 1058.5 290.1 1059.2 289.9 1060.0 289.8 1060.8 289.7 1061.6 289.5 1062.4 289.4 1063.2 289.3 1063.9 289.1 1064.7 289.0 1065.5 288.9 1066.3 288.7 1067.1 288.6 1067.9 288.5 1068.6 288.3 1069.4 288.2 1070.2 288.1 1071.0 287.9 1071.8 287.8 1072.6 287.7 1073.4 287.5 1074.1 287.4 1074.9 287.2 1075.7 287.1 1076.5 287.0 1077.3 286.8 1078.1 286.7 1078.8 286.6 1079.6 286.4 1080.4 286.3 1081.2 286.2 1082.0 286.0 1082.8 285.9 1083.5 285.8 1084.3 285.6 1085.1 285.5 1085.9 285.4 1086.7 285.2 1087.5 285.1 1088.2 284.9 1089.0 284.8 1089.8 284.7 1090.6 284.5 1091.4 284.4 1092.2 284.3 1093.0 284.1 1093.7 284.0 1094.5 283.9 1095.3 283.7 1096.1 283.6 1096.9 283.4 1097.7 283.3 1098.4 283.2 1099.2 283.0 1100.0 282.9 1100.8 282.8 1101.6 282.6 1102.4 282.5 1103.1 282.3 1103.9 282.2 1104.7 282.1 1105.5 281.9 1106.3 281.8 1107.1 281.7 1107.8 281.6 1108.6 281.4 1109.4 281.3 1110.2 281.1 1111.0 281.0 1111.8 280.9 1112.6 280.7 1113.3 280.6 1114.1 280.4 1114.9 280.3 1115.7 280.1 1116.5 279.9 1117.3 279.8 1118.0 279.6 1118.8 279.4 1119.6 279.2 1120.4 279.0 1121.2 278.8 1122.0 278.6 1122.7 278.4 1123.5 278.2 1124.3 277.9 1125.1 277.7 1125.9 277.5 1126.7 277.2 1127.4 277.0 1128.2 276.7 1129.0 276.4 1129.8 276.2 1130.6 275.9 1131.4 275.6 1132.2 275.3 1132.9 275.0 1133.7 274.8 1134.5 274.5 1135.3 274.2 1136.1 273.9 1136.9 273.6 1137.6 273.3 1138.4 272.9 1139.2 272.6 1140.0 272.2 1140.8 271.9 1141.6 271.5 1142.3 271.1 1143.1 270.7 1143.9 270.2 1144.7 269.8 1145.5 269.3 1146.3 268.8 1147.0 268.3 1147.8 267.8 1148.6 267.3 1149.4 266.7 1150.2 266.2 1151.0 265.6 1151.8 265.0 1152.5 264.3 1153.3 263.7 1154.1 263.1 1154.9 262.4 1155.7 261.7 1156.5 261.0 1157.2 260.3 1158.0 259.6 1158.8 258.9 1159.6 258.2 1160.4 257.4 1161.2 256.6 1161.9 255.9 1162.7 255.0 1163.5 254.2 1164.3 253.3 1165.1 252.5 1165.9 251.6 1166.6 250.7 1167.4 249.8 1168.2 248.9 1169.0 248.0 1169.8 247.1 1170.6 246.3 1171.4 245.4 1172.1 244.6 1172.9 243.8 1173.7 242.9 1174.5 242.1 1175.3 241.3 1176.1 240.5 1176.8 239.7 1177.6 238.9 1178.4 238.1 1179.2 237.3 1180.0 236.5 1180.8 235.6 1181.5 234.8 1182.3 234.0 1183.1 233.2 1183.9 232.4 1184.7 231.6 1185.5 230.8 1186.2 230.0 1187.0 229.2 1187.8 228.5 1188.6 227.7 1189.4 227.0 1190.2 226.2 1191.0 225.4 1191.7 224.6 1192.5 223.8 1193.3 223.0 1194.1 222.2 1194.9 221.4 1195.7 220.6 1196.4 219.7 1197.2 218.8 1198.0 217.9 1198.8 217.0 1199.6 216.1 1200.4 215.2 1201.1 214.3 1201.9 213.3 1202.7 212.3 1203.5 211.3 1204.3 210.3 1205.1 209.2 1205.8 208.1 1206.6 207.0 1207.4 205.9 1208.2 204.6 1209.0 203.4 1209.8 202.1 1210.6 200.7 1211.3 199.2 1212.1 197.8 1212.9 196.2 1213.7 194.6 1214.5 193.0 1215.3 191.3 1216.0 189.5 1216.8 187.7 1217.6 185.7 1218.4 183.7 1219.2 181.5 1220.0 179.2 1220.7 176.7 1221.5 173.9 1222.3 170.7 1223.1 166.8 1223.9 162.7 1224.7 159.0 1225.4 155.6 1226.2 152.4 1227.0 149.3 1227.8 146.2 1228.6 143.1 1229.4 140.0 1230.2 137.0 1230.9 134.0 1231.7 131.0 1232.5 127.9 1233.3 124.7 1234.1 121.1 1234.9 117.1 1235.6 113.1 1236.4 109.2 1237.2 105.7 1238.0 102.5 1238.8 99.3 1239.6 96.4 1240.3 93.7 1241.1 91.2 1241.9 88.9 1242.7 86.8 1243.5 84.8 1244.3 83.0 1245.0 81.2 1245.8 79.5 1246.6 78.0 1247.4 76.5 1248.2 75.0 1249.0 73.8 1249.8 72.7 1250.5 71.7 1251.3 70.7 1252.1 69.9 1252.9 69.1 1253.7 68.3 1254.5 67.6 1255.2 67.0 1256.0 66.4 1256.8 65.8 1257.6 65.3 1258.4 64.8 1259.2 64.3 1259.9 63.9 1260.7 63.5 1261.5 63.1 1262.3 62.8 1263.1 62.5 1263.9 62.3 1264.6 62.1 1265.4 61.9 1266.2 61.8 1267.0 61.7 1267.8 61.7 1268.6 61.6 1269.4 61.6 1270.1 61.7 1270.9 61.7 1271.7 61.8 1272.5 61.9 1273.3 62.0 1274.1 62.1 1274.8 62.2 1275.6 62.4 1276.4 62.5 1277.2 62.7 1278.0 62.8 1278.8 63.0 1279.5 63.2 1280.3 63.4 1281.1 63.6 1281.9 63.8 1282.7 64.0 1283.5 64.3 1284.2 64.5 1285.0 64.8 1285.8 65.0 1286.6 65.3 1287.4 65.6 1288.2 65.9 1289.0 66.2 1289.7 66.4 1290.5 66.7 1291.3 67.0 1292.1 67.2 1292.9 67.5 1293.7 67.8 1294.4 68.0 1295.2 68.2 1296.0 68.4 1296.8 68.6 1297.6 68.8 1298.4 69.0 1299.1 69.2 1299.9 69.4 1300.7 69.5 1301.5 69.7 1302.3 69.8 1303.1 70.0 1303.8 70.1 1304.6 70.2 1305.4 70.3 1306.2 70.4 1307.0 70.5 1307.8 70.6 1308.6 70.6 1309.3 70.7 1310.1 70.7 1310.9 70.7 1311.7 70.7 1312.5 70.7 1313.3 70.7 1314.0 70.6 1314.8 70.6 1315.6 70.5 1316.4 70.4 1317.2 70.3 1318.0 70.1 1318.7 70.0 1319.5 69.8 1320.3 69.7 1321.1 69.5 1321.9 69.3" stroke="#ff8000" stroke-linejoin="round" stroke-linecap="butt"/>
<path d="M1035.7 294.5 1036.5 294.3 1037.3 294.2 1038.1 294.0 1038.9 293.8 1039.6 293.7 1040.4 293.5 1041.2 293.4 1042.0 293.2 1042.8 293.0 1043.6 292.9 1044.3 292.7 1045.1 292.6 1045.9 292.4 1046.7 292.3 1047.5 292.1 1048.3 292.0 1049.0 291.8 1049.8 291.7 1050.6 291.5 1051.4 291.4 1052.2 291.2 1053.0 291.1 1053.8 290.9 1054.5 290.8 1055.3 290.6 1056.1 290.5 1056.9 290.4 1057.7 290.2 1058.5 290.1 1059.2 289.9 1060.0 289.8 1060.8 289.7 1061.6 289.5 1062.4 289.4 1063.2 289.3 1063.9 289.1 1064.7 289.0 1065.5 288.9 1066.3 288.7 1067.1 288.6 1067.9 288.5 1068.6 288.3 1069.4 288.2 1070.2 288.1 1071.0 287.9 1071.8 287.8 1072.6 287.7 1073.4 287.5 1074.1 287.4 1074.9 287.2 1075.7 287.1 1076.5 287.0 1077.3 286.8 1078.1 286.7 1078.8 286.6 1079.6 286.4 1080.4 286.3 1081.2 286.2 1082.0 286.0 1082.8 285.9 1083.5 285.8 1084.3 285.6 1085.1 285.5 1085.9 285.4 1086.7 285.2 1087.5 285.1 1088.2 284.9 1089.0 284.8 1089.8 284.7 1090.6 284.5 1091.4 284.4 1092.2 284.3 1093.0 284.1 1093.7 284.0 1094.5 283.9 1095.3 283.7 1096.1 283.6 1096.9 283.4 1097.7 283.3 1098.4 283.2 1099.2 283.0 1100.0 282.9 1100.8 282.8 1101.6 282.6 1102.4 282.5 1103.1 282.3 1103.9 282.2 1104.7 282.1 1105.5 281.9 1106.3 281.8 1107.1 281.7 1107.8 281.6 1108.6 281.4 1109.4 281.3 1110.2 281.1 1111.0 281.0 1111.8 280.9 1112.6 280.7 1113.3 280.6 1114.1 280.4 1114.9 280.3 1115.7 280.1 1116.5 279.9 1117.3 279.8 1118.0 279.6 1118.8 279.4 1119.6 279.2 1120.4 279.0 1121.2 278.8 1122.0 278.6 1122.7 278.4 1123.5 278.2 1124.3 277.9 1125.1 277.7 1125.9 277.5 1126.7 277.2 1127.4 277.0 1128.2 276.7 1129.0 276.4 1129.8 276.2 1130.6 275.9 1131.4 275.6 1132.2 275.3 1132.9 275.0 1133.7 274.8 1134.5 274.5 1135.3 274.2 1136.1 273.9 1136.9 273.6 1137.6 273.3 1138.4 272.9 1139.2 272.6 1140.0 272.2 1140.8 271.9 1141.6 271.5 1142.3 271.1 1143.1 270.7 1143.9 270.2 1144.7 269.8 1145.5 269.3 1146.3 268.8 1147.0 268.3 1147.8 267.8 1148.6 267.3 1149.4 266.7 1150.2 266.2 1151.0 265.6 1151.8 265.0 1152.5 264.3 1153.3 263.7 1154.1 263.1 1154.9 262.4 1155.7 261.7 1156.5 261.0 1157.2 260.3 1158.0 259.6 1158.8 258.9 1159.6 258.2 1160.4 257.4 1161.2 256.6 1161.9 255.9 1162.7 255.0 1163.5 254.2 1164.3 253.3 1165.1 252.5 1165.9 251.6 1166.6 250.7 1167.4 249.8 1168.2 248.9 1169.0 248.0 1169.8 247.1 1170.6 246.3 1171.4 245.4 1172.1 244.6 1172.9 243.8 1173.7 242.9 1174.5 242.1 1175.3 241.3 1176.1 240.5 1176.8 239.7 1177.6 238.9 1178.4 238.1 1179.2 237.3 1180.0 236.5 1180.8 235.6 1181.5 234.8 1182.3 234.0 1183.1 233.2 1183.9 232.4 1184.7 231.6 1185.5 230.8 1186.2 230.0 1187.0 229.2 1187.8 228.5 1188.6 227.7 1189.4 227.0 1190.2 226.2 1191.0 225.4 1191.7 224.6 1192.5 223.8 1193.3 223.0 1194.1 222.2 1194.9 221.4 1195.7 220.6 1196.4 219.7 1197.2 218.8 1198.0 217.9 1198.8 217.0 1199.6 216.1 1200.4 215.2 1201.1 214.3 1201.9 213.3 1202.7 212.3 1203.5 211.3 1204.3 210.3 1205.1 209.2 1205.8 208.1 1206.6 207.0 1207.4 205.9 1208.2 204.6 1209.0 203.4 1209.8 202.1 1210.6 200.7 1211.3 199.2 1212.1 197.8 1212.9 196.2 1213.7 194.6 1214.5 193.0 1215.3 191.3 1216.0 189.5 1216.8 187.7 1217.6 185.7 1218.4 183.7 1219.2 181.5 1220.0 179.2 1220.7 176.7 1221.5 173.9 1222.3 170.7 1223.1 166.8 1223.9 162.7 1224.7 159.0 1225.4 155.6 1226.2 152.4 1227.0 149.3 1227.8 146.2 1228.6 143.1 1229.4 140.0 1230.2 137.0 1230.9 134.0 1231.7 131.0 1232.5 127.9 1233.3 124.7 1234.1 121.1 1234.9 117.1 1235.6 113.1 1236.4 109.2 1237.2 105.7 1238.0 102.5 1238.8 99.3 1239.6 96.4 1240.3 93.7 1241.1 91.2 1241.9 88.9 1242.7 86.8 1243.5 84.8 1244.3 83.0 1245.0 81.2 1245.8 79.5 1246.6 78.0 1247.4 76.5 1248.2 75.0 1249.0 73.8 1249.8 72.7 1250.5 71.7 1251.3 70.7 1252.1 69.9 1252.9 69.1 1253.7 68.3 1254.5 67.6 1255.2 67.0 1256.0 66.4 1256.8 65.8 1257.6 65.3 1258.4 64.8 1259.2 64.3 1259.9 63.9 1260.7 63.5 1261.5 63.1 1262.3 62.8 1263.1 62.5 1263.9 62.3 1264.6 62.1 1265.4 61.9 1266.2 61.8 1267.0 61.7 1267.8 61.7 1268.6 61.6 1269.4 61.6 1270.1 61.7 1270.9 61.7 1271.7 61.8 1272.5 61.9 1273.3 62.0 1274.1 62.1 1274.8 62.2 1275.6 62.4 1276.4 62.5 1277.2 62.7 1278.0 62.8 1278.8 63.0 1279.5 63.2 1280.3 63.4 1281.1 63.6 1281.9 63.8 1282.7 64.0 1283.5 64.3 1284.2 64.5 1285.0 64.8 1285.8 65.0 1286.6 65.3 1287.4 65.6 1288.2 65.9 1289.0 66.2 1289.7 66.4 1290.5 66.7 1291.3 67.0 1292.1 67.2 1292.9 67.5 1293.7 67.8 1294.4 68.0 1295.2 68.2 1296.0 68.4 1296.8 68.6 1297.6 68.8 1298.4 69.0 1299.1 69.2 1299.9 69.4 1300.7 69.5 1301.5 69.7 1302.3 69.8 1303.1 70.0 1303.8 70.1 1304.6 70.2 1305.4 70.3 1306.2 70.4 1307.0 70.5 1307.8 70.6 1308.6 70.6 1309.3 70.7 1310.1 70.7 1310.9 70.7 1311.7 70.7 1312.5 70.7 1313.3 70.7 1314.0 70.6 1314.8 70.6 1315.6 70.5 1316.4 70.4 1317.2 70.3 1318.0 70.1 1318.7 70.0 1319.5 69.8 1320.3 69.7 1321.1 69.5 1321.9 69.3" stroke="#ffd400" stroke-dasharray="3.4 3.6" stroke-linejoin="round"/>
<path d="M1035.7 294.5 1036.5 294.3 1037.3 294.2 1038.1 294.0 1038.9 293.8 1039.6 293.7 1040.4 293.5 1041.2 293.4 1042.0 293.2 1042.8 293.0 1043.6 292.9 1044.3 292.7 1045.1 292.6 1045.9 292.4 1046.7 292.3 1047.5 292.1 1048.3 292.0 1049.0 291.8 1049.8 291.7 1050.6 291.5 1051.4 291.4 1052.2 291.2 1053.0 291.1 1053.8 290.9 1054.5 290.8 1055.3 290.6 1056.1 290.5 1056.9 290.4 1057.7 290.2 1058.5 290.1 1059.2 289.9 1060.0 289.8 1060.8 289.7 1061.6 289.5 1062.4 289.4 1063.2 289.3 1063.9 289.1 1064.7 289.0 1065.5 288.9 1066.3 288.7 1067.1 288.6 1067.9 288.5 1068.6 288.3 1069.4 288.2 1070.2 288.1 1071.0 287.9 1071.8 287.8 1072.6 287.7 1073.4 287.5 1074.1 287.4 1074.9 287.2 1075.7 287.1 1076.5 287.0 1077.3 286.8 1078.1 286.7 1078.8 286.6 1079.6 286.4 1080.4 286.3 1081.2 286.2 1082.0 286.0 1082.8 285.9 1083.5 285.8 1084.3 285.6 1085.1 285.5 1085.9 285.4 1086.7 285.2 1087.5 285.1 1088.2 284.9 1089.0 284.8 1089.8 284.7 1090.6 284.5 1091.4 284.4 1092.2 284.3 1093.0 284.1 1093.7 284.0 1094.5 283.9 1095.3 283.7 1096.1 283.6 1096.9 283.4 1097.7 283.3 1098.4 283.2 1099.2 283.0 1100.0 282.9 1100.8 282.8 1101.6 282.6 1102.4 282.5 1103.1 282.3 1103.9 282.2 1104.7 282.1 1105.5 281.9 1106.3 281.8 1107.1 281.7 1107.8 281.6 1108.6 281.4 1109.4 281.3 1110.2 281.1 1111.0 281.0 1111.8 280.9 1112.6 280.7 1113.3 280.6 1114.1 280.4 1114.9 280.3 1115.7 280.1 1116.5 279.9 1117.3 279.8 1118.0 279.6 1118.8 279.4 1119.6 279.2 1120.4 279.0 1121.2 278.8 1122.0 278.6 1122.7 278.4 1123.5 278.2 1124.3 277.9 1125.1 277.7 1125.9 277.5 1126.7 277.2 1127.4 277.0 1128.2 276.7 1129.0 276.4 1129.8 276.2 1130.6 275.9 1131.4 275.6 1132.2 275.3 1132.9 275.0 1133.7 274.8 1134.5 274.5 1135.3 274.2 1136.1 273.9 1136.9 273.6 1137.6 273.3 1138.4 272.9 1139.2 272.6 1140.0 272.2 1140.8 271.9 1141.6 271.5 1142.3 271.1 1143.1 270.7 1143.9 270.2 1144.7 269.8 1145.5 269.3 1146.3 268.8 1147.0 268.3 1147.8 267.8 1148.6 267.3 1149.4 266.7 1150.2 266.2 1151.0 265.6 1151.8 265.0 1152.5 264.3 1153.3 263.7 1154.1 263.1 1154.9 262.4 1155.7 261.7 1156.5 261.0 1157.2 260.3 1158.0 259.6 1158.8 258.9 1159.6 258.2 1160.4 257.4 1161.2 256.6 1161.9 255.9 1162.7 255.0 1163.5 254.2 1164.3 253.3 1165.1 252.5 1165.9 251.6 1166.6 250.7 1167.4 249.8 1168.2 248.9 1169.0 248.0 1169.8 247.1 1170.6 246.3 1171.4 245.4 1172.1 244.6 1172.9 243.8 1173.7 243.0 1174.5 242.1 1175.3 241.3 1176.1 240.5 1176.8 239.7 1177.6 238.9 1178.4 238.1 1179.2 237.3 1180.0 236.5 1180.8 235.6 1181.5 234.8 1182.3 234.0 1183.1 233.1 1183.9 232.3 1184.7 231.5 1185.5 230.7 1186.2 229.9 1187.0 229.1 1187.8 228.3 1188.6 227.5 1189.4 226.7 1190.2 225.9 1191.0 225.1 1191.7 224.3 1192.5 223.5 1193.3 222.7 1194.1 221.8 1194.9 221.0 1195.7 220.1 1196.4 219.2 1197.2 218.3 1198.0 217.4 1198.8 216.4 1199.6 215.5 1200.4 214.5 1201.1 213.5 1201.9 212.5 1202.7 211.5 1203.5 210.4 1204.3 209.3 1205.1 208.2 1205.8 207.0 1206.6 205.8 1207.4 204.5 1208.2 203.2 1209.0 201.8 1209.8 200.3 1210.6 198.8 1211.3 197.2 1212.1 195.6 1212.9 193.9 1213.7 192.1 1214.5 190.2 1215.3 188.3 1216.0 186.2 1216.8 184.0 1217.6 181.7 1218.4 179.4 1219.2 176.9 1220.0 174.2 1220.7 171.1 1221.5 167.2 1222.3 163.1 1223.1 159.3 1223.9 155.9 1224.7 152.7 1225.4 149.6 1226.2 146.5 1227.0 143.4 1227.8 140.4 1228.6 137.3 1229.4 134.3 1230.2 131.3 1230.9 128.3 1231.7 125.0 1232.5 121.4 1233.3 117.5 1234.1 113.5 1234.9 109.6 1235.6 106.0 1236.4 102.8 1237.2 99.7 1238.0 96.8 1238.8 94.1 1239.6 91.5 1240.3 89.0 1241.1 86.6 1241.9 84.4 1242.7 82.4 1243.5 80.7 1244.3 79.3 1245.0 77.9 1245.8 76.7 1246.6 75.2 1247.4 74.0 1248.2 72.8 1249.0 71.6 1249.8 70.6 1250.5 69.6 1251.3 68.6 1252.1 67.7 1252.9 66.9 1253.7 66.2 1254.5 65.5 1255.2 64.8 1256.0 64.3 1256.8 63.7 1257.6 63.3 1258.4 62.8 1259.2 62.5 1259.9 62.1 1260.7 61.8 1261.5 61.5 1262.3 61.3 1263.1 61.1 1263.9 60.9 1264.6 60.8 1265.4 60.7 1266.2 60.6 1267.0 60.5 1267.8 60.5 1268.6 60.5 1269.4 60.5 1270.1 60.6 1270.9 60.6 1271.7 60.7 1272.5 60.8 1273.3 60.9 1274.1 61.0 1274.8 61.2 1275.6 61.3 1276.4 61.5 1277.2 61.7 1278.0 61.9 1278.8 62.1 1279.5 62.4 1280.3 62.6 1281.1 62.8 1281.9 63.1 1282.7 63.3 1283.5 63.6 1284.2 63.8 1285.0 64.1 1285.8 64.4 1286.6 64.6 1287.4 64.9 1288.2 65.2 1289.0 65.5 1289.7 65.7 1290.5 66.0 1291.3 66.2 1292.1 66.5 1292.9 66.7 1293.7 67.0 1294.4 67.2 1295.2 67.5 1296.0 67.7 1296.8 67.9 1297.6 68.1 1298.4 68.3 1299.1 68.5 1299.9 68.6 1300.7 68.8 1301.5 68.9 1302.3 69.0 1303.1 69.2 1303.8 69.2 1304.6 69.3 1305.4 69.4 1306.2 69.4 1307.0 69.5 1307.8 69.5 1308.6 69.5 1309.3 69.4 1310.1 69.4 1310.9 69.3 1311.7 69.2 1312.5 69.1 1313.3 69.0 1314.0 68.9 1314.8 68.7 1315.6 68.6 1316.4 68.4 1317.2 68.2 1318.0 68.1 1318.7 67.9 1319.5 67.7 1320.3 67.5 1321.1 67.3 1321.9 67.1" stroke="#236e12" stroke-linejoin="round" stroke-linecap="butt"/>
<path d="M1035.7 294.5 1036.5 294.3 1037.3 294.2 1038.1 294.0 1038.9 293.8 1039.6 293.7 1040.4 293.5 1041.2 293.4 1042.0 293.2 1042.8 293.0 1043.6 292.9 1044.3 292.7 1045.1 292.6 1045.9 292.4 1046.7 292.3 1047.5 292.1 1048.3 292.0 1049.0 291.8 1049.8 291.7 1050.6 291.5 1051.4 291.4 1052.2 291.2 1053.0 291.1 1053.8 290.9 1054.5 290.8 1055.3 290.6 1056.1 290.5 1056.9 290.4 1057.7 290.2 1058.5 290.1 1059.2 289.9 1060.0 289.8 1060.8 289.7 1061.6 289.5 1062.4 289.4 1063.2 289.3 1063.9 289.1 1064.7 289.0 1065.5 288.9 1066.3 288.7 1067.1 288.6 1067.9 288.5 1068.6 288.3 1069.4 288.2 1070.2 288.1 1071.0 287.9 1071.8 287.8 1072.6 287.7 1073.4 287.5 1074.1 287.4 1074.9 287.2 1075.7 287.1 1076.5 287.0 1077.3 286.8 1078.1 286.7 1078.8 286.6 1079.6 286.4 1080.4 286.3 1081.2 286.2 1082.0 286.0 1082.8 285.9 1083.5 285.8 1084.3 285.6 1085.1 285.5 1085.9 285.4 1086.7 285.2 1087.5 285.1 1088.2 284.9 1089.0 284.8 1089.8 284.7 1090.6 284.5 1091.4 284.4 1092.2 284.3 1093.0 284.1 1093.7 284.0 1094.5 283.9 1095.3 283.7 1096.1 283.6 1096.9 283.4 1097.7 283.3 1098.4 283.2 1099.2 283.0 1100.0 282.9 1100.8 282.8 1101.6 282.6 1102.4 282.5 1103.1 282.3 1103.9 282.2 1104.7 282.1 1105.5 281.9 1106.3 281.8 1107.1 281.7 1107.8 281.6 1108.6 281.4 1109.4 281.3 1110.2 281.1 1111.0 281.0 1111.8 280.9 1112.6 280.7 1113.3 280.6 1114.1 280.4 1114.9 280.3 1115.7 280.1 1116.5 279.9 1117.3 279.8 1118.0 279.6 1118.8 279.4 1119.6 279.2 1120.4 279.0 1121.2 278.8 1122.0 278.6 1122.7 278.4 1123.5 278.2 1124.3 277.9 1125.1 277.7 1125.9 277.5 1126.7 277.2 1127.4 277.0 1128.2 276.7 1129.0 276.4 1129.8 276.2 1130.6 275.9 1131.4 275.6 1132.2 275.3 1132.9 275.0 1133.7 274.8 1134.5 274.5 1135.3 274.2 1136.1 273.9 1136.9 273.6 1137.6 273.3 1138.4 272.9 1139.2 272.6 1140.0 272.2 1140.8 271.9 1141.6 271.5 1142.3 271.1 1143.1 270.7 1143.9 270.2 1144.7 269.8 1145.5 269.3 1146.3 268.8 1147.0 268.3 1147.8 267.8 1148.6 267.3 1149.4 266.7 1150.2 266.2 1151.0 265.6 1151.8 265.0 1152.5 264.3 1153.3 263.7 1154.1 263.1 1154.9 262.4 1155.7 261.7 1156.5 261.0 1157.2 260.3 1158.0 259.6 1158.8 258.9 1159.6 258.2 1160.4 257.4 1161.2 256.6 1161.9 255.9 1162.7 255.0 1163.5 254.2 1164.3 253.3 1165.1 252.5 1165.9 251.6 1166.6 250.7 1167.4 249.8 1168.2 248.9 1169.0 248.0 1169.8 247.1 1170.6 246.3 1171.4 245.4 1172.1 244.6 1172.9 243.8 1173.7 243.0 1174.5 242.1 1175.3 241.3 1176.1 240.5 1176.8 239.7 1177.6 238.9 1178.4 238.1 1179.2 237.3 1180.0 236.5 1180.8 235.6 1181.5 234.8 1182.3 234.0 1183.1 233.1 1183.9 232.3 1184.7 231.5 1185.5 230.7 1186.2 229.9 1187.0 229.1 1187.8 228.3 1188.6 227.5 1189.4 226.7 1190.2 225.9 1191.0 225.1 1191.7 224.3 1192.5 223.5 1193.3 222.7 1194.1 221.8 1194.9 221.0 1195.7 220.1 1196.4 219.2 1197.2 218.3 1198.0 217.4 1198.8 216.4 1199.6 215.5 1200.4 214.5 1201.1 213.5 1201.9 212.5 1202.7 211.5 1203.5 210.4 1204.3 209.3 1205.1 208.2 1205.8 207.0 1206.6 205.8 1207.4 204.5 1208.2 203.2 1209.0 201.8 1209.8 200.3 1210.6 198.8 1211.3 197.2 1212.1 195.6 1212.9 193.9 1213.7 192.1 1214.5 190.2 1215.3 188.3 1216.0 186.2 1216.8 184.0 1217.6 181.7 1218.4 179.4 1219.2 176.9 1220.0 174.2 1220.7 171.1 1221.5 167.2 1222.3 163.1 1223.1 159.3 1223.9 155.9 1224.7 152.7 1225.4 149.6 1226.2 146.5 1227.0 143.4 1227.8 140.4 1228.6 137.3 1229.4 134.3 1230.2 131.3 1230.9 128.3 1231.7 125.0 1232.5 121.4 1233.3 117.5 1234.1 113.5 1234.9 109.6 1235.6 106.0 1236.4 102.8 1237.2 99.7 1238.0 96.8 1238.8 94.1 1239.6 91.5 1240.3 89.0 1241.1 86.6 1241.9 84.4 1242.7 82.4 1243.5 80.7 1244.3 79.3 1245.0 77.9 1245.8 76.7 1246.6 75.2 1247.4 74.0 1248.2 72.8 1249.0 71.6 1249.8 70.6 1250.5 69.6 1251.3 68.6 1252.1 67.7 1252.9 66.9 1253.7 66.2 1254.5 65.5 1255.2 64.8 1256.0 64.3 1256.8 63.7 1257.6 63.3 1258.4 62.8 1259.2 62.5 1259.9 62.1 1260.7 61.8 1261.5 61.5 1262.3 61.3 1263.1 61.1 1263.9 60.9 1264.6 60.8 1265.4 60.7 1266.2 60.6 1267.0 60.5 1267.8 60.5 1268.6 60.5 1269.4 60.5 1270.1 60.6 1270.9 60.6 1271.7 60.7 1272.5 60.8 1273.3 60.9 1274.1 61.0 1274.8 61.2 1275.6 61.3 1276.4 61.5 1277.2 61.7 1278.0 61.9 1278.8 62.1 1279.5 62.4 1280.3 62.6 1281.1 62.8 1281.9 63.1 1282.7 63.3 1283.5 63.6 1284.2 63.8 1285.0 64.1 1285.8 64.4 1286.6 64.6 1287.4 64.9 1288.2 65.2 1289.0 65.5 1289.7 65.7 1290.5 66.0 1291.3 66.2 1292.1 66.5 1292.9 66.7 1293.7 67.0 1294.4 67.2 1295.2 67.5 1296.0 67.7 1296.8 67.9 1297.6 68.1 1298.4 68.3 1299.1 68.5 1299.9 68.6 1300.7 68.8 1301.5 68.9 1302.3 69.0 1303.1 69.2 1303.8 69.2 1304.6 69.3 1305.4 69.4 1306.2 69.4 1307.0 69.5 1307.8 69.5 1308.6 69.5 1309.3 69.4 1310.1 69.4 1310.9 69.3 1311.7 69.2 1312.5 69.1 1313.3 69.0 1314.0 68.9 1314.8 68.7 1315.6 68.6 1316.4 68.4 1317.2 68.2 1318.0 68.1 1318.7 67.9 1319.5 67.7 1320.3 67.5 1321.1 67.3 1321.9 67.1" stroke="#70b464" stroke-dasharray="3.4 3.6" stroke-linejoin="round"/>
</g>
<text class="tk" x="1071.28" y="336.90" text-anchor="middle">1</text>
<text class="tk" x="1153.99" y="336.90" text-anchor="middle">1.5</text>
<text class="tk" x="1236.69" y="336.90" text-anchor="middle">2</text>
<text class="tk" x="1319.40" y="336.90" text-anchor="middle">2.5</text>
<text class="tt" x="1178.60" y="22.3" text-anchor="middle">N<tspan font-size="20.7px" dy="13.2">it</tspan><tspan dy="-13.2" dx="1.7"> <tspan dy="3.0">=</tspan><tspan dy="-3.0"> </tspan></tspan>M<tspan font-size="20.7px" dy="13.2">it</tspan><tspan dy="-13.2" dx="1.7"> <tspan dy="3.0">=</tspan><tspan dy="-3.0"> </tspan>5</tspan></text>
<rect x="81.40" y="411.70" width="281.20" height="264.00" fill="none" stroke="#262626" stroke-width="1.8"/>
<path d="M81.40 675.70V672.10M81.40 411.70V415.30M222.00 675.70V672.10M222.00 411.70V415.30M362.60 675.70V672.10M362.60 411.70V415.30M81.40 675.70H85.00M362.60 675.70H359.00M81.40 589.14H85.00M362.60 589.14H359.00M81.40 502.59H85.00M362.60 502.59H359.00M81.40 416.03H85.00M362.60 416.03H359.00" stroke="#262626" stroke-width="1.6" fill="none"/>
<g clip-path="url(#c10)" fill="none" stroke-width="3.60">
<path d="M46.2 1989.2 81.4 1475.3 116.5 965.4 151.7 708.6 186.8 581.8 222.0 529.0 257.2 527.3 292.3 555.0 327.5 594.3 362.6 627.2 397.8 645.4" stroke="#b70c47" stroke-linejoin="round" stroke-linecap="butt"/>
<path d="M46.2 1411.4 81.4 913.7 116.5 694.7 151.7 617.7 186.8 608.2 222.0 621.6 257.2 661.4 292.3 703.8 327.5 753.6 362.6 792.6 397.8 805.5" stroke="#f78fac" stroke-dasharray="3.4 3.6" stroke-linejoin="round"/>
<path d="M79.3 1235.8 80.5 1213.9 81.6 1192.6 82.8 1172.2 84.0 1152.8 85.2 1134.1 86.3 1115.5 87.5 1097.1 88.7 1079.0 89.9 1061.2 91.0 1043.7 92.2 1026.5 93.4 1009.8 94.6 993.4 95.7 977.6 96.9 962.2 98.1 947.4 99.3 933.1 100.4 919.4 101.6 906.3 102.8 893.5 104.0 880.9 105.1 868.6 106.3 856.6 107.5 844.7 108.7 833.1 109.8 821.7 111.0 810.6 112.2 799.7 113.4 789.0 114.5 778.5 115.7 768.2 116.9 758.1 118.1 748.3 119.2 738.6 120.4 729.2 121.6 720.0 122.7 710.9 123.9 702.1 125.1 693.4 126.3 685.0 127.4 676.7 128.6 667.2 129.8 659.6 131.0 652.3 132.1 645.1 133.3 638.2 134.5 631.5 135.7 625.0 136.8 618.7 138.0 612.6 139.2 606.8 140.4 601.1 141.5 595.5 142.7 590.2 143.9 585.0 145.1 579.9 146.2 575.0 147.4 570.2 148.6 565.6 149.8 561.1 150.9 556.6 152.1 552.3 153.3 548.1 154.5 544.0 155.6 540.0 156.8 536.0 158.0 532.2 159.2 528.4 160.3 524.8 161.5 521.2 162.7 517.7 163.9 514.3 165.0 510.9 166.2 507.6 167.4 504.4 168.6 501.3 169.7 498.3 170.9 495.3 172.1 492.4 173.3 489.5 174.4 486.8 175.6 484.1 176.8 481.4 178.0 478.8 179.1 476.3 180.3 473.9 181.5 471.5 182.7 469.2 183.8 467.0 185.0 464.9 186.2 462.8 187.4 460.8 188.5 458.9 189.7 457.0 190.9 455.3 192.0 453.6 193.2 452.0 194.4 450.5 195.6 449.1 196.7 447.7 197.9 446.4 199.1 445.3 200.3 444.2 201.4 443.2 202.6 442.3 203.8 441.4 205.0 440.7 206.1 440.0 207.3 439.4 208.5 438.9 209.7 438.5 210.8 438.1 212.0 437.8 213.2 437.6 214.4 437.4 215.5 437.3 216.7 437.3 217.9 437.3 219.1 437.3 220.2 437.5 221.4 437.6 222.6 437.8 223.8 438.1 224.9 438.4 226.1 438.7 227.3 439.1 228.5 439.5 229.6 440.0 230.8 440.5 232.0 441.0 233.2 441.5 234.3 442.1 235.5 442.7 236.7 443.3 237.9 443.9 239.0 444.5 240.2 445.2 241.4 445.9 242.6 446.6 243.7 447.3 244.9 448.0 246.1 448.8 247.3 449.5 248.4 450.3 249.6 451.1 250.8 452.0 252.0 452.8 253.1 453.7 254.3 454.6 255.5 455.5 256.6 456.5 257.8 457.4 259.0 458.4 260.2 459.4 261.3 460.4 262.5 461.5 263.7 462.6 264.9 463.7 266.0 464.8 267.2 465.9 268.4 467.1 269.6 468.3 270.7 469.5 271.9 470.7 273.1 472.0 274.3 473.3 275.4 474.6 276.6 475.9 277.8 477.3 279.0 478.7 280.1 480.1 281.3 481.5 282.5 483.0 283.7 484.5 284.8 486.0 286.0 487.5 287.2 489.0 288.4 490.6 289.5 492.1 290.7 493.7 291.9 495.3 293.1 496.9 294.2 498.5 295.4 500.1 296.6 501.7 297.8 503.3 298.9 505.0 300.1 506.6 301.3 508.2 302.5 509.9 303.6 511.5 304.8 513.1 306.0 514.7 307.2 516.4 308.3 518.0 309.5 519.6 310.7 521.2 311.9 522.7 313.0 524.3 314.2 525.9 315.4 527.4 316.6 528.9 317.7 530.4 318.9 531.9 320.1 533.4 321.3 534.8 322.4 536.3 323.6 537.7 324.8 539.1 325.9 540.4 327.1 541.8 328.3 543.1 329.5 544.4 330.6 545.7 331.8 546.9 333.0 548.2 334.2 549.4 335.3 550.6 336.5 551.8 337.7 552.9 338.9 554.1 340.0 555.2 341.2 556.3 342.4 557.4 343.6 558.5 344.7 559.5 345.9 560.5 347.1 561.5 348.3 562.5 349.4 563.5 350.6 564.5 351.8 565.4 353.0 566.3 354.1 567.2 355.3 568.1 356.5 569.0 357.7 569.8 358.8 570.7 360.0 571.5 361.2 572.3 362.4 573.1 363.5 573.9 364.7 574.6" stroke="#ff8000" stroke-linejoin="round" stroke-linecap="butt"/>
<path d="M79.3 1061.8 80.5 1044.3 81.6 1027.2 82.8 1010.5 84.0 994.2 85.2 978.3 86.3 962.9 87.5 948.0 88.7 933.6 89.9 919.8 91.0 906.5 92.2 893.5 93.4 880.7 94.6 868.1 95.7 855.7 96.9 843.6 98.1 831.7 99.3 820.0 100.4 808.6 101.6 797.3 102.8 786.3 104.0 775.5 105.1 765.0 106.3 754.7 107.5 744.6 108.7 734.7 109.8 725.0 111.0 715.6 112.2 706.4 113.4 697.5 114.5 688.7 115.7 680.2 116.9 672.1 118.1 664.9 119.2 657.9 120.4 651.1 121.6 644.5 122.7 638.1 123.9 631.9 125.1 625.8 126.3 620.0 127.4 614.3 128.6 608.7 129.8 603.3 131.0 598.1 132.1 593.0 133.3 588.0 134.5 583.1 135.7 578.4 136.8 573.7 138.0 569.2 139.2 564.8 140.4 560.5 141.5 556.3 142.7 552.2 143.9 548.2 145.1 544.3 146.2 540.5 147.4 536.8 148.6 533.2 149.8 529.6 150.9 526.2 152.1 522.8 153.3 519.5 154.5 516.4 155.6 513.3 156.8 510.2 158.0 507.3 159.2 504.4 160.3 501.7 161.5 499.0 162.7 496.4 163.9 493.9 165.0 491.5 166.2 489.2 167.4 487.0 168.6 484.9 169.7 482.8 170.9 480.9 172.1 479.0 173.3 477.3 174.4 475.6 175.6 474.0 176.8 472.5 178.0 471.1 179.1 469.8 180.3 468.6 181.5 467.4 182.7 466.3 183.8 465.3 185.0 464.4 186.2 463.5 187.4 462.7 188.5 462.0 189.7 461.3 190.9 460.7 192.0 460.2 193.2 459.7 194.4 459.2 195.6 458.8 196.7 458.5 197.9 458.2 199.1 457.9 200.3 457.7 201.4 457.6 202.6 457.4 203.8 457.3 205.0 457.3 206.1 457.3 207.3 457.3 208.5 457.3 209.7 457.4 210.8 457.5 212.0 457.7 213.2 457.9 214.4 458.1 215.5 458.4 216.7 458.7 217.9 459.0 219.1 459.4 220.2 459.8 221.4 460.2 222.6 460.7 223.8 461.2 224.9 461.8 226.1 462.3 227.3 462.9 228.5 463.6 229.6 464.3 230.8 465.0 232.0 465.7 233.2 466.5 234.3 467.3 235.5 468.1 236.7 469.0 237.9 469.9 239.0 470.8 240.2 471.8 241.4 472.7 242.6 473.8 243.7 474.8 244.9 475.9 246.1 477.0 247.3 478.1 248.4 479.2 249.6 480.4 250.8 481.6 252.0 482.8 253.1 484.1 254.3 485.3 255.5 486.6 256.6 487.9 257.8 489.3 259.0 490.6 260.2 492.0 261.3 493.4 262.5 494.8 263.7 496.2 264.9 497.6 266.0 499.1 267.2 500.6 268.4 502.0 269.6 503.5 270.7 505.0 271.9 506.6 273.1 508.1 274.3 509.6 275.4 511.2 276.6 512.8 277.8 514.4 279.0 515.9 280.1 517.5 281.3 519.1 282.5 520.7 283.7 522.4 284.8 524.0 286.0 525.6 287.2 527.2 288.4 528.9 289.5 530.5 290.7 532.2 291.9 533.8 293.1 535.4 294.2 537.1 295.4 538.7 296.6 540.4 297.8 542.0 298.9 543.7 300.1 545.3 301.3 547.0 302.5 548.6 303.6 550.2 304.8 551.9 306.0 553.5 307.2 555.1 308.3 556.7 309.5 558.3 310.7 559.9 311.9 561.5 313.0 563.1 314.2 564.6 315.4 566.2 316.6 567.7 317.7 569.3 318.9 570.8 320.1 572.3 321.3 573.8 322.4 575.3 323.6 576.8 324.8 578.2 325.9 579.7 327.1 581.1 328.3 582.5 329.5 583.9 330.6 585.3 331.8 586.6 333.0 588.0 334.2 589.3 335.3 590.6 336.5 592.0 337.7 593.2 338.9 594.5 340.0 595.8 341.2 597.0 342.4 598.2 343.6 599.4 344.7 600.6 345.9 601.8 347.1 602.9 348.3 604.0 349.4 605.1 350.6 606.2 351.8 607.3 353.0 608.4 354.1 609.4 355.3 610.4 356.5 611.4 357.7 612.4 358.8 613.3 360.0 614.2 361.2 615.2 362.4 616.0 363.5 616.9 364.7 617.8" stroke="#ffd400" stroke-dasharray="3.4 3.6" stroke-linejoin="round"/>
<path d="M79.3 1127.0 80.5 1108.8 81.6 1090.9 82.8 1073.3 84.0 1056.0 85.2 1039.1 86.3 1022.4 87.5 1006.1 88.7 990.1 89.9 974.3 91.0 958.9 92.2 943.8 93.4 929.0 94.6 914.4 95.7 900.1 96.9 885.8 98.1 871.7 99.3 857.8 100.4 844.2 101.6 830.9 102.8 818.1 104.0 805.7 105.1 793.8 106.3 782.6 107.5 772.0 108.7 762.1 109.8 752.8 111.0 744.0 112.2 735.6 113.4 727.6 114.5 719.9 115.7 712.3 116.9 704.9 118.1 697.5 119.2 690.1 120.4 682.7 121.6 673.6 122.7 665.8 123.9 658.1 125.1 650.7 126.3 643.4 127.4 636.2 128.6 629.2 129.8 622.4 131.0 615.7 132.1 609.1 133.3 602.6 134.5 596.3 135.7 590.1 136.8 584.1 138.0 578.1 139.2 572.3 140.4 566.6 141.5 561.1 142.7 555.6 143.9 550.3 145.1 545.1 146.2 540.1 147.4 535.2 148.6 530.4 149.8 525.7 150.9 521.2 152.1 516.8 153.3 512.5 154.5 508.4 155.6 504.3 156.8 500.5 158.0 496.7 159.2 493.0 160.3 489.5 161.5 486.1 162.7 482.8 163.9 479.6 165.0 476.5 166.2 473.5 167.4 470.6 168.6 467.8 169.7 465.1 170.9 462.5 172.1 460.0 173.3 457.6 174.4 455.3 175.6 453.0 176.8 450.8 178.0 448.8 179.1 446.8 180.3 444.9 181.5 443.0 182.7 441.3 183.8 439.6 185.0 438.0 186.2 436.4 187.4 435.0 188.5 433.6 189.7 432.3 190.9 431.0 192.0 429.8 193.2 428.7 194.4 427.7 195.6 426.7 196.7 425.8 197.9 424.9 199.1 424.1 200.3 423.3 201.4 422.7 202.6 422.0 203.8 421.5 205.0 420.9 206.1 420.5 207.3 420.1 208.5 419.7 209.7 419.4 210.8 419.2 212.0 419.0 213.2 418.8 214.4 418.7 215.5 418.6 216.7 418.6 217.9 418.7 219.1 418.8 220.2 418.9 221.4 419.1 222.6 419.3 223.8 419.6 224.9 419.9 226.1 420.2 227.3 420.6 228.5 421.0 229.6 421.5 230.8 422.0 232.0 422.6 233.2 423.2 234.3 423.8 235.5 424.5 236.7 425.2 237.9 425.9 239.0 426.7 240.2 427.5 241.4 428.3 242.6 429.1 243.7 430.0 244.9 431.0 246.1 431.9 247.3 432.9 248.4 433.9 249.6 435.0 250.8 436.0 252.0 437.1 253.1 438.2 254.3 439.4 255.5 440.5 256.6 441.7 257.8 442.9 259.0 444.2 260.2 445.4 261.3 446.7 262.5 448.0 263.7 449.3 264.9 450.6 266.0 452.0 267.2 453.3 268.4 454.7 269.6 456.1 270.7 457.5 271.9 458.9 273.1 460.4 274.3 461.8 275.4 463.3 276.6 464.7 277.8 466.2 279.0 467.7 280.1 469.2 281.3 470.7 282.5 472.2 283.7 473.7 284.8 475.3 286.0 476.8 287.2 478.3 288.4 479.9 289.5 481.4 290.7 483.0 291.9 484.5 293.1 486.0 294.2 487.6 295.4 489.2 296.6 490.7 297.8 492.3 298.9 493.8 300.1 495.4 301.3 496.9 302.5 498.4 303.6 500.0 304.8 501.5 306.0 503.1 307.2 504.6 308.3 506.1 309.5 507.6 310.7 509.1 311.9 510.6 313.0 512.1 314.2 513.6 315.4 515.1 316.6 516.6 317.7 518.0 318.9 519.5 320.1 520.9 321.3 522.3 322.4 523.7 323.6 525.1 324.8 526.5 325.9 527.9 327.1 529.2 328.3 530.5 329.5 531.9 330.6 533.2 331.8 534.4 333.0 535.7 334.2 537.0 335.3 538.2 336.5 539.4 337.7 540.6 338.9 541.8 340.0 542.9 341.2 544.0 342.4 545.1 343.6 546.2 344.7 547.3 345.9 548.3 347.1 549.3 348.3 550.3 349.4 551.3 350.6 552.2 351.8 553.1 353.0 554.0 354.1 554.8 355.3 555.6 356.5 556.4 357.7 557.2 358.8 557.9 360.0 558.6 361.2 559.3 362.4 559.9 363.5 560.5 364.7 561.1" stroke="#236e12" stroke-linejoin="round" stroke-linecap="butt"/>
<path d="M79.3 1083.0 80.5 1065.1 81.6 1047.5 82.8 1030.3 84.0 1013.4 85.2 997.0 86.3 981.0 87.5 965.6 88.7 950.6 89.9 936.2 91.0 922.4 92.2 909.1 93.4 896.3 94.6 883.7 95.7 871.4 96.9 859.4 98.1 847.6 99.3 836.1 100.4 824.8 101.6 813.8 102.8 802.9 104.0 792.3 105.1 781.9 106.3 771.6 107.5 761.6 108.7 751.7 109.8 742.0 111.0 732.5 112.2 723.1 113.4 713.8 114.5 704.7 115.7 695.7 116.9 686.9 118.1 678.1 119.2 668.1 120.4 659.9 121.6 651.9 122.7 644.1 123.9 636.5 125.1 629.1 126.3 621.8 127.4 614.7 128.6 607.8 129.8 601.0 131.0 594.5 132.1 588.0 133.3 581.7 134.5 575.6 135.7 569.7 136.8 563.9 138.0 558.2 139.2 552.7 140.4 547.3 141.5 542.1 142.7 537.1 143.9 532.2 145.1 527.4 146.2 522.8 147.4 518.4 148.6 514.1 149.8 509.9 150.9 505.9 152.1 502.1 153.3 498.4 154.5 494.9 155.6 491.4 156.8 488.2 158.0 485.0 159.2 482.0 160.3 479.1 161.5 476.3 162.7 473.7 163.9 471.1 165.0 468.6 166.2 466.2 167.4 463.9 168.6 461.7 169.7 459.6 170.9 457.5 172.1 455.5 173.3 453.6 174.4 451.7 175.6 449.9 176.8 448.1 178.0 446.4 179.1 444.8 180.3 443.2 181.5 441.7 182.7 440.2 183.8 438.8 185.0 437.5 186.2 436.2 187.4 434.9 188.5 433.8 189.7 432.6 190.9 431.6 192.0 430.6 193.2 429.6 194.4 428.7 195.6 427.9 196.7 427.2 197.9 426.4 199.1 425.8 200.3 425.2 201.4 424.7 202.6 424.2 203.8 423.8 205.0 423.4 206.1 423.1 207.3 422.9 208.5 422.7 209.7 422.5 210.8 422.4 212.0 422.4 213.2 422.4 214.4 422.5 215.5 422.6 216.7 422.7 217.9 422.9 219.1 423.2 220.2 423.5 221.4 423.8 222.6 424.2 223.8 424.6 224.9 425.0 226.1 425.5 227.3 426.1 228.5 426.6 229.6 427.2 230.8 427.9 232.0 428.6 233.2 429.3 234.3 430.0 235.5 430.8 236.7 431.6 237.9 432.4 239.0 433.3 240.2 434.2 241.4 435.1 242.6 436.1 243.7 437.0 244.9 438.0 246.1 439.1 247.3 440.1 248.4 441.2 249.6 442.3 250.8 443.4 252.0 444.6 253.1 445.8 254.3 447.0 255.5 448.2 256.6 449.4 257.8 450.7 259.0 452.0 260.2 453.3 261.3 454.6 262.5 456.0 263.7 457.4 264.9 458.7 266.0 460.1 267.2 461.6 268.4 463.0 269.6 464.5 270.7 465.9 271.9 467.4 273.1 468.9 274.3 470.4 275.4 472.0 276.6 473.5 277.8 475.1 279.0 476.6 280.1 478.2 281.3 479.8 282.5 481.4 283.7 483.0 284.8 484.6 286.0 486.3 287.2 487.9 288.4 489.5 289.5 491.2 290.7 492.8 291.9 494.5 293.1 496.2 294.2 497.8 295.4 499.5 296.6 501.1 297.8 502.8 298.9 504.5 300.1 506.1 301.3 507.8 302.5 509.4 303.6 511.1 304.8 512.7 306.0 514.4 307.2 516.0 308.3 517.6 309.5 519.2 310.7 520.8 311.9 522.4 313.0 524.0 314.2 525.6 315.4 527.2 316.6 528.7 317.7 530.2 318.9 531.7 320.1 533.3 321.3 534.7 322.4 536.2 323.6 537.7 324.8 539.1 325.9 540.5 327.1 541.9 328.3 543.3 329.5 544.6 330.6 546.0 331.8 547.3 333.0 548.6 334.2 549.9 335.3 551.1 336.5 552.3 337.7 553.6 338.9 554.7 340.0 555.9 341.2 557.0 342.4 558.2 343.6 559.2 344.7 560.3 345.9 561.4 347.1 562.4 348.3 563.4 349.4 564.3 350.6 565.2 351.8 566.2 353.0 567.0 354.1 567.9 355.3 568.7 356.5 569.5 357.7 570.3 358.8 571.0 360.0 571.7 361.2 572.4 362.4 573.0 363.5 573.6 364.7 574.2" stroke="#70b464" stroke-dasharray="3.4 3.6" stroke-linejoin="round"/>
</g>
<text class="tk" x="81.40" y="704.10" text-anchor="middle">2</text>
<text class="tk" x="222.00" y="704.10" text-anchor="middle">2.2</text>
<text class="tk" x="362.60" y="704.10" text-anchor="middle">2.4</text>
<text class="tk" x="72.00" y="683.20" text-anchor="end">8</text>
<text class="tk" x="72.00" y="596.64" text-anchor="end">10</text>
<text class="tk" x="72.00" y="510.09" text-anchor="end">12</text>
<text class="tk" x="72.00" y="423.53" text-anchor="end">14</text>
<text class="lb" style="font-size:27.7px" transform="translate(31.00 543.70) rotate(-90)" text-anchor="middle">v (mV)</text>
<text class="lb" x="222.00" y="734.70" text-anchor="middle">t (ms)</text>
<rect x="400.40" y="411.70" width="281.20" height="264.00" fill="none" stroke="#262626" stroke-width="1.8"/>
<path d="M400.40 675.70V672.10M400.40 411.70V415.30M541.00 675.70V672.10M541.00 411.70V415.30M681.60 675.70V672.10M681.60 411.70V415.30M400.40 675.70H404.00M681.60 675.70H678.00M400.40 589.14H404.00M681.60 589.14H678.00M400.40 502.59H404.00M681.60 502.59H678.00M400.40 416.03H404.00M681.60 416.03H678.00" stroke="#262626" stroke-width="1.6" fill="none"/>
<g clip-path="url(#c11)" fill="none" stroke-width="3.60">
<path d="M365.2 1989.2 400.4 1475.3 435.5 965.4 470.7 708.6 505.8 581.8 541.0 529.0 576.1 527.3 611.3 555.0 646.5 594.3 681.6 627.2 716.8 645.4" stroke="#b70c47" stroke-linejoin="round" stroke-linecap="butt"/>
<path d="M365.2 1989.2 400.4 1475.3 435.5 978.7 470.7 726.3 505.8 606.5 516.4 587.0 526.9 571.8 541.0 559.7 558.6 555.8 576.1 554.5 611.3 575.7 646.5 606.0 681.6 643.2 716.8 658.4" stroke="#f78fac" stroke-dasharray="3.4 3.6" stroke-linejoin="round"/>
<path d="M398.3 1235.8 399.5 1213.9 400.6 1192.6 401.8 1172.2 403.0 1152.8 404.2 1134.1 405.3 1115.5 406.5 1097.1 407.7 1079.0 408.9 1061.2 410.0 1043.7 411.2 1026.5 412.4 1009.8 413.6 993.4 414.7 977.6 415.9 962.2 417.1 947.4 418.3 933.1 419.4 919.4 420.6 906.3 421.8 893.5 423.0 880.9 424.1 868.6 425.3 856.6 426.5 844.7 427.7 833.1 428.8 821.7 430.0 810.6 431.2 799.7 432.4 789.0 433.5 778.5 434.7 768.2 435.9 758.1 437.1 748.3 438.2 738.6 439.4 729.2 440.6 720.0 441.7 710.9 442.9 702.1 444.1 693.4 445.3 685.0 446.4 676.7 447.6 667.2 448.8 659.6 450.0 652.3 451.1 645.1 452.3 638.2 453.5 631.5 454.7 625.0 455.8 618.7 457.0 612.6 458.2 606.8 459.4 601.1 460.5 595.5 461.7 590.2 462.9 585.0 464.1 579.9 465.2 575.0 466.4 570.2 467.6 565.6 468.8 561.1 469.9 556.6 471.1 552.3 472.3 548.1 473.5 544.0 474.6 540.0 475.8 536.0 477.0 532.2 478.2 528.4 479.3 524.8 480.5 521.2 481.7 517.7 482.9 514.3 484.0 510.9 485.2 507.6 486.4 504.4 487.6 501.3 488.7 498.3 489.9 495.3 491.1 492.4 492.3 489.5 493.4 486.8 494.6 484.1 495.8 481.4 497.0 478.8 498.1 476.3 499.3 473.9 500.5 471.5 501.7 469.2 502.8 467.0 504.0 464.9 505.2 462.8 506.4 460.8 507.5 458.9 508.7 457.0 509.9 455.3 511.0 453.6 512.2 452.0 513.4 450.5 514.6 449.1 515.7 447.7 516.9 446.4 518.1 445.3 519.3 444.2 520.4 443.2 521.6 442.3 522.8 441.4 524.0 440.7 525.1 440.0 526.3 439.4 527.5 438.9 528.7 438.5 529.8 438.1 531.0 437.8 532.2 437.6 533.4 437.4 534.5 437.3 535.7 437.3 536.9 437.3 538.1 437.3 539.2 437.5 540.4 437.6 541.6 437.8 542.8 438.1 543.9 438.4 545.1 438.7 546.3 439.1 547.5 439.5 548.6 440.0 549.8 440.5 551.0 441.0 552.2 441.5 553.3 442.1 554.5 442.7 555.7 443.3 556.9 443.9 558.0 444.5 559.2 445.2 560.4 445.9 561.6 446.6 562.7 447.3 563.9 448.0 565.1 448.8 566.3 449.5 567.4 450.3 568.6 451.1 569.8 452.0 571.0 452.8 572.1 453.7 573.3 454.6 574.5 455.5 575.6 456.5 576.8 457.4 578.0 458.4 579.2 459.4 580.3 460.4 581.5 461.5 582.7 462.6 583.9 463.7 585.0 464.8 586.2 465.9 587.4 467.1 588.6 468.3 589.7 469.5 590.9 470.7 592.1 472.0 593.3 473.3 594.4 474.6 595.6 475.9 596.8 477.3 598.0 478.7 599.1 480.1 600.3 481.5 601.5 483.0 602.7 484.5 603.8 486.0 605.0 487.5 606.2 489.0 607.4 490.6 608.5 492.1 609.7 493.7 610.9 495.3 612.1 496.9 613.2 498.5 614.4 500.1 615.6 501.7 616.8 503.3 617.9 505.0 619.1 506.6 620.3 508.2 621.5 509.9 622.6 511.5 623.8 513.1 625.0 514.7 626.2 516.4 627.3 518.0 628.5 519.6 629.7 521.2 630.9 522.7 632.0 524.3 633.2 525.9 634.4 527.4 635.6 528.9 636.7 530.4 637.9 531.9 639.1 533.4 640.3 534.8 641.4 536.3 642.6 537.7 643.8 539.1 644.9 540.4 646.1 541.8 647.3 543.1 648.5 544.4 649.6 545.7 650.8 546.9 652.0 548.2 653.2 549.4 654.3 550.6 655.5 551.8 656.7 552.9 657.9 554.1 659.0 555.2 660.2 556.3 661.4 557.4 662.6 558.5 663.7 559.5 664.9 560.5 666.1 561.5 667.3 562.5 668.4 563.5 669.6 564.5 670.8 565.4 672.0 566.3 673.1 567.2 674.3 568.1 675.5 569.0 676.7 569.8 677.8 570.7 679.0 571.5 680.2 572.3 681.4 573.1 682.5 573.9 683.7 574.6" stroke="#ff8000" stroke-linejoin="round" stroke-linecap="butt"/>
<path d="M398.3 1235.8 399.5 1213.9 400.6 1192.6 401.8 1172.2 403.0 1152.8 404.2 1134.1 405.3 1115.5 406.5 1097.1 407.7 1079.0 408.9 1061.2 410.0 1043.7 411.2 1026.5 412.4 1009.8 413.6 993.4 414.7 977.6 415.9 962.2 417.1 947.4 418.3 933.1 419.4 919.4 420.6 906.3 421.8 893.5 423.0 880.9 424.1 868.6 425.3 856.6 426.5 844.7 427.7 833.1 428.8 821.7 430.0 810.6 431.2 799.7 432.4 789.0 433.5 778.5 434.7 768.2 435.9 758.1 437.1 748.3 438.2 738.6 439.4 729.2 440.6 720.0 441.7 710.9 442.9 702.1 444.1 693.4 445.3 685.0 446.4 676.7 447.6 667.2 448.8 659.6 450.0 652.3 451.1 645.1 452.3 638.2 453.5 631.5 454.7 625.0 455.8 618.7 457.0 612.6 458.2 606.8 459.4 601.1 460.5 595.5 461.7 590.2 462.9 585.0 464.1 579.9 465.2 575.0 466.4 570.2 467.6 565.6 468.8 561.1 469.9 556.6 471.1 552.3 472.3 548.1 473.5 544.0 474.6 540.0 475.8 536.0 477.0 532.2 478.2 528.4 479.3 524.8 480.5 521.2 481.7 517.7 482.9 514.3 484.0 510.9 485.2 507.6 486.4 504.4 487.6 501.3 488.7 498.3 489.9 495.3 491.1 492.4 492.3 489.5 493.4 486.8 494.6 484.1 495.8 481.4 497.0 478.8 498.1 476.3 499.3 473.9 500.5 471.5 501.7 469.2 502.8 467.0 504.0 464.9 505.2 462.8 506.4 460.8 507.5 458.9 508.7 457.0 509.9 455.3 511.0 453.6 512.2 452.0 513.4 450.5 514.6 449.1 515.7 447.7 516.9 446.4 518.1 445.3 519.3 444.2 520.4 443.2 521.6 442.3 522.8 441.4 524.0 440.7 525.1 440.0 526.3 439.4 527.5 438.9 528.7 438.5 529.8 438.1 531.0 437.8 532.2 437.6 533.4 437.4 534.5 437.3 535.7 437.3 536.9 437.3 538.1 437.3 539.2 437.5 540.4 437.6 541.6 437.8 542.8 438.1 543.9 438.4 545.1 438.7 546.3 439.1 547.5 439.5 548.6 440.0 549.8 440.5 551.0 441.0 552.2 441.5 553.3 442.1 554.5 442.7 555.7 443.3 556.9 443.9 558.0 444.5 559.2 445.2 560.4 445.9 561.6 446.6 562.7 447.3 563.9 448.0 565.1 448.8 566.3 449.5 567.4 450.3 568.6 451.1 569.8 452.0 571.0 452.8 572.1 453.7 573.3 454.6 574.5 455.5 575.6 456.5 576.8 457.4 578.0 458.4 579.2 459.4 580.3 460.4 581.5 461.5 582.7 462.6 583.9 463.7 585.0 464.8 586.2 465.9 587.4 467.1 588.6 468.3 589.7 469.5 590.9 470.7 592.1 472.0 593.3 473.3 594.4 474.6 595.6 475.9 596.8 477.3 598.0 478.7 599.1 480.1 600.3 481.5 601.5 483.0 602.7 484.5 603.8 486.0 605.0 487.5 606.2 489.0 607.4 490.6 608.5 492.1 609.7 493.7 610.9 495.3 612.1 496.9 613.2 498.5 614.4 500.1 615.6 501.7 616.8 503.3 617.9 505.0 619.1 506.6 620.3 508.2 621.5 509.9 622.6 511.5 623.8 513.1 625.0 514.7 626.2 516.4 627.3 518.0 628.5 519.6 629.7 521.2 630.9 522.7 632.0 524.3 633.2 525.9 634.4 527.4 635.6 528.9 636.7 530.4 637.9 531.9 639.1 533.4 640.3 534.8 641.4 536.3 642.6 537.7 643.8 539.1 644.9 540.4 646.1 541.8 647.3 543.1 648.5 544.4 649.6 545.7 650.8 546.9 652.0 548.2 653.2 549.4 654.3 550.6 655.5 551.8 656.7 552.9 657.9 554.1 659.0 555.2 660.2 556.3 661.4 557.4 662.6 558.5 663.7 559.5 664.9 560.5 666.1 561.5 667.3 562.5 668.4 563.5 669.6 564.5 670.8 565.4 672.0 566.3 673.1 567.2 674.3 568.1 675.5 569.0 676.7 569.8 677.8 570.7 679.0 571.5 680.2 572.3 681.4 573.1 682.5 573.9 683.7 574.6" stroke="#ffd400" stroke-dasharray="3.4 3.6" stroke-linejoin="round"/>
<path d="M398.3 1127.0 399.5 1108.8 400.6 1090.9 401.8 1073.3 403.0 1056.0 404.2 1039.1 405.3 1022.4 406.5 1006.1 407.7 990.1 408.9 974.3 410.0 958.9 411.2 943.8 412.4 929.0 413.6 914.4 414.7 900.1 415.9 885.8 417.1 871.7 418.3 857.8 419.4 844.2 420.6 830.9 421.8 818.1 423.0 805.7 424.1 793.8 425.3 782.6 426.5 772.0 427.7 762.1 428.8 752.8 430.0 744.0 431.2 735.6 432.4 727.6 433.5 719.9 434.7 712.3 435.9 704.9 437.1 697.5 438.2 690.1 439.4 682.7 440.6 673.6 441.7 665.8 442.9 658.1 444.1 650.7 445.3 643.4 446.4 636.2 447.6 629.2 448.8 622.4 450.0 615.7 451.1 609.1 452.3 602.6 453.5 596.3 454.7 590.1 455.8 584.1 457.0 578.1 458.2 572.3 459.4 566.6 460.5 561.1 461.7 555.6 462.9 550.3 464.1 545.1 465.2 540.1 466.4 535.2 467.6 530.4 468.8 525.7 469.9 521.2 471.1 516.8 472.3 512.5 473.5 508.4 474.6 504.3 475.8 500.5 477.0 496.7 478.2 493.0 479.3 489.5 480.5 486.1 481.7 482.8 482.9 479.6 484.0 476.5 485.2 473.5 486.4 470.6 487.6 467.8 488.7 465.1 489.9 462.5 491.1 460.0 492.3 457.6 493.4 455.3 494.6 453.0 495.8 450.8 497.0 448.8 498.1 446.8 499.3 444.9 500.5 443.0 501.7 441.3 502.8 439.6 504.0 438.0 505.2 436.4 506.4 435.0 507.5 433.6 508.7 432.3 509.9 431.0 511.0 429.8 512.2 428.7 513.4 427.7 514.6 426.7 515.7 425.8 516.9 424.9 518.1 424.1 519.3 423.3 520.4 422.7 521.6 422.0 522.8 421.5 524.0 420.9 525.1 420.5 526.3 420.1 527.5 419.7 528.7 419.4 529.8 419.2 531.0 419.0 532.2 418.8 533.4 418.7 534.5 418.6 535.7 418.6 536.9 418.7 538.1 418.8 539.2 418.9 540.4 419.1 541.6 419.3 542.8 419.6 543.9 419.9 545.1 420.2 546.3 420.6 547.5 421.0 548.6 421.5 549.8 422.0 551.0 422.6 552.2 423.2 553.3 423.8 554.5 424.5 555.7 425.2 556.9 425.9 558.0 426.7 559.2 427.5 560.4 428.3 561.6 429.1 562.7 430.0 563.9 431.0 565.1 431.9 566.3 432.9 567.4 433.9 568.6 435.0 569.8 436.0 571.0 437.1 572.1 438.2 573.3 439.4 574.5 440.5 575.6 441.7 576.8 442.9 578.0 444.2 579.2 445.4 580.3 446.7 581.5 448.0 582.7 449.3 583.9 450.6 585.0 452.0 586.2 453.3 587.4 454.7 588.6 456.1 589.7 457.5 590.9 458.9 592.1 460.4 593.3 461.8 594.4 463.3 595.6 464.7 596.8 466.2 598.0 467.7 599.1 469.2 600.3 470.7 601.5 472.2 602.7 473.7 603.8 475.3 605.0 476.8 606.2 478.3 607.4 479.9 608.5 481.4 609.7 483.0 610.9 484.5 612.1 486.0 613.2 487.6 614.4 489.2 615.6 490.7 616.8 492.3 617.9 493.8 619.1 495.4 620.3 496.9 621.5 498.4 622.6 500.0 623.8 501.5 625.0 503.1 626.2 504.6 627.3 506.1 628.5 507.6 629.7 509.1 630.9 510.6 632.0 512.1 633.2 513.6 634.4 515.1 635.6 516.6 636.7 518.0 637.9 519.5 639.1 520.9 640.3 522.3 641.4 523.7 642.6 525.1 643.8 526.5 644.9 527.9 646.1 529.2 647.3 530.5 648.5 531.9 649.6 533.2 650.8 534.4 652.0 535.7 653.2 537.0 654.3 538.2 655.5 539.4 656.7 540.6 657.9 541.8 659.0 542.9 660.2 544.0 661.4 545.1 662.6 546.2 663.7 547.3 664.9 548.3 666.1 549.3 667.3 550.3 668.4 551.3 669.6 552.2 670.8 553.1 672.0 554.0 673.1 554.8 674.3 555.6 675.5 556.4 676.7 557.2 677.8 557.9 679.0 558.6 680.2 559.3 681.4 559.9 682.5 560.5 683.7 561.1" stroke="#236e12" stroke-linejoin="round" stroke-linecap="butt"/>
<path d="M398.3 1127.0 399.5 1108.8 400.6 1090.9 401.8 1073.3 403.0 1056.0 404.2 1039.1 405.3 1022.4 406.5 1006.1 407.7 990.1 408.9 974.3 410.0 958.9 411.2 943.8 412.4 929.0 413.6 914.4 414.7 900.1 415.9 885.8 417.1 871.7 418.3 857.8 419.4 844.2 420.6 830.9 421.8 818.1 423.0 805.7 424.1 793.8 425.3 782.6 426.5 772.0 427.7 762.1 428.8 752.8 430.0 744.0 431.2 735.6 432.4 727.6 433.5 719.9 434.7 712.3 435.9 704.9 437.1 697.5 438.2 690.1 439.4 682.7 440.6 673.6 441.7 665.8 442.9 658.1 444.1 650.7 445.3 643.4 446.4 636.2 447.6 629.2 448.8 622.4 450.0 615.7 451.1 609.1 452.3 602.6 453.5 596.3 454.7 590.1 455.8 584.1 457.0 578.1 458.2 572.3 459.4 566.6 460.5 561.1 461.7 555.6 462.9 550.3 464.1 545.1 465.2 540.1 466.4 535.2 467.6 530.4 468.8 525.7 469.9 521.2 471.1 516.8 472.3 512.5 473.5 508.4 474.6 504.3 475.8 500.5 477.0 496.7 478.2 493.0 479.3 489.5 480.5 486.1 481.7 482.8 482.9 479.6 484.0 476.5 485.2 473.5 486.4 470.6 487.6 467.8 488.7 465.1 489.9 462.5 491.1 460.0 492.3 457.6 493.4 455.3 494.6 453.0 495.8 450.8 497.0 448.8 498.1 446.8 499.3 444.9 500.5 443.0 501.7 441.3 502.8 439.6 504.0 438.0 505.2 436.4 506.4 435.0 507.5 433.6 508.7 432.3 509.9 431.0 511.0 429.8 512.2 428.7 513.4 427.7 514.6 426.7 515.7 425.8 516.9 424.9 518.1 424.1 519.3 423.3 520.4 422.7 521.6 422.0 522.8 421.5 524.0 420.9 525.1 420.5 526.3 420.1 527.5 419.7 528.7 419.4 529.8 419.2 531.0 419.0 532.2 418.8 533.4 418.7 534.5 418.6 535.7 418.6 536.9 418.7 538.1 418.8 539.2 418.9 540.4 419.1 541.6 419.3 542.8 419.6 543.9 419.9 545.1 420.2 546.3 420.6 547.5 421.0 548.6 421.5 549.8 422.0 551.0 422.6 552.2 423.2 553.3 423.8 554.5 424.5 555.7 425.2 556.9 425.9 558.0 426.7 559.2 427.5 560.4 428.3 561.6 429.1 562.7 430.0 563.9 431.0 565.1 431.9 566.3 432.9 567.4 433.9 568.6 435.0 569.8 436.0 571.0 437.1 572.1 438.2 573.3 439.4 574.5 440.5 575.6 441.7 576.8 442.9 578.0 444.2 579.2 445.4 580.3 446.7 581.5 448.0 582.7 449.3 583.9 450.6 585.0 452.0 586.2 453.3 587.4 454.7 588.6 456.1 589.7 457.5 590.9 458.9 592.1 460.4 593.3 461.8 594.4 463.3 595.6 464.7 596.8 466.2 598.0 467.7 599.1 469.2 600.3 470.7 601.5 472.2 602.7 473.7 603.8 475.3 605.0 476.8 606.2 478.3 607.4 479.9 608.5 481.4 609.7 483.0 610.9 484.5 612.1 486.0 613.2 487.6 614.4 489.2 615.6 490.7 616.8 492.3 617.9 493.8 619.1 495.4 620.3 496.9 621.5 498.4 622.6 500.0 623.8 501.5 625.0 503.1 626.2 504.6 627.3 506.1 628.5 507.6 629.7 509.1 630.9 510.6 632.0 512.1 633.2 513.6 634.4 515.1 635.6 516.6 636.7 518.0 637.9 519.5 639.1 520.9 640.3 522.3 641.4 523.7 642.6 525.1 643.8 526.5 644.9 527.9 646.1 529.2 647.3 530.5 648.5 531.9 649.6 533.2 650.8 534.4 652.0 535.7 653.2 537.0 654.3 538.2 655.5 539.4 656.7 540.6 657.9 541.8 659.0 542.9 660.2 544.0 661.4 545.1 662.6 546.2 663.7 547.3 664.9 548.3 666.1 549.3 667.3 550.3 668.4 551.3 669.6 552.2 670.8 553.1 672.0 554.0 673.1 554.8 674.3 555.6 675.5 556.4 676.7 557.2 677.8 557.9 679.0 558.6 680.2 559.3 681.4 559.9 682.5 560.5 683.7 561.1" stroke="#70b464" stroke-dasharray="3.4 3.6" stroke-linejoin="round"/>
</g>
<text class="tk" x="400.40" y="704.10" text-anchor="middle">2</text>
<text class="tk" x="541.00" y="704.10" text-anchor="middle">2.2</text>
<text class="tk" x="681.60" y="704.10" text-anchor="middle">2.4</text>
<text class="lb" x="541.00" y="734.70" text-anchor="middle">t (ms)</text>
<rect x="719.30" y="411.70" width="281.20" height="264.00" fill="none" stroke="#262626" stroke-width="1.8"/>
<path d="M719.30 675.70V672.10M719.30 411.70V415.30M859.90 675.70V672.10M859.90 411.70V415.30M1000.50 675.70V672.10M1000.50 411.70V415.30M719.30 675.70H722.90M1000.50 675.70H996.90M719.30 589.14H722.90M1000.50 589.14H996.90M719.30 502.59H722.90M1000.50 502.59H996.90M719.30 416.03H722.90M1000.50 416.03H996.90" stroke="#262626" stroke-width="1.6" fill="none"/>
<g clip-path="url(#c12)" fill="none" stroke-width="3.60">
<path d="M684.1 1989.2 719.3 1475.3 754.4 965.4 789.6 708.6 824.7 581.8 859.9 529.0 895.0 527.3 930.2 555.0 965.4 594.3 1000.5 627.2 1035.7 645.4" stroke="#b70c47" stroke-linejoin="round" stroke-linecap="butt"/>
<path d="M684.1 1989.2 719.3 1475.3 754.4 978.7 789.6 726.3 824.7 606.5 835.3 587.0 845.8 571.8 859.9 556.7 877.5 553.7 895.0 552.4 930.2 574.0 965.4 603.9 1000.5 642.4 1035.7 658.4" stroke="#f78fac" stroke-dasharray="3.4 3.6" stroke-linejoin="round"/>
<path d="M717.2 1235.8 718.4 1213.9 719.5 1192.6 720.7 1172.2 721.9 1152.8 723.1 1134.1 724.2 1115.5 725.4 1097.1 726.6 1079.0 727.8 1061.2 728.9 1043.7 730.1 1026.5 731.3 1009.8 732.5 993.4 733.6 977.6 734.8 962.2 736.0 947.4 737.2 933.1 738.3 919.4 739.5 906.3 740.7 893.5 741.9 880.9 743.0 868.6 744.2 856.6 745.4 844.7 746.6 833.1 747.7 821.7 748.9 810.6 750.1 799.7 751.3 789.0 752.4 778.5 753.6 768.2 754.8 758.1 756.0 748.3 757.1 738.6 758.3 729.2 759.5 720.0 760.6 710.9 761.8 702.1 763.0 693.4 764.2 685.0 765.3 676.7 766.5 667.2 767.7 659.6 768.9 652.3 770.0 645.1 771.2 638.2 772.4 631.5 773.6 625.0 774.7 618.7 775.9 612.6 777.1 606.8 778.3 601.1 779.4 595.5 780.6 590.2 781.8 585.0 783.0 579.9 784.1 575.0 785.3 570.2 786.5 565.6 787.7 561.1 788.8 556.6 790.0 552.3 791.2 548.1 792.4 544.0 793.5 540.0 794.7 536.0 795.9 532.2 797.1 528.4 798.2 524.8 799.4 521.2 800.6 517.7 801.8 514.3 802.9 510.9 804.1 507.6 805.3 504.4 806.5 501.3 807.6 498.3 808.8 495.3 810.0 492.4 811.2 489.5 812.3 486.8 813.5 484.1 814.7 481.4 815.9 478.8 817.0 476.3 818.2 473.9 819.4 471.5 820.6 469.2 821.7 467.0 822.9 464.9 824.1 462.8 825.3 460.8 826.4 458.9 827.6 457.0 828.8 455.3 829.9 453.6 831.1 452.0 832.3 450.5 833.5 449.1 834.6 447.7 835.8 446.4 837.0 445.3 838.2 444.2 839.3 443.2 840.5 442.3 841.7 441.4 842.9 440.7 844.0 440.0 845.2 439.4 846.4 438.9 847.6 438.5 848.7 438.1 849.9 437.8 851.1 437.6 852.3 437.4 853.4 437.3 854.6 437.3 855.8 437.3 857.0 437.3 858.1 437.5 859.3 437.6 860.5 437.8 861.7 438.1 862.8 438.4 864.0 438.7 865.2 439.1 866.4 439.5 867.5 440.0 868.7 440.5 869.9 441.0 871.1 441.5 872.2 442.1 873.4 442.7 874.6 443.3 875.8 443.9 876.9 444.5 878.1 445.2 879.3 445.9 880.5 446.6 881.6 447.3 882.8 448.0 884.0 448.8 885.2 449.5 886.3 450.3 887.5 451.1 888.7 452.0 889.9 452.8 891.0 453.7 892.2 454.6 893.4 455.5 894.5 456.5 895.7 457.4 896.9 458.4 898.1 459.4 899.2 460.4 900.4 461.5 901.6 462.6 902.8 463.7 903.9 464.8 905.1 465.9 906.3 467.1 907.5 468.3 908.6 469.5 909.8 470.7 911.0 472.0 912.2 473.3 913.3 474.6 914.5 475.9 915.7 477.3 916.9 478.7 918.0 480.1 919.2 481.5 920.4 483.0 921.6 484.5 922.7 486.0 923.9 487.5 925.1 489.0 926.3 490.6 927.4 492.1 928.6 493.7 929.8 495.3 931.0 496.9 932.1 498.5 933.3 500.1 934.5 501.7 935.7 503.3 936.8 505.0 938.0 506.6 939.2 508.2 940.4 509.9 941.5 511.5 942.7 513.1 943.9 514.7 945.1 516.4 946.2 518.0 947.4 519.6 948.6 521.2 949.8 522.7 950.9 524.3 952.1 525.9 953.3 527.4 954.5 528.9 955.6 530.4 956.8 531.9 958.0 533.4 959.2 534.8 960.3 536.3 961.5 537.7 962.7 539.1 963.8 540.4 965.0 541.8 966.2 543.1 967.4 544.4 968.5 545.7 969.7 546.9 970.9 548.2 972.1 549.4 973.2 550.6 974.4 551.8 975.6 552.9 976.8 554.1 977.9 555.2 979.1 556.3 980.3 557.4 981.5 558.5 982.6 559.5 983.8 560.5 985.0 561.5 986.2 562.5 987.3 563.5 988.5 564.5 989.7 565.4 990.9 566.3 992.0 567.2 993.2 568.1 994.4 569.0 995.6 569.8 996.7 570.7 997.9 571.5 999.1 572.3 1000.3 573.1 1001.4 573.9 1002.6 574.6" stroke="#ff8000" stroke-linejoin="round" stroke-linecap="butt"/>
<path d="M717.2 1235.8 718.4 1213.9 719.5 1192.6 720.7 1172.2 721.9 1152.8 723.1 1134.1 724.2 1115.5 725.4 1097.1 726.6 1079.0 727.8 1061.2 728.9 1043.7 730.1 1026.5 731.3 1009.8 732.5 993.4 733.6 977.6 734.8 962.2 736.0 947.4 737.2 933.1 738.3 919.4 739.5 906.3 740.7 893.5 741.9 880.9 743.0 868.6 744.2 856.6 745.4 844.7 746.6 833.1 747.7 821.7 748.9 810.6 750.1 799.7 751.3 789.0 752.4 778.5 753.6 768.2 754.8 758.1 756.0 748.3 757.1 738.6 758.3 729.2 759.5 720.0 760.6 710.9 761.8 702.1 763.0 693.4 764.2 685.0 765.3 676.7 766.5 667.2 767.7 659.6 768.9 652.3 770.0 645.1 771.2 638.2 772.4 631.5 773.6 625.0 774.7 618.7 775.9 612.6 777.1 606.8 778.3 601.1 779.4 595.5 780.6 590.2 781.8 585.0 783.0 579.9 784.1 575.0 785.3 570.2 786.5 565.6 787.7 561.1 788.8 556.6 790.0 552.3 791.2 548.1 792.4 544.0 793.5 540.0 794.7 536.0 795.9 532.2 797.1 528.4 798.2 524.8 799.4 521.2 800.6 517.7 801.8 514.3 802.9 510.9 804.1 507.6 805.3 504.4 806.5 501.3 807.6 498.3 808.8 495.3 810.0 492.4 811.2 489.5 812.3 486.8 813.5 484.1 814.7 481.4 815.9 478.8 817.0 476.3 818.2 473.9 819.4 471.5 820.6 469.2 821.7 467.0 822.9 464.9 824.1 462.8 825.3 460.8 826.4 458.9 827.6 457.0 828.8 455.3 829.9 453.6 831.1 452.0 832.3 450.5 833.5 449.1 834.6 447.7 835.8 446.4 837.0 445.3 838.2 444.2 839.3 443.2 840.5 442.3 841.7 441.4 842.9 440.7 844.0 440.0 845.2 439.4 846.4 438.9 847.6 438.5 848.7 438.1 849.9 437.8 851.1 437.6 852.3 437.4 853.4 437.3 854.6 437.3 855.8 437.3 857.0 437.3 858.1 437.5 859.3 437.6 860.5 437.8 861.7 438.1 862.8 438.4 864.0 438.7 865.2 439.1 866.4 439.5 867.5 440.0 868.7 440.5 869.9 441.0 871.1 441.5 872.2 442.1 873.4 442.7 874.6 443.3 875.8 443.9 876.9 444.5 878.1 445.2 879.3 445.9 880.5 446.6 881.6 447.3 882.8 448.0 884.0 448.8 885.2 449.5 886.3 450.3 887.5 451.1 888.7 452.0 889.9 452.8 891.0 453.7 892.2 454.6 893.4 455.5 894.5 456.5 895.7 457.4 896.9 458.4 898.1 459.4 899.2 460.4 900.4 461.5 901.6 462.6 902.8 463.7 903.9 464.8 905.1 465.9 906.3 467.1 907.5 468.3 908.6 469.5 909.8 470.7 911.0 472.0 912.2 473.3 913.3 474.6 914.5 475.9 915.7 477.3 916.9 478.7 918.0 480.1 919.2 481.5 920.4 483.0 921.6 484.5 922.7 486.0 923.9 487.5 925.1 489.0 926.3 490.6 927.4 492.1 928.6 493.7 929.8 495.3 931.0 496.9 932.1 498.5 933.3 500.1 934.5 501.7 935.7 503.3 936.8 505.0 938.0 506.6 939.2 508.2 940.4 509.9 941.5 511.5 942.7 513.1 943.9 514.7 945.1 516.4 946.2 518.0 947.4 519.6 948.6 521.2 949.8 522.7 950.9 524.3 952.1 525.9 953.3 527.4 954.5 528.9 955.6 530.4 956.8 531.9 958.0 533.4 959.2 534.8 960.3 536.3 961.5 537.7 962.7 539.1 963.8 540.4 965.0 541.8 966.2 543.1 967.4 544.4 968.5 545.7 969.7 546.9 970.9 548.2 972.1 549.4 973.2 550.6 974.4 551.8 975.6 552.9 976.8 554.1 977.9 555.2 979.1 556.3 980.3 557.4 981.5 558.5 982.6 559.5 983.8 560.5 985.0 561.5 986.2 562.5 987.3 563.5 988.5 564.5 989.7 565.4 990.9 566.3 992.0 567.2 993.2 568.1 994.4 569.0 995.6 569.8 996.7 570.7 997.9 571.5 999.1 572.3 1000.3 573.1 1001.4 573.9 1002.6 574.6" stroke="#ffd400" stroke-dasharray="3.4 3.6" stroke-linejoin="round"/>
<path d="M717.2 1127.0 718.4 1108.8 719.5 1090.9 720.7 1073.3 721.9 1056.0 723.1 1039.1 724.2 1022.4 725.4 1006.1 726.6 990.1 727.8 974.3 728.9 958.9 730.1 943.8 731.3 929.0 732.5 914.4 733.6 900.1 734.8 885.8 736.0 871.7 737.2 857.8 738.3 844.2 739.5 830.9 740.7 818.1 741.9 805.7 743.0 793.8 744.2 782.6 745.4 772.0 746.6 762.1 747.7 752.8 748.9 744.0 750.1 735.6 751.3 727.6 752.4 719.9 753.6 712.3 754.8 704.9 756.0 697.5 757.1 690.1 758.3 682.7 759.5 673.6 760.6 665.8 761.8 658.1 763.0 650.7 764.2 643.4 765.3 636.2 766.5 629.2 767.7 622.4 768.9 615.7 770.0 609.1 771.2 602.6 772.4 596.3 773.6 590.1 774.7 584.1 775.9 578.1 777.1 572.3 778.3 566.6 779.4 561.1 780.6 555.6 781.8 550.3 783.0 545.1 784.1 540.1 785.3 535.2 786.5 530.4 787.7 525.7 788.8 521.2 790.0 516.8 791.2 512.5 792.4 508.4 793.5 504.3 794.7 500.5 795.9 496.7 797.1 493.0 798.2 489.5 799.4 486.1 800.6 482.8 801.8 479.6 802.9 476.5 804.1 473.5 805.3 470.6 806.5 467.8 807.6 465.1 808.8 462.5 810.0 460.0 811.2 457.6 812.3 455.3 813.5 453.0 814.7 450.8 815.9 448.8 817.0 446.8 818.2 444.9 819.4 443.0 820.6 441.3 821.7 439.6 822.9 438.0 824.1 436.4 825.3 435.0 826.4 433.6 827.6 432.3 828.8 431.0 829.9 429.8 831.1 428.7 832.3 427.7 833.5 426.7 834.6 425.8 835.8 424.9 837.0 424.1 838.2 423.3 839.3 422.7 840.5 422.0 841.7 421.5 842.9 420.9 844.0 420.5 845.2 420.1 846.4 419.7 847.6 419.4 848.7 419.2 849.9 419.0 851.1 418.8 852.3 418.7 853.4 418.6 854.6 418.6 855.8 418.7 857.0 418.8 858.1 418.9 859.3 419.1 860.5 419.3 861.7 419.6 862.8 419.9 864.0 420.2 865.2 420.6 866.4 421.0 867.5 421.5 868.7 422.0 869.9 422.6 871.1 423.2 872.2 423.8 873.4 424.5 874.6 425.2 875.8 425.9 876.9 426.7 878.1 427.5 879.3 428.3 880.5 429.1 881.6 430.0 882.8 431.0 884.0 431.9 885.2 432.9 886.3 433.9 887.5 435.0 888.7 436.0 889.9 437.1 891.0 438.2 892.2 439.4 893.4 440.5 894.5 441.7 895.7 442.9 896.9 444.2 898.1 445.4 899.2 446.7 900.4 448.0 901.6 449.3 902.8 450.6 903.9 452.0 905.1 453.3 906.3 454.7 907.5 456.1 908.6 457.5 909.8 458.9 911.0 460.4 912.2 461.8 913.3 463.3 914.5 464.7 915.7 466.2 916.9 467.7 918.0 469.2 919.2 470.7 920.4 472.2 921.6 473.7 922.7 475.3 923.9 476.8 925.1 478.3 926.3 479.9 927.4 481.4 928.6 483.0 929.8 484.5 931.0 486.0 932.1 487.6 933.3 489.2 934.5 490.7 935.7 492.3 936.8 493.8 938.0 495.4 939.2 496.9 940.4 498.4 941.5 500.0 942.7 501.5 943.9 503.1 945.1 504.6 946.2 506.1 947.4 507.6 948.6 509.1 949.8 510.6 950.9 512.1 952.1 513.6 953.3 515.1 954.5 516.6 955.6 518.0 956.8 519.5 958.0 520.9 959.2 522.3 960.3 523.7 961.5 525.1 962.7 526.5 963.8 527.9 965.0 529.2 966.2 530.5 967.4 531.9 968.5 533.2 969.7 534.4 970.9 535.7 972.1 537.0 973.2 538.2 974.4 539.4 975.6 540.6 976.8 541.8 977.9 542.9 979.1 544.0 980.3 545.1 981.5 546.2 982.6 547.3 983.8 548.3 985.0 549.3 986.2 550.3 987.3 551.3 988.5 552.2 989.7 553.1 990.9 554.0 992.0 554.8 993.2 555.6 994.4 556.4 995.6 557.2 996.7 557.9 997.9 558.6 999.1 559.3 1000.3 559.9 1001.4 560.5 1002.6 561.1" stroke="#236e12" stroke-linejoin="round" stroke-linecap="butt"/>
<path d="M717.2 1127.0 718.4 1108.8 719.5 1090.9 720.7 1073.3 721.9 1056.0 723.1 1039.1 724.2 1022.4 725.4 1006.1 726.6 990.1 727.8 974.3 728.9 958.9 730.1 943.8 731.3 929.0 732.5 914.4 733.6 900.1 734.8 885.8 736.0 871.7 737.2 857.8 738.3 844.2 739.5 830.9 740.7 818.1 741.9 805.7 743.0 793.8 744.2 782.6 745.4 772.0 746.6 762.1 747.7 752.8 748.9 744.0 750.1 735.6 751.3 727.6 752.4 719.9 753.6 712.3 754.8 704.9 756.0 697.5 757.1 690.1 758.3 682.7 759.5 673.6 760.6 665.8 761.8 658.1 763.0 650.7 764.2 643.4 765.3 636.2 766.5 629.2 767.7 622.4 768.9 615.7 770.0 609.1 771.2 602.6 772.4 596.3 773.6 590.1 774.7 584.1 775.9 578.1 777.1 572.3 778.3 566.6 779.4 561.1 780.6 555.6 781.8 550.3 783.0 545.1 784.1 540.1 785.3 535.2 786.5 530.4 787.7 525.7 788.8 521.2 790.0 516.8 791.2 512.5 792.4 508.4 793.5 504.3 794.7 500.5 795.9 496.7 797.1 493.0 798.2 489.5 799.4 486.1 800.6 482.8 801.8 479.6 802.9 476.5 804.1 473.5 805.3 470.6 806.5 467.8 807.6 465.1 808.8 462.5 810.0 460.0 811.2 457.6 812.3 455.3 813.5 453.0 814.7 450.8 815.9 448.8 817.0 446.8 818.2 444.9 819.4 443.0 820.6 441.3 821.7 439.6 822.9 438.0 824.1 436.4 825.3 435.0 826.4 433.6 827.6 432.3 828.8 431.0 829.9 429.8 831.1 428.7 832.3 427.7 833.5 426.7 834.6 425.8 835.8 424.9 837.0 424.1 838.2 423.3 839.3 422.7 840.5 422.0 841.7 421.5 842.9 420.9 844.0 420.5 845.2 420.1 846.4 419.7 847.6 419.4 848.7 419.2 849.9 419.0 851.1 418.8 852.3 418.7 853.4 418.6 854.6 418.6 855.8 418.7 857.0 418.8 858.1 418.9 859.3 419.1 860.5 419.3 861.7 419.6 862.8 419.9 864.0 420.2 865.2 420.6 866.4 421.0 867.5 421.5 868.7 422.0 869.9 422.6 871.1 423.2 872.2 423.8 873.4 424.5 874.6 425.2 875.8 425.9 876.9 426.7 878.1 427.5 879.3 428.3 880.5 429.1 881.6 430.0 882.8 431.0 884.0 431.9 885.2 432.9 886.3 433.9 887.5 435.0 888.7 436.0 889.9 437.1 891.0 438.2 892.2 439.4 893.4 440.5 894.5 441.7 895.7 442.9 896.9 444.2 898.1 445.4 899.2 446.7 900.4 448.0 901.6 449.3 902.8 450.6 903.9 452.0 905.1 453.3 906.3 454.7 907.5 456.1 908.6 457.5 909.8 458.9 911.0 460.4 912.2 461.8 913.3 463.3 914.5 464.7 915.7 466.2 916.9 467.7 918.0 469.2 919.2 470.7 920.4 472.2 921.6 473.7 922.7 475.3 923.9 476.8 925.1 478.3 926.3 479.9 927.4 481.4 928.6 483.0 929.8 484.5 931.0 486.0 932.1 487.6 933.3 489.2 934.5 490.7 935.7 492.3 936.8 493.8 938.0 495.4 939.2 496.9 940.4 498.4 941.5 500.0 942.7 501.5 943.9 503.1 945.1 504.6 946.2 506.1 947.4 507.6 948.6 509.1 949.8 510.6 950.9 512.1 952.1 513.6 953.3 515.1 954.5 516.6 955.6 518.0 956.8 519.5 958.0 520.9 959.2 522.3 960.3 523.7 961.5 525.1 962.7 526.5 963.8 527.9 965.0 529.2 966.2 530.5 967.4 531.9 968.5 533.2 969.7 534.4 970.9 535.7 972.1 537.0 973.2 538.2 974.4 539.4 975.6 540.6 976.8 541.8 977.9 542.9 979.1 544.0 980.3 545.1 981.5 546.2 982.6 547.3 983.8 548.3 985.0 549.3 986.2 550.3 987.3 551.3 988.5 552.2 989.7 553.1 990.9 554.0 992.0 554.8 993.2 555.6 994.4 556.4 995.6 557.2 996.7 557.9 997.9 558.6 999.1 559.3 1000.3 559.9 1001.4 560.5 1002.6 561.1" stroke="#70b464" stroke-dasharray="3.4 3.6" stroke-linejoin="round"/>
</g>
<text class="tk" x="719.30" y="704.10" text-anchor="middle">2</text>
<text class="tk" x="859.90" y="704.10" text-anchor="middle">2.2</text>
<text class="tk" x="1000.50" y="704.10" text-anchor="middle">2.4</text>
<text class="lb" x="859.90" y="734.70" text-anchor="middle">t (ms)</text>
<rect x="1038.20" y="411.70" width="281.20" height="264.00" fill="none" stroke="#262626" stroke-width="1.8"/>
<path d="M1038.20 675.70V672.10M1038.20 411.70V415.30M1178.80 675.70V672.10M1178.80 411.70V415.30M1319.40 675.70V672.10M1319.40 411.70V415.30M1038.20 675.70H1041.80M1319.40 675.70H1315.80M1038.20 589.14H1041.80M1319.40 589.14H1315.80M1038.20 502.59H1041.80M1319.40 502.59H1315.80M1038.20 416.03H1041.80M1319.40 416.03H1315.80" stroke="#262626" stroke-width="1.6" fill="none"/>
<g clip-path="url(#c13)" fill="none" stroke-width="3.60">
<path d="M1003.0 1989.2 1038.2 1475.3 1073.3 965.4 1108.5 708.6 1143.7 581.8 1178.8 529.0 1214.0 527.3 1249.1 555.0 1284.3 594.3 1319.4 627.2 1354.6 645.4" stroke="#b70c47" stroke-linejoin="round" stroke-linecap="butt"/>
<path d="M1003.0 1989.2 1038.2 1475.3 1073.3 965.4 1108.5 708.6 1143.7 581.8 1178.8 529.0 1214.0 527.3 1249.1 555.0 1284.3 594.3 1319.4 627.2 1354.6 645.4" stroke="#f78fac" stroke-dasharray="3.4 3.6" stroke-linejoin="round"/>
<path d="M1036.1 1235.8 1037.3 1213.9 1038.4 1192.6 1039.6 1172.2 1040.8 1152.8 1042.0 1134.1 1043.1 1115.5 1044.3 1097.1 1045.5 1079.0 1046.7 1061.2 1047.8 1043.7 1049.0 1026.5 1050.2 1009.8 1051.4 993.4 1052.5 977.6 1053.7 962.2 1054.9 947.4 1056.1 933.1 1057.2 919.4 1058.4 906.3 1059.6 893.5 1060.8 880.9 1061.9 868.6 1063.1 856.6 1064.3 844.7 1065.5 833.1 1066.6 821.7 1067.8 810.6 1069.0 799.7 1070.2 789.0 1071.3 778.5 1072.5 768.2 1073.7 758.1 1074.9 748.3 1076.0 738.6 1077.2 729.2 1078.4 720.0 1079.5 710.9 1080.7 702.1 1081.9 693.4 1083.1 685.0 1084.2 676.7 1085.4 667.2 1086.6 659.6 1087.8 652.3 1088.9 645.1 1090.1 638.2 1091.3 631.5 1092.5 625.0 1093.6 618.7 1094.8 612.6 1096.0 606.8 1097.2 601.1 1098.3 595.5 1099.5 590.2 1100.7 585.0 1101.9 579.9 1103.0 575.0 1104.2 570.2 1105.4 565.6 1106.6 561.1 1107.7 556.6 1108.9 552.3 1110.1 548.1 1111.3 544.0 1112.4 540.0 1113.6 536.0 1114.8 532.2 1116.0 528.4 1117.1 524.8 1118.3 521.2 1119.5 517.7 1120.7 514.3 1121.8 510.9 1123.0 507.6 1124.2 504.4 1125.4 501.3 1126.5 498.3 1127.7 495.3 1128.9 492.4 1130.1 489.5 1131.2 486.8 1132.4 484.1 1133.6 481.4 1134.8 478.8 1135.9 476.3 1137.1 473.9 1138.3 471.5 1139.5 469.2 1140.6 467.0 1141.8 464.9 1143.0 462.8 1144.2 460.8 1145.3 458.9 1146.5 457.0 1147.7 455.3 1148.8 453.6 1150.0 452.0 1151.2 450.5 1152.4 449.1 1153.5 447.7 1154.7 446.4 1155.9 445.3 1157.1 444.2 1158.2 443.2 1159.4 442.3 1160.6 441.4 1161.8 440.7 1162.9 440.0 1164.1 439.4 1165.3 438.9 1166.5 438.5 1167.6 438.1 1168.8 437.8 1170.0 437.6 1171.2 437.4 1172.3 437.3 1173.5 437.3 1174.7 437.3 1175.9 437.3 1177.0 437.5 1178.2 437.6 1179.4 437.8 1180.6 438.1 1181.7 438.4 1182.9 438.7 1184.1 439.1 1185.3 439.5 1186.4 440.0 1187.6 440.5 1188.8 441.0 1190.0 441.5 1191.1 442.1 1192.3 442.7 1193.5 443.3 1194.7 443.9 1195.8 444.5 1197.0 445.2 1198.2 445.9 1199.4 446.6 1200.5 447.3 1201.7 448.0 1202.9 448.8 1204.1 449.5 1205.2 450.3 1206.4 451.1 1207.6 452.0 1208.8 452.8 1209.9 453.7 1211.1 454.6 1212.3 455.5 1213.4 456.5 1214.6 457.4 1215.8 458.4 1217.0 459.4 1218.1 460.4 1219.3 461.5 1220.5 462.6 1221.7 463.7 1222.8 464.8 1224.0 465.9 1225.2 467.1 1226.4 468.3 1227.5 469.5 1228.7 470.7 1229.9 472.0 1231.1 473.3 1232.2 474.6 1233.4 475.9 1234.6 477.3 1235.8 478.7 1236.9 480.1 1238.1 481.5 1239.3 483.0 1240.5 484.5 1241.6 486.0 1242.8 487.5 1244.0 489.0 1245.2 490.6 1246.3 492.1 1247.5 493.7 1248.7 495.3 1249.9 496.9 1251.0 498.5 1252.2 500.1 1253.4 501.7 1254.6 503.3 1255.7 505.0 1256.9 506.6 1258.1 508.2 1259.3 509.9 1260.4 511.5 1261.6 513.1 1262.8 514.7 1264.0 516.4 1265.1 518.0 1266.3 519.6 1267.5 521.2 1268.7 522.7 1269.8 524.3 1271.0 525.9 1272.2 527.4 1273.4 528.9 1274.5 530.4 1275.7 531.9 1276.9 533.4 1278.1 534.8 1279.2 536.3 1280.4 537.7 1281.6 539.1 1282.7 540.4 1283.9 541.8 1285.1 543.1 1286.3 544.4 1287.4 545.7 1288.6 546.9 1289.8 548.2 1291.0 549.4 1292.1 550.6 1293.3 551.8 1294.5 552.9 1295.7 554.1 1296.8 555.2 1298.0 556.3 1299.2 557.4 1300.4 558.5 1301.5 559.5 1302.7 560.5 1303.9 561.5 1305.1 562.5 1306.2 563.5 1307.4 564.5 1308.6 565.4 1309.8 566.3 1310.9 567.2 1312.1 568.1 1313.3 569.0 1314.5 569.8 1315.6 570.7 1316.8 571.5 1318.0 572.3 1319.2 573.1 1320.3 573.9 1321.5 574.6" stroke="#ff8000" stroke-linejoin="round" stroke-linecap="butt"/>
<path d="M1036.1 1235.8 1037.3 1213.9 1038.4 1192.6 1039.6 1172.2 1040.8 1152.8 1042.0 1134.1 1043.1 1115.5 1044.3 1097.1 1045.5 1079.0 1046.7 1061.2 1047.8 1043.7 1049.0 1026.5 1050.2 1009.8 1051.4 993.4 1052.5 977.6 1053.7 962.2 1054.9 947.4 1056.1 933.1 1057.2 919.4 1058.4 906.3 1059.6 893.5 1060.8 880.9 1061.9 868.6 1063.1 856.6 1064.3 844.7 1065.5 833.1 1066.6 821.7 1067.8 810.6 1069.0 799.7 1070.2 789.0 1071.3 778.5 1072.5 768.2 1073.7 758.1 1074.9 748.3 1076.0 738.6 1077.2 729.2 1078.4 720.0 1079.5 710.9 1080.7 702.1 1081.9 693.4 1083.1 685.0 1084.2 676.7 1085.4 667.2 1086.6 659.6 1087.8 652.3 1088.9 645.1 1090.1 638.2 1091.3 631.5 1092.5 625.0 1093.6 618.7 1094.8 612.6 1096.0 606.8 1097.2 601.1 1098.3 595.5 1099.5 590.2 1100.7 585.0 1101.9 579.9 1103.0 575.0 1104.2 570.2 1105.4 565.6 1106.6 561.1 1107.7 556.6 1108.9 552.3 1110.1 548.1 1111.3 544.0 1112.4 540.0 1113.6 536.0 1114.8 532.2 1116.0 528.4 1117.1 524.8 1118.3 521.2 1119.5 517.7 1120.7 514.3 1121.8 510.9 1123.0 507.6 1124.2 504.4 1125.4 501.3 1126.5 498.3 1127.7 495.3 1128.9 492.4 1130.1 489.5 1131.2 486.8 1132.4 484.1 1133.6 481.4 1134.8 478.8 1135.9 476.3 1137.1 473.9 1138.3 471.5 1139.5 469.2 1140.6 467.0 1141.8 464.9 1143.0 462.8 1144.2 460.8 1145.3 458.9 1146.5 457.0 1147.7 455.3 1148.8 453.6 1150.0 452.0 1151.2 450.5 1152.4 449.1 1153.5 447.7 1154.7 446.4 1155.9 445.3 1157.1 444.2 1158.2 443.2 1159.4 442.3 1160.6 441.4 1161.8 440.7 1162.9 440.0 1164.1 439.4 1165.3 438.9 1166.5 438.5 1167.6 438.1 1168.8 437.8 1170.0 437.6 1171.2 437.4 1172.3 437.3 1173.5 437.3 1174.7 437.3 1175.9 437.3 1177.0 437.5 1178.2 437.6 1179.4 437.8 1180.6 438.1 1181.7 438.4 1182.9 438.7 1184.1 439.1 1185.3 439.5 1186.4 440.0 1187.6 440.5 1188.8 441.0 1190.0 441.5 1191.1 442.1 1192.3 442.7 1193.5 443.3 1194.7 443.9 1195.8 444.5 1197.0 445.2 1198.2 445.9 1199.4 446.6 1200.5 447.3 1201.7 448.0 1202.9 448.8 1204.1 449.5 1205.2 450.3 1206.4 451.1 1207.6 452.0 1208.8 452.8 1209.9 453.7 1211.1 454.6 1212.3 455.5 1213.4 456.5 1214.6 457.4 1215.8 458.4 1217.0 459.4 1218.1 460.4 1219.3 461.5 1220.5 462.6 1221.7 463.7 1222.8 464.8 1224.0 465.9 1225.2 467.1 1226.4 468.3 1227.5 469.5 1228.7 470.7 1229.9 472.0 1231.1 473.3 1232.2 474.6 1233.4 475.9 1234.6 477.3 1235.8 478.7 1236.9 480.1 1238.1 481.5 1239.3 483.0 1240.5 484.5 1241.6 486.0 1242.8 487.5 1244.0 489.0 1245.2 490.6 1246.3 492.1 1247.5 493.7 1248.7 495.3 1249.9 496.9 1251.0 498.5 1252.2 500.1 1253.4 501.7 1254.6 503.3 1255.7 505.0 1256.9 506.6 1258.1 508.2 1259.3 509.9 1260.4 511.5 1261.6 513.1 1262.8 514.7 1264.0 516.4 1265.1 518.0 1266.3 519.6 1267.5 521.2 1268.7 522.7 1269.8 524.3 1271.0 525.9 1272.2 527.4 1273.4 528.9 1274.5 530.4 1275.7 531.9 1276.9 533.4 1278.1 534.8 1279.2 536.3 1280.4 537.7 1281.6 539.1 1282.7 540.4 1283.9 541.8 1285.1 543.1 1286.3 544.4 1287.4 545.7 1288.6 546.9 1289.8 548.2 1291.0 549.4 1292.1 550.6 1293.3 551.8 1294.5 552.9 1295.7 554.1 1296.8 555.2 1298.0 556.3 1299.2 557.4 1300.4 558.5 1301.5 559.5 1302.7 560.5 1303.9 561.5 1305.1 562.5 1306.2 563.5 1307.4 564.5 1308.6 565.4 1309.8 566.3 1310.9 567.2 1312.1 568.1 1313.3 569.0 1314.5 569.8 1315.6 570.7 1316.8 571.5 1318.0 572.3 1319.2 573.1 1320.3 573.9 1321.5 574.6" stroke="#ffd400" stroke-dasharray="3.4 3.6" stroke-linejoin="round"/>
<path d="M1036.1 1127.0 1037.3 1108.8 1038.4 1090.9 1039.6 1073.3 1040.8 1056.0 1042.0 1039.1 1043.1 1022.4 1044.3 1006.1 1045.5 990.1 1046.7 974.3 1047.8 958.9 1049.0 943.8 1050.2 929.0 1051.4 914.4 1052.5 900.1 1053.7 885.8 1054.9 871.7 1056.1 857.8 1057.2 844.2 1058.4 830.9 1059.6 818.1 1060.8 805.7 1061.9 793.8 1063.1 782.6 1064.3 772.0 1065.5 762.1 1066.6 752.8 1067.8 744.0 1069.0 735.6 1070.2 727.6 1071.3 719.9 1072.5 712.3 1073.7 704.9 1074.9 697.5 1076.0 690.1 1077.2 682.7 1078.4 673.6 1079.5 665.8 1080.7 658.1 1081.9 650.7 1083.1 643.4 1084.2 636.2 1085.4 629.2 1086.6 622.4 1087.8 615.7 1088.9 609.1 1090.1 602.6 1091.3 596.3 1092.5 590.1 1093.6 584.1 1094.8 578.1 1096.0 572.3 1097.2 566.6 1098.3 561.1 1099.5 555.6 1100.7 550.3 1101.9 545.1 1103.0 540.1 1104.2 535.2 1105.4 530.4 1106.6 525.7 1107.7 521.2 1108.9 516.8 1110.1 512.5 1111.3 508.4 1112.4 504.3 1113.6 500.5 1114.8 496.7 1116.0 493.0 1117.1 489.5 1118.3 486.1 1119.5 482.8 1120.7 479.6 1121.8 476.5 1123.0 473.5 1124.2 470.6 1125.4 467.8 1126.5 465.1 1127.7 462.5 1128.9 460.0 1130.1 457.6 1131.2 455.3 1132.4 453.0 1133.6 450.8 1134.8 448.8 1135.9 446.8 1137.1 444.9 1138.3 443.0 1139.5 441.3 1140.6 439.6 1141.8 438.0 1143.0 436.4 1144.2 435.0 1145.3 433.6 1146.5 432.3 1147.7 431.0 1148.8 429.8 1150.0 428.7 1151.2 427.7 1152.4 426.7 1153.5 425.8 1154.7 424.9 1155.9 424.1 1157.1 423.3 1158.2 422.7 1159.4 422.0 1160.6 421.5 1161.8 420.9 1162.9 420.5 1164.1 420.1 1165.3 419.7 1166.5 419.4 1167.6 419.2 1168.8 419.0 1170.0 418.8 1171.2 418.7 1172.3 418.6 1173.5 418.6 1174.7 418.7 1175.9 418.8 1177.0 418.9 1178.2 419.1 1179.4 419.3 1180.6 419.6 1181.7 419.9 1182.9 420.2 1184.1 420.6 1185.3 421.0 1186.4 421.5 1187.6 422.0 1188.8 422.6 1190.0 423.2 1191.1 423.8 1192.3 424.5 1193.5 425.2 1194.7 425.9 1195.8 426.7 1197.0 427.5 1198.2 428.3 1199.4 429.1 1200.5 430.0 1201.7 431.0 1202.9 431.9 1204.1 432.9 1205.2 433.9 1206.4 435.0 1207.6 436.0 1208.8 437.1 1209.9 438.2 1211.1 439.4 1212.3 440.5 1213.4 441.7 1214.6 442.9 1215.8 444.2 1217.0 445.4 1218.1 446.7 1219.3 448.0 1220.5 449.3 1221.7 450.6 1222.8 452.0 1224.0 453.3 1225.2 454.7 1226.4 456.1 1227.5 457.5 1228.7 458.9 1229.9 460.4 1231.1 461.8 1232.2 463.3 1233.4 464.7 1234.6 466.2 1235.8 467.7 1236.9 469.2 1238.1 470.7 1239.3 472.2 1240.5 473.7 1241.6 475.3 1242.8 476.8 1244.0 478.3 1245.2 479.9 1246.3 481.4 1247.5 483.0 1248.7 484.5 1249.9 486.0 1251.0 487.6 1252.2 489.2 1253.4 490.7 1254.6 492.3 1255.7 493.8 1256.9 495.4 1258.1 496.9 1259.3 498.4 1260.4 500.0 1261.6 501.5 1262.8 503.1 1264.0 504.6 1265.1 506.1 1266.3 507.6 1267.5 509.1 1268.7 510.6 1269.8 512.1 1271.0 513.6 1272.2 515.1 1273.4 516.6 1274.5 518.0 1275.7 519.5 1276.9 520.9 1278.1 522.3 1279.2 523.7 1280.4 525.1 1281.6 526.5 1282.7 527.9 1283.9 529.2 1285.1 530.5 1286.3 531.9 1287.4 533.2 1288.6 534.4 1289.8 535.7 1291.0 537.0 1292.1 538.2 1293.3 539.4 1294.5 540.6 1295.7 541.8 1296.8 542.9 1298.0 544.0 1299.2 545.1 1300.4 546.2 1301.5 547.3 1302.7 548.3 1303.9 549.3 1305.1 550.3 1306.2 551.3 1307.4 552.2 1308.6 553.1 1309.8 554.0 1310.9 554.8 1312.1 555.6 1313.3 556.4 1314.5 557.2 1315.6 557.9 1316.8 558.6 1318.0 559.3 1319.2 559.9 1320.3 560.5 1321.5 561.1" stroke="#236e12" stroke-linejoin="round" stroke-linecap="butt"/>
<path d="M1036.1 1127.0 1037.3 1108.8 1038.4 1090.9 1039.6 1073.3 1040.8 1056.0 1042.0 1039.1 1043.1 1022.4 1044.3 1006.1 1045.5 990.1 1046.7 974.3 1047.8 958.9 1049.0 943.8 1050.2 929.0 1051.4 914.4 1052.5 900.1 1053.7 885.8 1054.9 871.7 1056.1 857.8 1057.2 844.2 1058.4 830.9 1059.6 818.1 1060.8 805.7 1061.9 793.8 1063.1 782.6 1064.3 772.0 1065.5 762.1 1066.6 752.8 1067.8 744.0 1069.0 735.6 1070.2 727.6 1071.3 719.9 1072.5 712.3 1073.7 704.9 1074.9 697.5 1076.0 690.1 1077.2 682.7 1078.4 673.6 1079.5 665.8 1080.7 658.1 1081.9 650.7 1083.1 643.4 1084.2 636.2 1085.4 629.2 1086.6 622.4 1087.8 615.7 1088.9 609.1 1090.1 602.6 1091.3 596.3 1092.5 590.1 1093.6 584.1 1094.8 578.1 1096.0 572.3 1097.2 566.6 1098.3 561.1 1099.5 555.6 1100.7 550.3 1101.9 545.1 1103.0 540.1 1104.2 535.2 1105.4 530.4 1106.6 525.7 1107.7 521.2 1108.9 516.8 1110.1 512.5 1111.3 508.4 1112.4 504.3 1113.6 500.5 1114.8 496.7 1116.0 493.0 1117.1 489.5 1118.3 486.1 1119.5 482.8 1120.7 479.6 1121.8 476.5 1123.0 473.5 1124.2 470.6 1125.4 467.8 1126.5 465.1 1127.7 462.5 1128.9 460.0 1130.1 457.6 1131.2 455.3 1132.4 453.0 1133.6 450.8 1134.8 448.8 1135.9 446.8 1137.1 444.9 1138.3 443.0 1139.5 441.3 1140.6 439.6 1141.8 438.0 1143.0 436.4 1144.2 435.0 1145.3 433.6 1146.5 432.3 1147.7 431.0 1148.8 429.8 1150.0 428.7 1151.2 427.7 1152.4 426.7 1153.5 425.8 1154.7 424.9 1155.9 424.1 1157.1 423.3 1158.2 422.7 1159.4 422.0 1160.6 421.5 1161.8 420.9 1162.9 420.5 1164.1 420.1 1165.3 419.7 1166.5 419.4 1167.6 419.2 1168.8 419.0 1170.0 418.8 1171.2 418.7 1172.3 418.6 1173.5 418.6 1174.7 418.7 1175.9 418.8 1177.0 418.9 1178.2 419.1 1179.4 419.3 1180.6 419.6 1181.7 419.9 1182.9 420.2 1184.1 420.6 1185.3 421.0 1186.4 421.5 1187.6 422.0 1188.8 422.6 1190.0 423.2 1191.1 423.8 1192.3 424.5 1193.5 425.2 1194.7 425.9 1195.8 426.7 1197.0 427.5 1198.2 428.3 1199.4 429.1 1200.5 430.0 1201.7 431.0 1202.9 431.9 1204.1 432.9 1205.2 433.9 1206.4 435.0 1207.6 436.0 1208.8 437.1 1209.9 438.2 1211.1 439.4 1212.3 440.5 1213.4 441.7 1214.6 442.9 1215.8 444.2 1217.0 445.4 1218.1 446.7 1219.3 448.0 1220.5 449.3 1221.7 450.6 1222.8 452.0 1224.0 453.3 1225.2 454.7 1226.4 456.1 1227.5 457.5 1228.7 458.9 1229.9 460.4 1231.1 461.8 1232.2 463.3 1233.4 464.7 1234.6 466.2 1235.8 467.7 1236.9 469.2 1238.1 470.7 1239.3 472.2 1240.5 473.7 1241.6 475.3 1242.8 476.8 1244.0 478.3 1245.2 479.9 1246.3 481.4 1247.5 483.0 1248.7 484.5 1249.9 486.0 1251.0 487.6 1252.2 489.2 1253.4 490.7 1254.6 492.3 1255.7 493.8 1256.9 495.4 1258.1 496.9 1259.3 498.4 1260.4 500.0 1261.6 501.5 1262.8 503.1 1264.0 504.6 1265.1 506.1 1266.3 507.6 1267.5 509.1 1268.7 510.6 1269.8 512.1 1271.0 513.6 1272.2 515.1 1273.4 516.6 1274.5 518.0 1275.7 519.5 1276.9 520.9 1278.1 522.3 1279.2 523.7 1280.4 525.1 1281.6 526.5 1282.7 527.9 1283.9 529.2 1285.1 530.5 1286.3 531.9 1287.4 533.2 1288.6 534.4 1289.8 535.7 1291.0 537.0 1292.1 538.2 1293.3 539.4 1294.5 540.6 1295.7 541.8 1296.8 542.9 1298.0 544.0 1299.2 545.1 1300.4 546.2 1301.5 547.3 1302.7 548.3 1303.9 549.3 1305.1 550.3 1306.2 551.3 1307.4 552.2 1308.6 553.1 1309.8 554.0 1310.9 554.8 1312.1 555.6 1313.3 556.4 1314.5 557.2 1315.6 557.9 1316.8 558.6 1318.0 559.3 1319.2 559.9 1320.3 560.5 1321.5 561.1" stroke="#70b464" stroke-dasharray="3.4 3.6" stroke-linejoin="round"/>
</g>
<text class="tk" x="1038.20" y="704.10" text-anchor="middle">2</text>
<text class="tk" x="1178.80" y="704.10" text-anchor="middle">2.2</text>
<text class="tk" x="1319.40" y="704.10" text-anchor="middle">2.4</text>
<text class="lb" x="1178.80" y="734.70" text-anchor="middle">t (ms)</text>
<rect x="1246.70" y="141.70" width="239.90" height="152.80" fill="#fff" stroke="#262626" stroke-width="1.6"/>
<path d="M1255.3 157.00H1313.6" stroke="#b70c47" stroke-width="3.60"/>
<text class="lg" x="1317.7" y="163.40">Δt=0.05 ms (C)</text>
<path d="M1255.3 181.60H1313.6" stroke="#f78fac" stroke-width="3.60" stroke-dasharray="5.0 3.6 3.4 3.6 3.4 3.6 3.4 3.6 3.4 3.6 3.4 3.6 3.4 3.6 3.4 20"/>
<text class="lg" x="1317.7" y="188.00">Δt=0.05 ms (S)</text>
<path d="M1255.3 206.20H1313.6" stroke="#ff8000" stroke-width="3.60"/>
<text class="lg" x="1317.7" y="212.60">Δt=0.01 ms (C)</text>
<path d="M1255.3 230.80H1313.6" stroke="#ffd400" stroke-width="3.60" stroke-dasharray="5.0 3.6 3.4 3.6 3.4 3.6 3.4 3.6 3.4 3.6 3.4 3.6 3.4 3.6 3.4 20"/>
<text class="lg" x="1317.7" y="237.20">Δt=0.01 ms (S)</text>
<path d="M1255.3 255.40H1313.6" stroke="#236e12" stroke-width="3.60"/>
<text class="lg" x="1317.7" y="261.80">Δt=0.001 ms (C)</text>
<path d="M1255.3 280.00H1313.6" stroke="#70b464" stroke-width="3.60" stroke-dasharray="5.0 3.6 3.4 3.6 3.4 3.6 3.4 3.6 3.4 3.6 3.4 3.6 3.4 3.6 3.4 20"/>
<text class="lg" x="1317.7" y="286.40">Δt=0.001 ms (S)</text>
</svg></body></html>
